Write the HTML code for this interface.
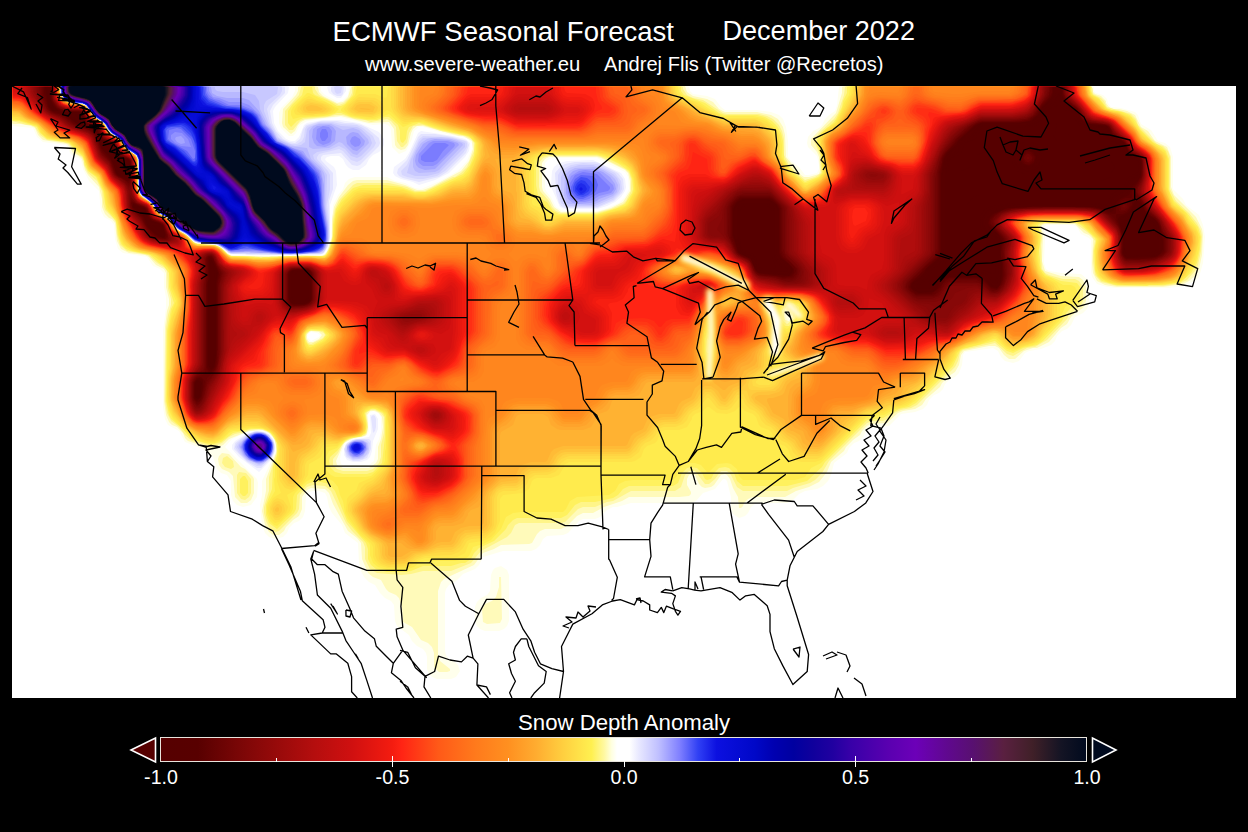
<!DOCTYPE html>
<html><head><meta charset="utf-8">
<style>
html,body{margin:0;padding:0;background:#000;width:1248px;height:832px;overflow:hidden;}
body{position:relative;font-family:"Liberation Sans",sans-serif;color:#fff;}
.t{position:absolute;white-space:nowrap;line-height:1;}
#map{position:absolute;left:12px;top:86px;width:1224px;height:612px;background:#fff;overflow:hidden;}
#map svg{position:absolute;left:0;top:0;}
#cb{position:absolute;left:161px;top:738px;width:926px;height:24px;background:linear-gradient(to right,#560000 0.00%,#580000 4.00%,#780606 8.20%,#960a0a 12.35%,#b40e0e 16.50%,#d01010 20.65%,#f41c10 25.00%,#ff2414 26.00%,#ff5a18 30.00%,#ff7a1c 34.00%,#ff9020 37.50%,#ffac30 40.50%,#ffd040 43.50%,#fff050 46.50%,#fff8a0 47.85%,#ffffe0 48.65%,#ffffff 49.25%,#ffffff 50.60%,#e8e8ff 51.60%,#c0c0ff 53.70%,#8080ff 56.00%,#3040f4 58.00%,#0c10e0 60.00%,#0008c8 64.10%,#0000b0 66.20%,#0000a0 68.30%,#10009c 70.40%,#2000a0 72.50%,#3800a8 74.50%,#5a00b0 78.60%,#6c00b8 81.50%,#600890 84.80%,#581070 87.70%,#5a2040 91.00%,#402028 94.10%,#141424 97.20%,#000a1e 100.00%);}
#cbo{position:absolute;left:160px;top:737px;width:925px;height:23px;border:1.5px solid #e8e4dc;}
.tk{position:absolute;width:1px;background:#fff;}
.lb{position:absolute;white-space:nowrap;line-height:1;font-size:19.6px;}
</style></head><body>
<div class="t" id="t1" style="left:332.6px;top:18px;font-size:27.55px;">ECMWF Seasonal Forecast</div>
<div class="t" id="t2" style="left:722.5px;top:18px;font-size:27.05px;">December 2022</div>
<div class="t" id="t3" style="left:365px;top:54px;font-size:20.3px;">www.severe-weather.eu</div>
<div class="t" id="t4" style="left:604px;top:54px;font-size:20.1px;">Andrej Flis (Twitter @Recretos)</div>
<div id="map"><svg width="1224" height="612" viewBox="0 0 1224 612" style="position:absolute;left:0;top:0;filter:blur(0.7px)"><g fill-rule="evenodd"><path fill="#ffffec" d="M-2 1l3 -3l46 0l1 9l6 8l19 4l6 8l6 6l4 2l6 8l6 6l4 2l12 14l7 4l2 4l0 30l3 6l8 6l12 14l8 4l8 10l10 6l9 8l15 1l8 2l12 9l60 1l2 -1l30 0l3 -2l3 -6l2 -8l2 -34l5 -10l5 -6l2 -6l4 -4l6 -2l32 0l8 4l10 2l10 5l6 1l19 -8l18 -10l9 -10l5 -12l0 -6l-5 -5l-20 -4l-24 -7l-4 0l-5 4l-2 8l-6 12l-7 3l-7 -7l-1 -16l-1 -4l-2 -2l-3 -1l-12 1l-34 -8l-32 4l-7 4l-4 8l-3 3l-4 0l-8 -8l-2 -5l0 -10l2 -5l11 -11l3 -6l0 -4l4 -2l18 0l4 2l0 4l4 4l14 7l4 -2l5 -5l1 -8l2 -2l36 0l2 -1l286 0l10 1l4 2l1 4l3 3l14 2l8 3l6 8l4 3l32 0l14 2l8 3l4 4l3 8l2 14l0 16l3 4l8 6l6 8l4 0l8 -2l2 -4l0 -4l-2 -9l-9 -9l-1 -4l1 -6l5 -6l6 -3l3 -3l3 -6l4 -4l6 -4l2 -6l2 -18l4 -2l10 -1l236 0l5 3l0 4l2 2l7 2l4 4l1 4l3 4l10 1l14 4l3 3l3 9l10 6l7 11l7 2l5 4l3 10l0 32l10 10l3 6l13 10l4 10l2 12l-2 26l-4 14l-4 4l-12 5l-14 2l-54 0l-8 -1l-10 -3l-5 -7l-1 -6l0 -31l-2 -2l-8 -4l-4 -7l-4 -2l-26 0l-3 2l1 10l-1 26l2 6l3 2l12 2l20 1l6 5l2 4l0 20l-2 6l-4 4l-8 4l-4 8l-4 4l-5 2l-5 5l-2 5l-4 4l-10 4l-12 2l-4 2l-6 8l-6 2l-8 -2l-4 -4l-3 -6l-5 -3l-28 4l-2 3l-1 10l-3 8l-4 4l-5 2l-5 5l-2 5l-4 4l-5 2l-5 5l-2 5l-4 4l-8 3l-14 2l-12 12l-20 2l-3 3l-3 6l-4 4l-5 2l-5 5l-2 5l-13 10l-3 12l-3 6l-5 5l-6 3l-12 2l-6 3l-7 7l-5 2l-28 0l-4 1l-4 3l-3 6l-3 3l-6 2l-6 -4l-2 -5l0 -12l-4 -16l-2 -2l-2 0l-8 10l-12 4l-7 8l-5 2l-60 0l-14 4l-4 0l-6 3l-7 7l-5 2l-12 0l-4 2l-11 12l-5 2l-16 1l-4 3l-3 6l-4 4l-5 2l-28 0l-20 6l-4 8l-4 4l-12 5l-8 8l-6 3l-3 4l-1 4l0 58l1 4l3 4l6 3l3 3l2 6l-4 6l-5 2l-14 0l-5 -2l-3 -3l-2 -5l0 -12l-1 -4l-3 -4l-6 -3l-5 -5l-3 -6l-12 -9l-2 -5l-1 -16l-3 -4l-6 -3l-5 -5l-5 -8l-6 -3l-5 -5l-3 -6l-2 -8l-1 -20l-13 -10l-3 -8l-10 -12l-3 -6l-2 -10l-2 -4l-6 -2l-6 0l-4 1l-3 3l-1 16l-2 6l-4 4l-5 2l-5 5l-2 5l-4 4l-8 2l-6 -2l-4 -4l-3 -8l-2 -20l2 -10l0 -14l14 -30l-1 -10l-4 -6l-4 -3l-6 -2l-6 0l-8 2l-15 7l-7 8l32 32l1 4l-1 14l-6 8l-8 2l-6 -2l-4 -4l-2 -6l0 -14l-4 -6l-6 -2l-4 -4l-4 -12l-10 -8l-18 -7l-6 -11l-11 -6l-3 -6l-2 -12l0 -76l3 -24l0 -10l-2 -10l0 -14l-4 -4l-7 -3l-6 -9l-24 -4l-5 -4l-3 -10l-1 -14l-3 -4l-7 -4l-3 -6l-2 -20l-10 -10l-6 -12l-2 -9l-2 -2l-6 -2l-3 -3l-1 -4l-3 -4l-23 -3l-6 -5l-4 -9l-20 -2l-1 -1l-2 -8zM295 251l4 4l8 -4l1 -2l-3 -2l-6 -1l-2 1zM366 327l-5 -2l-4 2l-1 2l1 16l-2 4l-4 2l-14 3l-4 3l-4 10l-1 6l1 5l2 1l26 0l5 -4l2 -16l3 -6l2 -8l0 -14zM533 77l0 24l1 4l5 6l5 10l7 4l34 0l8 -2l14 -6l6 -6l4 -8l-1 -12l-3 -5l-28 -14l-42 0l-6 1zM777 223l-1 2l1 5l1 -3zM489 480l6 4l2 5l0 46l-2 5l-3 3l-5 2l-14 0l-5 -2l-3 -3l-2 -5l0 -14l2 -5l4 -4l6 -3l3 -4l1 -16l2 -5l2 -2z"/><path fill="#fffaba" d="M-2 1l3 -3l44 0l3 3l0 6l3 6l8 4l6 0l8 2l6 8l6 6l4 2l6 8l6 6l4 2l12 14l7 4l2 4l0 30l1 4l6 6l4 2l12 14l8 4l10 12l6 3l10 9l20 2l8 4l6 6l4 1l36 1l2 -1l28 0l2 -1l20 1l3 -1l3 -3l5 -15l0 -18l2 -12l5 -10l9 -12l5 -4l4 -1l30 0l18 5l12 5l6 0l8 -3l30 -16l8 -10l4 -12l-1 -8l-9 -5l-4 0l-36 -10l-6 0l-4 3l-2 4l-3 12l-3 4l-4 1l-4 -2l-2 -3l-1 -16l-5 -7l-20 1l-28 -7l-36 4l-4 2l-3 3l-3 6l-4 3l-8 -7l-1 -4l1 -14l13 -14l2 -4l0 -4l7 -2l6 0l7 2l1 5l4 4l14 7l6 -1l5 -5l3 -10l4 -2l48 0l2 -1l262 0l18 2l2 6l6 4l14 3l6 3l6 7l6 3l32 0l14 3l7 4l5 8l2 8l1 22l15 18l3 2l5 0l10 -3l1 -3l-1 -14l-2 -5l-6 -7l0 -6l25 -26l6 -20l0 -6l7 -2l10 0l2 -1l224 0l6 2l2 3l0 3l2 2l6 2l5 5l0 2l3 4l4 2l6 0l8 2l8 4l6 12l7 4l7 10l12 6l4 10l0 30l3 8l22 22l6 12l1 6l-1 20l-3 14l-3 6l-7 6l-6 3l-20 3l-46 0l-12 -2l-8 -4l-4 -8l-1 -10l1 -24l-4 -4l-5 -2l-9 -9l-30 0l-3 1l-1 2l2 8l-1 26l3 10l16 5l18 1l4 3l3 7l0 14l-3 7l-8 5l-4 4l-4 7l-6 4l-12 14l-12 6l-4 0l-9 3l-9 8l-6 0l-5 -4l-5 -7l-4 -2l-6 0l-25 5l-3 4l-2 10l-4 7l-6 4l-7 7l-2 4l-14 12l-4 6l-7 4l-12 2l-5 2l-11 10l-16 1l-4 2l-5 5l-2 4l-7 5l-7 7l-2 4l-13 11l-4 10l-8 10l-10 5l-13 4l-11 6l-32 0l-5 2l-4 4l-1 3l-2 2l-2 0l-1 -11l-5 -9l-3 -9l-3 -4l-2 -1l-4 1l-7 10l-3 2l-6 1l-3 -1l-3 -3l-4 -9l-4 -1l-2 1l-2 4l0 6l4 7l0 2l-2 2l-10 1l-50 0l-7 4l-18 6l-11 6l-10 0l-6 3l-10 10l-6 3l-16 0l-5 2l-3 3l-5 9l-3 1l-28 1l-7 4l-11 4l-9 12l-30 14l-3 3l-3 9l0 64l2 6l10 8l0 2l-3 1l-8 0l-5 -5l0 -14l-2 -6l-4 -4l-7 -3l-9 -13l-9 -5l-1 -15l-3 -9l-3 -3l-7 -3l-3 -3l-5 -9l-8 -3l-5 -4l-6 -14l-1 -16l-4 -5l-9 -7l-15 -27l-4 -11l-4 -4l-14 -1l-4 2l-5 7l0 12l-3 7l-6 4l-7 7l-2 4l-5 4l-6 0l-4 -3l-4 -7l-3 -14l4 -20l0 -12l10 -26l0 -10l-3 -6l-4 -4l-6 -3l-14 1l-20 8l-6 6l-8 4l-4 0l-23 -8l-3 -3l-2 -5l-6 -6l-5 -2l-3 -3l-3 -7l-2 -14l1 -74l2 -16l2 -6l0 -6l-3 -12l0 -14l-2 -4l-8 -4l-7 -8l-4 -2l-16 -2l-8 -4l-4 -8l-2 -18l-3 -4l-3 -1l-4 -4l-3 -7l0 -8l-3 -12l-11 -12l-3 -5l-3 -11l-3 -3l-6 -3l-3 -6l-3 -3l-24 -4l-5 -5l-3 -7l-4 -2l-10 -2l-8 0l-1 -1l-2 -12zM295 253l2 3l4 0l6 -3l3 -4l-3 -3l-8 -1l-4 3zM367 327l-4 -2l-5 0l-3 4l1 8l-1 11l-2 2l-12 2l-9 5l-8 18l1 4l6 3l26 0l7 -5l2 -4l0 -12l3 -8l2 -12l-1 -10zM530 77l0 24l1 4l7 8l4 8l7 5l36 0l14 -4l12 -6l7 -11l0 -10l-2 -8l-3 -3l-24 -12l-4 -1l-48 0l-4 2zM779 219l-4 0l-2 4l-1 8l1 3l4 1l4 -4l1 -8zM210 367l7 1l12 13l4 2l8 8l1 2l0 14l-3 7l-4 3l-6 0l-6 -6l-2 -21l-4 -4l-7 -3l-3 -4l-1 -6l1 -3zM489 491l1 42l-2 4l-13 1l-4 -2l-1 -13l3 -5l7 -3l4 -4l3 -10l0 -10z"/><path fill="#fff589" d="M-2 1l3 -3l44 0l3 3l0 6l3 6l4 3l18 3l4 4l4 7l8 5l4 4l4 7l8 5l4 4l4 7l12 9l1 4l0 28l1 4l3 4l7 4l9 12l9 5l12 13l10 6l4 5l4 2l18 1l6 3l6 6l4 2l46 1l2 -1l44 0l2 -1l4 -6l3 -10l1 -20l2 -10l4 -9l14 -15l4 -2l32 0l18 4l8 4l10 0l28 -14l2 0l6 -4l6 -6l7 -16l0 -8l-3 -4l-6 -3l-24 -5l-18 -6l-10 1l-4 7l-2 10l-4 4l-2 0l-4 -6l-1 -14l-5 -6l-4 -2l-16 3l-6 -2l-10 -1l-12 -4l-8 0l-8 2l-22 2l-5 2l-7 9l-4 0l-4 -5l0 -14l14 -16l2 -8l2 -1l10 0l2 1l0 2l4 6l20 10l5 -2l6 -6l2 -4l0 -6l3 -1l32 0l2 -1l28 0l2 -1l240 0l2 1l20 1l2 1l0 2l4 6l6 3l10 2l20 13l4 1l32 0l8 2l6 3l6 6l3 6l2 8l0 16l5 10l6 7l10 8l10 -3l6 -4l-1 -18l-6 -14l5 -8l15 -14l4 -6l6 -18l1 -8l2 -1l20 -1l2 -1l214 0l6 1l3 2l1 7l8 4l3 3l3 6l24 7l5 5l2 6l19 19l6 2l5 5l2 6l0 32l6 12l13 12l8 10l4 8l1 6l-1 14l-3 14l-3 6l-8 9l-8 4l-16 2l-46 0l-16 -4l-6 -7l-2 -14l0 -10l2 -10l-4 -6l-16 -12l-30 0l-5 2l2 12l-1 8l1 24l3 4l4 2l14 4l12 0l4 2l4 6l0 14l-2 4l-12 10l-2 4l-20 21l-12 7l-8 1l-14 8l-6 -2l-12 -11l-32 7l-3 3l-2 8l-3 6l-38 38l-6 3l-10 2l-7 3l-5 5l-6 3l-10 0l-6 2l-38 38l-7 12l-7 7l-5 3l-17 5l-6 3l-44 0l-6 -4l-6 -12l-4 -4l-6 0l-6 8l-6 5l-4 0l-10 -13l-6 0l-4 4l-4 12l-6 4l-44 0l-18 10l-6 1l-12 5l-12 0l-5 2l-13 13l-4 1l-42 0l-4 2l-4 8l-4 4l-26 14l-10 12l-20 8l-28 0l-12 3l-10 1l-24 -2l-7 -4l-5 -10l0 -12l-2 -5l-11 -11l-6 -8l-15 -32l-6 -5l-12 -1l-6 2l-7 8l-1 14l-2 4l-18 18l-4 1l-6 -5l-3 -6l-2 -8l0 -6l5 -16l0 -14l8 -26l-2 -12l-5 -6l-3 -2l-8 -2l-10 1l-4 2l-10 2l-6 3l-7 6l-7 3l-6 0l-17 -5l-7 -6l-6 -8l-8 -6l-4 -8l-2 -12l1 -72l2 -14l3 -10l0 -6l-3 -10l-1 -18l-2 -3l-8 -5l-9 -8l-21 -4l-7 -6l-3 -10l-1 -12l-2 -4l-9 -9l-2 -7l-1 -12l-5 -10l-9 -8l-4 -8l0 -4l-2 -4l-5 -3l-8 -10l-6 -2l-16 -2l-7 -5l-5 -8l-4 -2l-4 0l-15 -4l-2 -16zM294 253l2 4l3 1l12 -6l2 -3l-1 -2l-5 -2l-10 0l-3 4zM369 327l-6 -3l-4 0l-4 2l-1 3l2 12l-1 5l-2 3l-4 2l-4 0l-10 3l-5 5l-4 8l-5 6l0 6l4 4l6 2l24 0l6 -2l6 -6l2 -6l0 -12l3 -12l0 -16zM527 77l0 24l1 4l9 10l3 6l4 4l5 2l36 0l14 -4l12 -5l3 -3l5 -10l0 -12l-2 -6l-4 -4l-24 -12l-4 -1l-48 0l-6 2zM781 218l-8 1l-3 6l-1 6l2 4l4 3l8 -6l2 -5l0 -4l-2 -4zM211 372l4 -2l6 5l1 6l-3 2l-6 -2l-3 -4zM227 386l7 1l5 6l0 14l-2 4l-4 3l-4 -1l-4 -6l0 -18z"/><path fill="#fff15e" d="M-2 1l3 -3l44 0l2 1l1 10l5 6l20 4l4 4l3 6l3 3l6 3l4 4l3 6l3 3l6 3l4 4l3 6l13 10l1 4l0 30l2 4l3 3l6 3l4 4l3 6l3 3l8 4l9 11l9 5l8 8l4 2l18 1l6 3l6 6l4 2l28 1l2 1l2 -1l60 -1l3 -1l4 -8l3 -10l0 -12l3 -16l6 -10l11 -11l10 -3l22 0l16 2l14 5l10 0l38 -18l7 -9l4 -10l1 -12l-4 -5l-4 -2l-26 -6l-22 -7l-10 4l-2 4l-1 8l-3 4l-2 -1l-1 -3l0 -8l-2 -6l-9 -8l-4 0l-8 3l-10 0l-16 -3l-10 -4l-4 0l-8 3l-26 2l-6 3l-6 6l-3 -4l0 -12l4 -6l10 -10l2 -8l8 0l1 6l2 2l14 6l8 5l4 0l4 -2l8 -9l1 -8l3 -1l88 -1l2 -1l186 0l2 1l38 0l8 2l0 4l3 4l21 8l14 10l6 2l32 0l8 2l7 4l5 5l4 7l2 8l1 18l6 10l15 13l13 -5l4 -4l-1 -18l-4 -10l0 -6l4 -6l12 -10l3 -4l6 -12l1 -6l4 -8l0 -6l8 -2l54 0l2 -1l10 0l2 1l156 -1l8 1l4 2l0 4l2 4l6 3l8 10l4 2l12 2l7 3l5 5l5 9l13 13l9 5l4 4l3 8l0 30l1 4l4 8l13 12l11 14l3 10l-1 12l-3 14l-6 10l-10 9l-16 3l-16 0l-2 1l-32 -1l-13 -4l-5 -5l-2 -5l-1 -20l2 -10l-1 -3l-14 -13l-4 -2l-36 0l-3 2l3 12l-2 14l2 18l5 6l15 6l16 2l3 4l0 14l-1 2l-8 5l-5 5l-4 8l-19 20l-6 4l-14 3l-10 5l-6 -2l-12 -10l-32 8l-3 2l-7 15l-37 37l-7 4l-10 2l-16 9l-16 2l-42 42l-3 5l-15 14l-20 5l-44 0l-6 -5l-3 -8l-5 -5l-4 -1l-6 1l-5 5l-3 6l-4 1l-2 -1l-3 -6l-5 -5l-6 -1l-4 1l-5 5l-4 10l-5 3l-44 0l-6 3l-5 6l-5 3l-18 4l-14 0l-6 3l-8 10l-6 3l-44 0l-4 2l-5 5l-2 4l-12 12l-15 7l-5 5l-3 6l-6 4l-4 0l-10 3l-28 0l-12 5l-6 1l-18 0l-11 -3l-5 -4l-3 -6l0 -10l-2 -6l-19 -22l-12 -30l-6 -7l-8 -2l-8 0l-6 2l-10 11l-1 14l-2 4l-17 16l-8 -6l-3 -8l0 -10l6 -16l1 -22l4 -12l0 -12l-6 -10l-8 -4l-12 0l-18 4l-12 9l-10 3l-20 -6l-8 -10l-12 -10l-2 -4l-3 -14l1 -70l4 -22l3 -6l-5 -16l0 -14l-6 -8l-4 -2l-9 -8l-19 -4l-5 -2l-5 -5l-3 -9l-2 -14l-10 -12l-3 -18l-7 -14l-8 -6l-3 -6l-2 -8l-14 -14l-22 -4l-7 -6l-3 -6l-18 -6l-6 0l-2 -6zM293 251l2 6l2 2l4 0l10 -6l3 -4l-3 -4l-12 -1l-5 3zM371 327l-8 -4l-4 0l-6 4l2 12l-1 8l-7 4l-8 1l-6 3l-8 10l-7 6l-1 4l1 6l5 5l8 2l24 0l6 -2l9 -9l3 -26l0 -20zM525 75l-1 4l0 20l2 10l5 5l4 2l6 9l6 3l38 0l20 -6l8 -4l7 -11l1 -4l-1 -10l-3 -8l-10 -7l-12 -6l-10 -3l-50 0l-6 2zM695 252l-1 13l1 2l2 0l1 -8l-1 -5zM781 217l-6 0l-4 2l-2 4l-2 10l6 7l4 0l10 -11l0 -8zM231 390l2 0l3 5l0 12l-3 3l-2 0l-3 -3l0 -14z"/><path fill="#ffeb4d" d="M-2 1l3 -3l42 0l4 2l1 9l5 6l6 2l10 1l6 3l5 8l3 3l6 3l4 4l3 6l3 3l6 3l4 4l3 6l13 10l1 4l0 30l2 4l3 3l6 3l10 13l8 4l10 12l9 5l8 8l7 2l16 1l4 2l8 8l24 1l2 1l18 0l16 -2l26 0l2 1l8 -1l3 -3l4 -10l4 -30l5 -10l12 -12l6 -3l36 0l8 1l12 4l14 -1l34 -16l5 -5l6 -12l2 -8l0 -8l-7 -7l-28 -7l-22 -7l-6 1l-10 4l-14 -13l-14 5l-8 0l-16 -3l-10 -5l0 -2l14 -14l2 -8l30 0l12 -2l60 0l2 -1l142 0l2 1l64 0l9 2l1 5l4 4l8 4l8 2l12 8l12 6l30 0l10 2l4 2l8 7l5 8l2 10l0 12l7 13l15 13l3 0l13 -6l3 -4l-1 -16l-4 -16l4 -8l5 -5l8 -5l6 -11l3 -9l5 -8l1 -8l9 -2l170 0l2 -1l46 0l10 1l3 2l0 4l2 4l7 4l8 10l14 3l10 5l8 12l14 14l12 8l3 8l0 30l6 14l12 10l3 6l7 8l4 10l-1 12l-3 12l-3 6l-7 10l-5 4l-6 2l-18 2l-38 0l-12 -3l-8 -5l-3 -6l-1 -8l0 -14l2 -10l-14 -14l-8 -3l-32 0l-4 1l-3 2l0 2l4 10l-2 20l1 8l3 8l3 3l6 2l12 7l8 0l4 2l2 4l-1 10l-11 6l-6 14l-20 21l-6 3l-10 2l-10 4l-6 -2l-11 -10l-3 0l-12 5l-20 5l-4 4l-1 4l-5 8l-36 36l-8 5l-12 3l-11 6l-13 1l-6 3l-44 44l-10 5l-6 9l-10 3l-52 0l-4 -4l-2 -7l-6 -5l-4 -1l-10 1l-8 8l-2 0l-6 -7l-6 -2l-6 0l-6 2l-4 4l-2 7l-4 4l-40 0l-8 1l-6 3l-4 7l-6 4l-32 2l-7 4l-4 8l-3 3l-42 0l-8 1l-7 4l-5 12l-10 11l-8 4l-10 3l-4 9l-4 3l-10 2l-30 0l-6 2l-5 4l-9 3l-18 0l-9 -3l-5 -4l-3 -8l0 -10l-1 -2l-9 -8l-12 -16l-3 -6l-2 -12l-3 -6l-2 -8l-5 -6l-4 -2l-18 0l-4 2l-12 12l-2 4l0 12l-2 4l-14 13l-3 -1l-4 -4l-3 -8l0 -6l1 -4l7 -12l-1 -12l1 -2l0 -12l3 -12l0 -8l-3 -8l-6 -6l-8 -3l-10 0l-12 3l-6 0l-4 2l-6 6l-8 4l-8 0l-8 -2l-8 -4l-18 -18l-4 -8l-2 -8l1 -72l4 -20l4 -10l-5 -12l-2 -19l-2 -3l-12 -10l-6 -3l-16 -3l-10 -6l-3 -6l-4 -20l-7 -8l-3 -6l-2 -14l-7 -14l-8 -6l-6 -15l-13 -13l-5 -2l-6 0l-12 -3l-6 -5l-4 -7l-18 -6l-6 0l-2 -7zM293 255l4 6l2 0l12 -6l5 -6l-5 -5l-12 -1l-4 2l-2 3zM370 325l-9 -3l-6 2l-3 3l2 10l-1 10l-4 3l-12 2l-4 2l-8 8l-8 3l-3 6l-1 8l2 6l4 4l4 2l30 0l6 -1l12 -11l2 -4l0 -10l1 -2l0 -34zM522 75l0 32l3 8l8 4l4 6l4 3l4 1l40 0l28 -9l3 -3l5 -10l1 -4l-1 -10l-3 -8l-5 -5l-20 -10l-8 -2l-50 0l-10 4zM695 246l-2 7l0 14l2 4l2 0l2 -4l-1 -16zM787 218l-12 -2l-7 5l-4 12l7 8l4 2l14 -12l1 -6zM279 29l0 -4l2 -4l14 -14l2 0l30 16l-4 4l-12 3l-22 1l-8 2z"/><path fill="#ffe349" d="M-2 1l3 -3l42 0l4 2l1 9l5 6l4 2l12 1l6 3l5 8l3 3l6 3l4 4l3 6l13 10l3 6l3 3l8 5l3 8l0 28l2 4l3 3l6 3l10 13l8 4l10 12l10 6l8 8l18 1l6 2l8 8l4 2l16 0l2 1l28 0l16 -2l30 1l4 -2l2 -3l4 -11l2 -20l2 -8l8 -12l10 -9l6 -2l42 0l12 4l10 0l10 -3l16 -9l8 -2l6 -3l4 -5l8 -19l0 -10l-5 -6l-7 -3l-18 -4l-24 -8l-12 0l-4 2l-4 0l-12 -12l-4 -2l-6 5l-8 3l-18 -2l-6 -2l-4 -3l-1 -2l3 -4l12 -11l16 0l10 4l2 -1l1 -10l15 -2l154 -1l2 1l108 0l9 2l1 6l5 4l15 6l13 8l13 6l4 1l30 0l10 4l9 9l3 6l2 20l8 15l10 7l6 6l2 0l11 -6l6 -6l-1 -14l-3 -12l0 -8l5 -8l12 -9l12 -25l2 -2l1 -8l9 -2l172 0l2 -1l50 1l4 2l2 8l8 5l7 9l5 2l8 1l10 5l14 18l22 18l2 4l0 30l3 10l4 8l9 6l6 10l7 8l2 4l1 8l-4 18l-5 10l-8 10l-7 3l-12 2l-38 1l-16 -3l-6 -3l-4 -4l-3 -10l0 -16l2 -10l-15 -15l-6 -2l-36 0l-4 1l-3 2l5 12l-2 12l0 10l2 10l6 8l11 6l4 6l0 22l-1 6l-4 6l-18 19l-22 7l-4 0l-6 -3l-6 -7l-4 -2l-12 5l-16 4l-7 3l-4 4l-4 8l-5 6l-36 35l-6 3l-12 3l-10 5l-15 2l-13 11l-34 34l-6 2l-14 0l-8 -3l-2 -2l-3 -8l-3 -3l-8 -3l-2 -2l-3 -8l-3 -3l-8 -3l-2 -2l-3 -8l-3 -3l-8 -3l-4 -4l-2 0l-4 4l-8 3l-10 -1l-8 -6l-2 0l-4 4l-8 3l-3 3l0 2l-5 8l-8 3l-14 0l-3 1l-2 2l-3 8l-2 2l-8 3l-3 3l-3 8l-6 4l-4 1l-62 0l-5 3l0 2l-5 8l-8 3l-14 0l-3 1l-2 2l-3 8l-6 4l-20 2l-3 4l0 22l-5 12l-4 4l-8 4l-14 2l-4 10l-8 4l-10 1l-22 0l-6 2l-10 7l-4 1l-18 0l-8 -3l-4 -4l-2 -4l0 -10l-2 -4l-11 -10l-10 -14l-4 -8l1 -12l2 -3l7 -5l3 -8l14 -6l12 -12l2 -4l1 -36l-2 -12l-9 -5l-8 0l-4 2l-2 5l3 10l0 4l-3 5l-4 2l-8 1l-8 4l-6 5l-11 1l-2 2l-3 8l-12 7l-1 11l-5 8l-6 6l-10 6l4 12l-1 4l-9 10l-6 2l-4 -4l-3 -8l1 -6l4 -7l8 -5l-4 -12l0 -16l2 -10l0 -8l-5 -12l-3 -3l-8 -4l-12 -1l-20 3l-10 9l-6 3l-8 0l-14 -5l-20 -20l-3 -6l-3 -16l1 -24l1 -2l0 -38l2 -12l6 -14l0 -6l-5 -12l-1 -16l-8 -9l-12 -8l-16 -3l-8 -4l-4 -4l-2 -4l-3 -16l-3 -7l-7 -9l-3 -14l-7 -16l-10 -8l-5 -14l-12 -12l-4 -2l-18 -3l-4 -2l-3 -3l-3 -6l-3 -2l-23 -7l-2 -7zM292 249l1 8l2 4l2 1l5 -1l11 -6l4 -4l0 -4l-6 -4l-14 0l-3 2zM519 77l1 40l1 2l10 4l6 8l8 -1l38 0l26 -7l7 -4l7 -14l-1 -12l-4 -10l-3 -3l-12 -7l-10 -4l-8 -2l-48 0l-14 4zM695 243l-3 10l0 14l2 6l3 1l3 -7l0 -8l-3 -16zM787 217l-14 -1l-4 2l-7 13l1 4l12 11l16 -15l0 -10zM763 276l-2 2l0 7l6 -4l0 -2zM282 25l3 -6l6 -6l6 -3l8 4l8 2l6 3l4 4l-2 3l-4 2l-16 2l-16 -1l-2 -1z"/><path fill="#ffdb45" d="M-1 1l2 -2l10 -1l30 0l6 2l1 9l5 6l4 2l12 1l6 3l5 8l11 8l5 8l11 8l8 11l8 5l2 4l0 24l1 8l2 4l11 8l8 11l8 4l10 12l10 6l6 7l4 2l16 0l5 2l9 8l4 2l36 2l2 -1l34 -1l2 -1l20 1l4 -4l5 -14l2 -18l3 -9l3 -5l15 -14l14 -2l28 0l16 4l10 0l8 -2l22 -11l6 -1l8 -6l5 -10l4 -12l0 -10l-5 -6l-6 -3l-24 -6l-20 -7l-18 1l-4 -2l-7 -7l-3 -6l0 -20l4 -1l12 0l2 -1l256 0l10 2l0 4l2 4l4 3l6 2l30 16l8 3l30 0l13 6l5 5l5 9l1 16l8 15l4 5l4 2l10 10l16 -9l4 -5l-4 -26l0 -8l2 -4l6 -6l8 -5l16 -31l0 -6l10 -2l172 0l2 -1l48 1l4 2l0 4l2 5l6 4l8 9l4 2l8 1l12 6l12 16l7 7l16 12l2 4l0 30l4 12l3 6l12 10l4 8l7 8l2 6l0 6l-3 12l-10 20l-6 5l-6 2l-18 2l-34 0l-10 -2l-8 -4l-3 -3l-3 -8l-1 -10l3 -18l-13 -14l-11 -4l-32 0l-8 2l-3 2l4 6l2 6l0 6l-2 6l0 10l2 10l5 8l10 6l4 6l0 26l-3 6l-8 8l-5 8l-8 6l-20 5l-6 -2l-10 -10l-4 0l-16 7l-10 2l-11 6l-6 10l-41 40l-8 4l-10 2l-8 4l-10 1l-10 4l-40 40l-6 3l-12 0l-8 -3l-4 -4l-2 -5l-4 -4l-5 -2l-5 -5l-2 -5l-4 -4l-5 -2l-5 -5l-2 -5l-4 -4l-5 -2l-5 -5l-2 -5l-4 -1l-8 10l-4 2l-6 0l-4 -2l-8 -10l-2 0l-9 11l-5 2l-4 4l-2 5l-4 4l-8 3l-12 0l-4 2l-4 7l-5 5l-5 2l-4 4l-2 5l-8 6l-4 1l-60 0l-6 4l-2 5l-4 4l-8 3l-12 0l-6 4l-2 5l-4 4l-8 3l-12 0l-4 2l-2 4l0 26l-2 6l-10 9l-14 1l-4 2l-4 7l-4 4l-8 3l-26 1l-8 3l-10 7l-18 1l-8 -3l-4 -4l-2 -5l0 -10l-1 -2l-14 -12l-12 -20l0 -6l2 -4l9 -8l2 -5l4 -4l8 -4l11 -11l4 -6l1 -36l-2 -14l-2 -2l-10 -4l-6 0l-4 2l-3 4l3 12l0 6l-5 4l-13 3l-10 6l-12 0l-2 1l-4 7l-5 5l-7 4l-2 4l0 10l-3 6l-7 7l-4 2l-6 -2l-5 -7l-1 -4l1 -30l-5 -12l-4 -4l-12 -5l-12 0l-18 3l-10 10l-6 2l-6 0l-6 -2l-12 -7l-16 -17l-4 -10l-1 -6l0 -20l2 -12l0 -38l3 -12l5 -12l0 -6l-5 -12l0 -14l-2 -4l-14 -13l-4 -2l-16 -3l-10 -5l-3 -3l-3 -6l-3 -16l-10 -18l-2 -10l-7 -16l-10 -8l-3 -6l-2 -8l-13 -13l-20 -4l-4 -2l-10 -11l-10 -3l-10 -5l-4 0l-2 -8zM293 260l2 3l4 1l14 -8l6 -7l-6 -6l-4 -1l-13 1l-4 4zM517 75l0 42l2 4l7 4l9 10l14 -4l34 0l26 -7l6 -3l4 -4l5 -12l-2 -16l-3 -6l-10 -8l-12 -6l-14 -3l-46 0l-10 2l-7 3zM695 240l-3 7l-1 22l2 6l2 3l2 0l4 -9l0 -10l-4 -19zM761 264l-2 1l-2 4l0 12l-2 5l-11 9l0 2l3 2l10 0l4 -2l4 -7l11 -9l0 -2l-3 -3l-3 -1zM787 216l-6 -1l-10 1l-6 5l-4 8l0 6l12 13l4 -1l14 -14l2 -4l-1 -8zM285 25l1 -4l9 -8l4 0l17 6l4 4l-1 2l-6 3l-10 0l-2 1l-8 0l-4 -1zM335 23l2 -4l10 -8l16 1l4 2l4 4l1 5l-3 4l-10 4l-16 -2l-6 -3zM265 412l6 2l5 7l-2 6l-7 7l-4 0l-5 -7l0 -6l3 -6z"/><path fill="#ffd442" d="M-1 1l2 -2l14 0l2 -1l24 0l4 1l2 2l0 6l4 7l6 3l12 1l6 3l4 7l5 5l7 4l4 7l5 5l7 4l4 7l5 5l7 4l2 4l0 28l3 8l4 4l7 4l4 7l5 5l8 4l10 12l7 4l8 8l4 2l18 1l6 3l8 8l22 1l2 1l20 0l12 -2l32 0l6 1l4 -2l7 -15l2 -16l2 -8l3 -6l12 -13l5 -3l7 -2l40 0l10 3l10 0l8 -2l20 -10l10 -2l6 -5l10 -22l0 -12l-6 -7l-6 -3l-18 -4l-26 -9l-18 0l-4 -2l-7 -9l0 -22l19 -2l250 0l8 1l2 1l1 6l3 4l14 7l2 0l28 15l4 1l30 0l6 2l15 15l2 6l0 12l10 18l7 5l8 9l4 1l14 -9l4 -5l-1 -17l-3 -14l3 -8l5 -5l6 -3l4 -5l15 -27l1 -8l2 -1l8 -1l174 0l2 -1l42 1l5 2l2 8l15 14l4 2l10 2l10 6l12 16l6 6l14 10l4 6l0 28l1 6l6 14l12 10l4 8l8 10l1 10l-3 12l-9 18l-6 6l-18 4l-14 0l-2 1l-28 -1l-12 -5l-6 -7l-2 -10l0 -10l3 -12l-11 -13l-12 -5l-36 0l-6 1l-4 3l5 8l1 4l0 6l-2 6l0 10l3 12l2 4l14 12l0 30l-3 5l-7 7l-3 6l-8 7l-16 4l-6 0l-3 -1l-10 -10l-3 -1l-18 8l-12 3l-6 3l-6 5l-5 8l-39 38l-10 5l-10 2l-6 3l-16 3l-4 2l-42 41l-2 1l-16 0l-4 -2l-8 -11l-8 -5l-8 -11l-8 -5l-8 -11l-11 -8l-5 -9l-6 1l-5 8l-5 4l-8 -1l-5 -7l-5 -5l-2 0l-10 12l-8 5l-8 11l-4 2l-12 0l-8 3l-5 8l-11 8l-5 8l-7 5l-60 0l-8 3l-8 11l-4 2l-16 1l-4 2l-5 8l-7 5l-12 0l-6 2l-3 3l-2 6l0 26l-2 4l-5 5l-4 2l-10 0l-8 3l-5 8l-7 5l-12 0l-18 3l-8 3l-8 6l-18 1l-6 -2l-4 -4l-1 -10l-2 -6l-7 -5l-9 -9l-10 -18l1 -7l10 -10l6 -8l6 -3l13 -14l3 -6l1 -32l-2 -18l-3 -3l-10 -4l-6 0l-6 3l-2 6l4 12l-1 4l-5 4l-10 2l-12 6l-12 -2l-4 2l-5 8l-11 8l-3 8l0 10l-3 5l-6 5l-6 -1l-5 -7l0 -30l-1 -4l-4 -8l-8 -8l-12 -5l-10 0l-12 2l-8 3l-6 7l-8 4l-6 0l-6 -2l-12 -7l-10 -10l-6 -8l-4 -12l0 -26l2 -12l0 -34l8 -24l0 -6l-5 -14l0 -12l-2 -4l-11 -11l-5 -3l-22 -6l-4 -2l-6 -6l-3 -6l-4 -18l-8 -14l-2 -10l-4 -7l-3 -9l-11 -9l-6 -15l-10 -10l-6 -3l-14 -2l-6 -3l-10 -11l-8 -2l-9 -5l-7 -1l-2 -9zM291 249l0 6l4 10l4 0l12 -6l8 -7l1 -3l-5 -6l-8 -2l-10 1l-4 3zM514 77l0 38l3 8l8 5l6 7l4 2l4 0l4 -3l6 -2l34 0l14 -5l16 -3l6 -5l6 -12l0 -8l-2 -10l-4 -8l-6 -5l-16 -8l-16 -3l-42 0l-16 3l-4 2l-4 4zM697 236l-2 1l-2 4l-3 16l0 12l5 12l2 0l2 -3l3 -9l0 -8l-3 -14l0 -6zM791 217l-6 -2l-12 0l-8 4l-6 12l1 4l12 16l5 -1l3 -5l13 -12l1 -8zM764 261l-3 -1l-6 5l-1 16l-5 7l-8 5l-1 2l1 5l8 2l10 -1l4 -2l5 -8l11 -9l-1 -5l-10 -8zM288 23l2 -4l5 -4l16 3l7 5l-3 3l-12 2l-12 -1zM337 23l8 -9l16 0l4 2l4 5l-1 4l-7 4l-16 -1l-6 -2zM267 415l5 4l1 6l-4 5l-4 2l-3 -1l-3 -8l2 -5l2 -2z"/><path fill="#ffcc3e" d="M-1 1l2 -2l20 0l2 -1l18 0l4 1l2 2l0 6l4 7l6 3l10 1l6 2l6 8l5 5l4 2l5 5l2 4l5 5l4 2l12 14l7 4l2 4l0 28l2 7l5 5l4 2l12 14l9 5l6 9l10 6l8 8l4 2l18 1l6 3l8 8l34 3l24 -3l38 1l6 -7l4 -12l2 -16l3 -8l15 -16l8 -4l6 -1l36 0l10 3l10 0l14 -4l12 -7l14 -3l3 -2l11 -22l2 -12l-2 -6l-7 -6l-7 -3l-10 -2l-34 -11l-8 0l-10 -2l-6 -6l-1 -4l0 -20l19 -1l2 -1l244 0l11 2l1 7l4 4l24 12l2 2l20 9l34 1l6 3l10 10l3 6l1 14l6 9l4 9l8 6l8 9l4 1l14 -9l5 -7l-4 -32l3 -6l14 -11l16 -29l1 -8l11 -2l176 0l2 -1l38 1l5 2l1 8l16 15l12 3l8 4l10 10l8 12l12 8l8 8l2 6l0 28l6 16l12 10l4 8l5 6l4 8l0 6l-4 14l-5 11l-8 10l-8 3l-14 2l-36 0l-6 -1l-7 -3l-7 -6l-3 -10l0 -12l3 -12l-12 -14l-10 -4l-42 0l-4 1l-3 3l0 2l6 10l0 6l-3 12l5 18l5 7l7 5l2 4l0 26l-1 4l-8 9l-5 9l-6 4l-15 4l-6 0l-4 -2l-7 -8l-5 -2l-11 4l-7 4l-16 5l-5 3l-6 6l-2 4l-43 41l-28 9l-8 1l-7 3l-11 9l-30 31l-4 1l-12 0l-4 -2l-5 -5l-2 -4l-7 -5l-7 -7l-2 -4l-7 -5l-7 -7l-2 -4l-12 -10l-3 -10l-4 -1l-6 2l-5 7l-7 6l-4 -1l-10 -12l-6 0l-5 7l-7 7l-4 2l-10 12l-4 2l-12 0l-6 2l-5 7l-7 7l-4 2l-10 12l-4 2l-60 0l-4 1l-5 4l-2 4l-5 5l-4 2l-16 1l-5 4l-2 4l-5 5l-4 2l-12 0l-6 3l-5 8l0 28l-3 5l-4 3l-18 2l-5 4l-2 4l-5 5l-4 2l-14 0l-8 3l-12 2l-12 8l-12 1l-6 -1l-6 -5l-2 -14l-16 -13l-11 -18l0 -6l2 -4l7 -6l6 -8l8 -5l5 -5l9 -13l1 -3l0 -46l-3 -7l-8 -4l-6 -1l-9 2l-3 3l-1 3l4 12l0 4l-2 4l-15 4l-8 4l-8 0l-6 -2l-4 1l-5 7l-14 12l-2 6l-1 14l-6 5l-4 0l-5 -7l0 -28l-9 -16l-8 -6l-10 -5l-12 0l-8 3l-4 0l-6 3l-8 8l-6 3l-12 -2l-8 -4l-8 -6l-12 -16l-4 -16l0 -12l2 -12l0 -36l3 -14l6 -16l0 -6l-5 -16l0 -10l-2 -4l-12 -12l-8 -4l-18 -4l-10 -8l-4 -8l-2 -12l-9 -18l-2 -10l-4 -6l-5 -12l-10 -8l-5 -14l-11 -11l-18 -4l-7 -3l-9 -10l-22 -10l-4 0l-2 -10zM321 247l-6 -5l-4 -1l-12 0l-6 3l-2 3l1 16l5 4l6 -2l14 -9l4 -5zM512 75l0 42l1 4l4 5l8 5l4 5l6 3l16 -6l32 0l14 -5l16 -3l6 -4l7 -14l1 -4l-4 -16l-3 -6l-5 -5l-8 -5l-10 -4l-8 -2l-58 0l-13 4zM695 234l-4 11l-2 22l4 15l2 2l2 0l4 -7l2 -14l-3 -14l-1 -12l-2 -3zM792 217l-5 -2l-12 -1l-9 3l-4 4l-3 6l-1 6l3 7l6 8l2 7l4 0l4 -2l6 -10l11 -10l1 -6zM767 257l-6 0l-7 6l-2 4l0 12l-2 4l-12 10l-2 6l1 4l2 1l18 0l4 -1l5 -4l2 -4l7 -7l7 -5l0 -4l-3 -4l-8 -6l-3 -6zM339 23l4 -5l4 -2l12 0l7 5l-1 4l-2 2l-4 1l-14 -1zM291 21l2 -2l6 -2l10 2l6 4l-4 3l-14 1l-4 -1l-2 -2zM265 418l2 0l3 3l0 4l-3 4l-4 0l-2 -4l0 -3z"/><path fill="#ffc33a" d="M-1 1l2 -2l26 0l2 -1l16 1l2 2l0 6l2 5l3 3l9 3l6 0l6 2l4 4l4 7l7 4l5 5l4 7l7 4l5 5l4 7l7 4l5 6l0 30l4 8l7 4l5 5l4 7l10 6l8 10l10 6l8 9l6 2l16 0l16 12l40 2l20 -3l20 0l2 1l12 0l4 -3l6 -14l2 -14l4 -11l14 -15l10 -5l6 -1l32 0l14 3l6 0l14 -3l16 -8l12 -2l5 -4l11 -24l1 -12l-2 -4l-5 -5l-8 -4l-16 -4l-26 -9l-20 -3l-4 -3l-3 -6l0 -20l5 -1l32 0l2 -1l206 0l2 1l22 0l4 1l0 6l5 6l33 17l18 7l28 0l8 4l10 11l2 5l0 10l2 5l6 7l4 9l7 5l9 10l4 1l16 -11l4 -6l-4 -24l0 -8l3 -6l4 -4l7 -4l4 -5l14 -24l2 -5l0 -6l4 -1l38 0l2 -1l30 0l2 1l78 0l2 -1l34 0l2 -1l32 1l6 2l0 4l3 6l13 12l6 3l10 2l5 3l12 12l6 10l11 7l9 9l2 6l0 28l8 18l11 9l4 8l6 8l2 5l0 6l-4 14l-8 16l-4 4l-6 3l-12 2l-38 1l-12 -3l-9 -7l-2 -4l-2 -16l4 -14l-7 -7l-3 -5l-5 -4l-12 -3l-32 0l-14 3l-1 2l7 12l0 6l-3 10l5 20l4 6l9 10l0 26l-12 20l-8 6l-13 3l-6 0l-13 -11l-7 0l-8 3l-8 5l-8 2l-12 6l-5 4l-3 5l-28 27l-8 5l-8 9l-4 2l-12 2l-12 5l-8 1l-6 3l-14 10l-8 11l-16 16l-6 3l-14 -1l-4 -4l-4 -7l-8 -5l-4 -4l-4 -7l-8 -5l-4 -4l-4 -7l-8 -5l-4 -6l2 -3l4 -2l18 -1l4 -3l4 -7l4 -4l8 -5l2 -5l-2 -4l-10 -10l-2 -4l2 -4l6 -6l4 -8l11 -10l2 -4l-1 -10l-2 -4l-4 -2l-6 -1l-14 1l-7 4l-4 8l-1 6l2 6l6 10l-2 4l-11 10l-2 4l-1 14l-4 4l-7 4l-3 4l-1 4l-5 5l-7 3l-7 10l-2 1l-4 -1l-7 -10l-3 -2l-6 0l-4 3l-4 7l-4 4l-8 5l-4 7l-4 4l-16 1l-7 3l-5 8l-4 4l-7 4l-9 12l-4 1l-60 0l-4 1l-4 3l-4 7l-4 4l-20 2l-4 3l-4 7l-4 4l-14 1l-6 3l-4 4l-3 6l0 26l-3 6l-3 2l-19 2l-4 3l-4 7l-4 4l-16 1l-10 4l-12 2l-10 7l-14 1l-7 -3l-2 -4l0 -10l-1 -2l-12 -8l-6 -6l-10 -18l2 -6l16 -16l9 -6l10 -16l1 -4l0 -44l-4 -10l-10 -4l-14 1l-4 5l1 6l3 6l0 8l-6 4l-12 2l-6 3l-6 0l-8 -3l-4 0l-3 2l-5 8l-4 4l-7 4l-3 4l-1 16l-2 4l-5 3l-2 -1l-3 -6l0 -26l-1 -3l-9 -13l-16 -12l-15 -1l-15 5l-11 10l-6 3l-4 0l-10 -3l-13 -8l-12 -16l-4 -12l0 -20l2 -10l0 -34l3 -14l6 -18l-5 -22l0 -10l-15 -15l-10 -4l-12 -2l-8 -4l-5 -5l-4 -8l-4 -16l-7 -14l-3 -12l-2 -2l-6 -14l-9 -6l-2 -3l-6 -15l-8 -8l-6 -3l-18 -4l-14 -13l-10 -3l-8 -6l-6 -1l-2 -8zM318 243l-7 -3l-10 0l-6 2l-5 7l0 10l2 6l2 2l5 1l10 -5l12 -10l2 -4zM510 75l0 44l1 4l3 4l19 13l6 0l12 -6l32 0l10 -4l20 -4l8 -6l7 -15l-4 -18l-4 -8l-7 -6l-12 -6l-14 -3l-54 0l-14 3l-7 4zM697 232l-2 1l-3 6l-4 22l0 6l3 14l4 7l2 0l2 -2l5 -19l0 -4l-3 -10l-1 -16zM697 183l12 3l5 -1l-7 -3zM342 23l3 -4l4 -1l8 0l6 3l-2 5l-14 0zM294 21l5 -2l6 1l6 3l-4 2l-11 0l-2 -2zM263 423l2 -2l2 1l0 3l-2 1l-2 -1z"/><path fill="#ffbb36" d="M-1 1l2 -2l44 0l2 2l1 10l5 5l20 4l8 11l8 5l8 11l8 5l8 11l7 4l5 6l0 30l1 4l3 4l8 5l8 11l10 6l10 12l10 6l6 7l4 2l20 1l11 10l3 1l20 1l2 1l22 0l20 -3l14 0l14 2l4 -2l4 -4l5 -14l3 -16l3 -6l11 -12l8 -6l12 -3l30 0l14 3l6 0l17 -4l11 -6l14 -2l6 -5l12 -27l0 -10l-2 -4l-6 -6l-8 -4l-20 -5l-26 -9l-6 0l-10 -3l-3 -3l-2 -6l0 -18l7 -1l34 0l2 -1l194 0l2 1l28 0l3 1l0 6l3 5l31 17l21 9l28 0l6 2l13 13l2 6l1 12l7 8l5 10l6 4l12 12l4 -1l10 -7l8 -8l1 -4l-3 -12l-1 -20l7 -8l6 -3l3 -3l17 -28l1 -10l3 -1l44 0l2 -1l18 0l2 1l90 0l2 -1l36 0l2 -1l4 1l20 0l6 2l1 8l14 14l3 2l12 3l6 3l14 14l3 6l5 5l6 3l10 10l2 4l0 30l8 18l12 10l10 17l1 9l-7 22l-4 7l-4 4l-8 4l-14 2l-38 0l-12 -5l-6 -8l-2 -10l0 -8l4 -12l-8 -8l-4 -6l-3 -2l-11 -3l-38 0l-10 2l-2 3l7 12l0 6l-3 10l3 14l6 12l7 8l1 4l0 22l-1 4l-12 20l-8 4l-14 2l-5 -2l-8 -8l-7 -1l-10 3l-10 6l-8 2l-10 5l-34 33l-12 7l-8 10l-4 2l-10 1l-8 4l-12 3l-22 12l-3 3l-7 12l-10 10l-6 4l-14 0l-2 -1l-5 -9l-3 -3l-8 -4l-5 -9l-3 -3l-8 -4l-5 -9l-11 -8l0 -2l4 -2l10 0l10 -3l3 -3l4 -8l9 -5l4 -5l0 -5l-13 -15l0 -2l5 -7l5 -11l11 -10l2 -4l-2 -12l-2 -3l-6 -2l-10 -1l-10 2l-4 2l-5 6l-2 8l1 6l5 12l-1 3l-11 11l-3 8l-1 10l-9 5l-3 3l-3 7l-3 3l-7 3l-8 11l-2 0l-5 -8l-7 -5l-6 0l-4 2l-3 3l-4 8l-9 5l-3 3l-5 9l-2 1l-12 0l-10 3l-3 3l-4 8l-9 5l-3 3l-4 8l-3 2l-60 0l-6 1l-7 5l-5 9l-20 2l-7 5l-5 9l-16 2l-12 11l-2 8l0 24l-4 4l-18 1l-7 5l-4 8l-3 2l-10 0l-16 6l-12 2l-8 6l-14 1l-3 -1l-3 -4l0 -8l-2 -4l-6 -5l-8 -4l-5 -5l-9 -18l0 -2l4 -6l10 -10l10 -5l3 -3l9 -18l1 -4l0 -40l-1 -8l-2 -5l-8 -5l-16 -1l-4 2l-3 5l0 4l5 10l0 4l-3 4l-5 2l-12 2l-4 2l-4 0l-10 -4l-8 1l-3 3l-4 8l-9 5l-3 3l-3 8l0 12l-2 3l-2 0l-2 -3l0 -24l-2 -6l-14 -16l-14 -11l-14 0l-6 3l-8 2l-6 4l-8 8l-4 2l-4 0l-10 -3l-12 -7l-12 -16l-4 -10l0 -24l2 -10l0 -34l8 -26l0 -10l-3 -8l-1 -18l-12 -13l-10 -5l-14 -3l-7 -3l-7 -6l-4 -6l-3 -14l-8 -18l-3 -11l-5 -7l-4 -10l-10 -8l-6 -16l-9 -9l-4 -2l-16 -3l-6 -3l-10 -10l-14 -6l-6 -5l-6 -1l-2 -9zM290 263l2 4l3 2l4 0l5 -2l10 -6l7 -6l3 -4l-1 -5l-12 -7l-16 2l-5 6l-1 6zM508 73l-1 4l1 46l5 7l20 11l6 0l14 -6l30 0l16 -6l14 -2l8 -5l8 -17l0 -4l-2 -4l-2 -10l-4 -8l-6 -6l-14 -7l-14 -3l-54 0l-14 3l-7 3zM693 183l4 2l12 2l7 0l1 -2l-8 -4l-14 0zM697 230l-2 1l-3 6l-5 26l4 24l4 4l4 -1l2 -3l4 -20l-4 -18l-1 -16zM720 215l-3 -2l-4 0l-2 2l0 2l4 1zM347 23l2 -1l10 1l-2 1z"/><path fill="#ffb232" d="M-1 1l2 -2l44 0l2 2l0 8l6 7l20 4l3 3l3 6l4 4l6 3l3 3l3 6l4 4l6 3l10 13l6 3l4 5l0 30l2 6l4 4l6 3l10 13l8 4l10 12l10 6l6 7l4 2l16 0l8 4l6 7l6 2l14 0l10 2l10 0l18 -3l30 0l2 1l10 -1l3 -3l3 -6l4 -12l1 -8l4 -10l17 -17l6 -3l10 -2l26 0l18 3l10 -1l12 -3l12 -6l12 -1l6 -4l14 -30l-1 -10l-3 -6l-12 -8l-16 -4l-26 -9l-16 -3l-4 -2l-4 -4l0 -22l6 -1l36 0l2 -1l186 0l2 1l30 0l4 1l0 6l6 8l28 15l22 9l30 1l4 2l11 11l3 8l0 8l7 8l5 10l18 18l4 0l12 -7l9 -9l-4 -34l2 -4l5 -5l6 -3l4 -4l4 -8l8 -10l5 -10l1 -10l4 -1l46 0l2 -1l10 0l2 1l156 -1l7 2l0 4l3 6l14 13l16 5l14 12l8 12l14 10l5 6l2 4l0 28l1 4l8 16l11 10l4 8l6 8l1 10l-6 20l-4 8l-7 6l-9 3l-16 2l-28 0l-11 -3l-8 -6l-4 -10l0 -12l4 -12l-15 -16l-10 -3l-42 0l-10 3l0 4l6 8l0 8l-3 10l4 16l5 10l5 6l2 6l-1 26l-10 18l-8 5l-14 2l-4 -2l-7 -7l-5 -2l-4 0l-10 3l-12 7l-15 6l-5 3l-10 11l-12 9l-12 12l-13 5l-3 7l-3 3l-11 2l-12 6l-12 3l-12 7l-10 3l-5 13l-15 15l-4 1l-8 0l-6 -4l-3 -8l-7 -4l-2 0l-4 -4l-3 -8l-11 -6l-6 -12l0 -2l2 -1l4 0l9 -3l2 -2l3 -8l4 -4l8 -3l2 -3l1 -8l-3 -5l-9 -9l-1 -6l2 -2l5 -12l13 -13l1 -7l-2 -8l-4 -4l-9 -2l-10 0l-10 3l-4 3l-3 6l0 10l4 10l-1 7l-12 12l-2 5l0 6l-2 4l-11 6l-5 11l-10 4l-4 4l-2 0l-11 -9l3 -6l0 -8l2 -8l0 -12l-3 -10l-1 -18l-4 -4l-3 2l-3 6l-4 22l0 14l2 8l0 8l3 6l-9 7l-4 9l-9 4l-3 3l-4 9l-2 1l-14 0l-9 3l-3 3l-4 9l-9 4l-3 3l-4 9l-2 1l-62 0l-9 3l-3 3l-4 9l-2 1l-14 0l-9 3l-3 3l-4 9l-14 2l-13 12l-3 6l-1 26l-3 3l-12 0l-8 2l-6 4l-4 9l-2 1l-8 0l-4 1l-10 6l-8 2l-8 0l-10 6l-10 0l-3 -2l0 -8l-2 -4l-5 -4l-10 -5l-7 -7l-7 -16l1 -4l13 -13l13 -5l3 -12l4 -8l2 -8l0 -34l-1 -10l-3 -8l-8 -5l-18 -1l-6 4l-1 4l6 14l0 4l-3 4l-20 5l-6 -1l-10 -5l-8 1l-3 2l-3 8l-4 4l-12 5l-5 -9l-11 -12l-14 -13l-6 -3l-10 0l-14 6l-7 4l-9 9l-4 2l-8 -1l-16 -7l-7 -7l-9 -16l-2 -8l0 -16l3 -16l0 -32l8 -30l-4 -20l0 -12l-1 -2l-12 -12l-8 -4l-18 -4l-7 -4l-6 -6l-3 -6l-4 -16l-5 -10l-3 -12l-12 -22l-6 -4l-4 -5l-6 -15l-6 -6l-8 -4l-8 -1l-9 -3l-5 -3l-10 -10l-12 -5l-6 -5l-6 -1l-2 -8zM325 247l-4 -4l-8 -4l-14 0l-4 2l-6 8l0 14l2 4l4 3l6 0l14 -8l9 -9zM505 73l-1 4l0 28l1 2l0 14l2 8l2 3l8 2l14 8l6 1l18 -7l28 0l16 -6l18 -3l6 -6l7 -14l0 -6l-2 -4l-2 -10l-5 -10l-8 -7l-14 -6l-14 -2l-50 0l-20 4l-6 3zM662 185l5 1l3 -3l-7 -1zM690 183l3 2l16 3l10 0l2 -1l-1 -2l-13 -5l-12 0zM709 217l1 2l3 1l8 -3l2 -2l0 -2l-10 -1z"/><path fill="#ffaa2f" d="M-1 1l2 -2l42 0l4 4l1 8l5 5l20 4l3 3l3 6l4 4l6 3l3 3l3 6l4 4l6 3l10 13l6 3l3 3l1 4l0 28l2 6l4 4l6 3l10 13l8 4l10 12l6 3l8 9l6 3l16 0l8 4l6 7l4 2l40 2l16 -3l26 0l10 2l6 -3l2 -3l6 -15l2 -10l5 -10l14 -14l11 -6l60 1l10 -2l14 -6l12 -1l4 -2l4 -4l3 -10l5 -10l4 -5l5 -3l-6 -16l-10 -8l-41 -14l-20 -5l-6 -3l-2 -4l0 -20l6 -1l38 0l2 -1l176 0l2 1l34 0l4 1l1 8l5 6l16 8l10 7l8 2l16 8l26 1l10 3l9 9l3 6l1 10l10 12l4 8l16 16l5 1l12 -7l8 -8l2 -4l0 -4l-3 -10l-1 -18l6 -8l11 -8l4 -8l7 -8l7 -14l1 -8l4 -1l214 -1l7 2l1 8l14 14l20 8l14 13l5 9l3 3l9 5l6 6l3 6l0 26l2 7l7 15l14 14l8 14l1 6l-5 18l-6 12l-5 5l-4 2l-14 3l-34 1l-14 -4l-8 -8l-3 -17l5 -12l-2 -4l-6 -5l-7 -9l-15 -4l-32 0l-10 1l-7 3l1 5l4 5l2 6l-3 10l0 10l3 10l11 20l-1 26l-9 20l-9 5l-12 1l-4 -2l-6 -6l-8 -3l-14 4l-4 3l-26 12l-14 14l-8 5l-11 11l-3 2l-14 3l-3 7l-3 3l-10 3l-14 8l-12 3l-6 4l-14 2l-3 3l-1 10l-3 6l-9 9l-4 2l-9 -1l-4 -4l-3 -8l-8 -3l-5 -5l-2 -8l0 -18l2 -8l5 -5l8 -3l1 -2l1 -10l-3 -6l-10 -10l-1 -4l6 -15l12 -13l2 -4l-2 -10l-2 -4l-4 -3l-6 -1l-14 0l-11 4l-4 4l-1 4l0 10l4 12l-2 6l-13 12l-3 9l-4 4l-8 3l-3 8l-5 5l-8 2l-4 -1l-4 -6l1 -26l-4 -14l-1 -18l-2 -3l-2 0l-4 3l-2 4l-5 24l1 30l-4 6l-2 1l-44 0l-3 1l-7 12l-8 3l-14 0l-3 1l-2 2l-3 8l-2 2l-8 3l-3 3l0 2l-5 8l-8 3l-22 0l-4 -1l-6 -4l-3 -8l-5 -3l-22 0l-3 1l-2 2l-3 8l-12 7l-1 3l0 40l-2 4l-12 12l-7 16l-8 3l-3 3l0 2l-5 8l-10 3l-12 0l-2 1l-3 4l0 8l-5 6l-8 4l-12 0l-4 -1l-6 -5l-12 0l-18 -10l-6 -7l-6 -15l1 -4l9 -9l6 -3l10 -1l3 -5l0 -10l4 -10l2 -10l0 -28l-2 -18l-6 -8l-13 -3l-16 0l-2 3l0 8l6 10l1 4l-1 4l-6 3l-10 1l-6 2l-18 -8l-10 1l-2 1l-3 8l-5 5l-8 1l-4 -3l-27 -27l-5 -2l-10 0l-20 10l-10 10l-4 2l-12 -2l-9 -4l-7 -5l-6 -9l-7 -16l0 -20l3 -16l0 -32l7 -24l0 -10l-3 -12l0 -14l-1 -2l-15 -14l-27 -8l-9 -8l-4 -8l-3 -12l-6 -14l-2 -10l-7 -10l-4 -10l-11 -10l-4 -12l-3 -5l-10 -8l-18 -4l-4 -2l-12 -11l-12 -5l-9 -7l-5 0l-2 -10zM325 245l-12 -7l-10 0l-8 2l-4 4l-3 9l0 12l5 6l4 1l10 -3l10 -7l7 -7l3 -6zM406 359l1 3l4 -1l0 -2l-2 -1zM483 73l5 12l0 14l1 3l2 2l8 3l2 3l2 7l1 16l3 3l14 2l4 3l8 3l6 0l14 -6l28 0l14 -6l22 -4l6 -5l9 -18l-2 -8l-3 -6l-2 -10l-4 -6l-10 -8l-12 -4l-16 -2l-46 0l-20 3l-6 2l-10 6zM660 183l0 2l3 2l4 0l5 -2l0 -2l-3 -2l-6 0zM688 183l5 3l10 1l12 3l8 0l1 -1l0 -2l-2 -2l-11 -5l-16 -1zM708 217l1 3l4 1l12 -5l2 -3l-2 -3l-8 0l-6 2z"/><path fill="#ffa32b" d="M-1 1l2 -2l42 0l3 2l1 8l4 6l6 3l12 1l5 2l5 8l4 4l6 3l3 3l3 6l4 4l6 3l10 13l6 3l3 3l1 4l0 30l2 4l4 4l6 3l10 13l8 4l10 12l7 4l9 10l2 1l20 1l16 12l18 1l10 2l16 -1l14 -3l22 0l14 2l6 -5l3 -6l5 -18l4 -8l12 -13l10 -8l6 -2l58 1l14 -3l6 -3l8 -2l10 0l5 -4l4 -8l2 -8l3 -6l4 -4l4 0l6 5l2 7l0 12l4 6l5 2l4 4l3 8l0 12l2 4l4 2l10 0l12 5l10 1l14 -5l26 0l16 -7l20 -3l6 -3l4 -5l9 -17l0 -2l-6 -12l-2 -10l-3 -6l-9 -8l-15 -5l-24 -2l-2 1l-46 0l-14 3l-12 5l-14 0l-5 -2l-4 -4l-3 -6l-6 -6l-14 -8l-16 -4l-41 -14l-2 -2l-1 -4l0 -18l8 -1l40 0l2 -1l150 0l2 1l52 0l5 1l0 4l3 8l5 4l11 5l9 7l15 5l14 7l12 2l16 0l9 4l9 10l2 12l9 10l5 10l16 16l4 2l8 -3l15 -13l2 -6l-3 -10l-2 -18l2 -5l6 -6l8 -5l6 -10l7 -8l7 -14l1 -8l5 -1l160 0l2 -1l48 0l8 2l3 10l12 12l5 3l12 3l6 4l12 12l6 10l6 3l10 9l4 8l0 28l7 16l14 14l10 18l0 4l-7 24l-8 10l-6 3l-16 3l-34 0l-12 -5l-6 -7l-2 -10l0 -8l4 -8l0 -4l-14 -16l-4 -2l-10 -2l-38 0l-11 2l-3 2l0 2l7 12l0 4l-3 10l0 6l3 12l10 18l-1 28l-7 18l-4 4l-5 2l-12 1l-11 -9l-9 -1l-8 2l-24 11l-14 8l-12 12l-7 4l-9 9l-8 4l-12 2l-8 10l-10 5l-6 5l-26 9l-10 0l-4 2l-2 4l0 10l-2 4l-6 7l-6 4l-6 -2l-4 -4l-2 -5l-13 -10l-3 -8l1 -18l2 -4l4 -4l5 -2l4 -6l0 -12l-14 -16l3 -12l4 -8l12 -12l0 -4l-4 -12l-7 -4l-10 -1l-10 1l-11 4l-2 2l-2 6l0 10l3 10l0 5l-17 17l-1 3l-5 5l-5 2l-4 4l-2 5l-8 6l-4 0l-5 -7l1 -22l-4 -12l-1 -20l-3 -4l-2 0l-6 6l-6 28l1 24l-3 6l-4 2l-44 0l-6 4l-2 5l-5 5l-7 2l-12 0l-4 2l-4 7l-5 5l-5 2l-4 4l-2 5l-5 5l-7 2l-14 0l-7 -2l-5 -5l-2 -5l-6 -4l-26 0l-4 2l-4 7l-5 5l-5 2l-4 6l0 42l-3 6l-12 12l-4 8l-13 10l-2 5l-4 4l-8 3l-12 0l-4 2l-2 4l0 10l-1 2l-8 6l-9 1l-6 -3l-6 -5l-12 1l-18 -8l-5 -4l-4 -8l-3 -12l3 -4l7 -6l4 -2l10 0l4 -2l1 -2l0 -16l4 -12l0 -42l-2 -12l-4 -6l-9 -3l-14 -1l-10 -3l-2 3l0 12l5 6l3 6l0 4l-2 3l-4 2l-18 1l-4 -1l-10 -7l-12 0l-4 2l-4 7l-8 6l-2 0l-6 -4l-28 -27l-12 0l-5 2l-5 4l-10 5l-10 10l-4 2l-6 0l-12 -4l-10 -7l-12 -22l-1 -16l3 -16l0 -32l6 -22l2 -12l-3 -16l0 -16l-16 -16l-11 -4l-14 -3l-4 -2l-7 -7l-3 -5l-9 -25l-4 -16l-7 -9l-4 -10l-10 -8l-8 -19l-4 -4l-8 -4l-14 -3l-8 -4l-8 -8l-16 -8l-5 -5l-7 -1l-2 -9zM327 246l-6 -5l-8 -4l-14 1l-6 3l-5 8l-1 16l2 4l6 4l4 0l12 -5l8 -6l9 -11zM404 359l0 2l3 2l3 0l3 -2l0 -2l-2 -2l-5 0zM659 185l4 3l4 0l7 -3l1 -2l-4 -2l-8 -1l-4 3zM685 183l2 2l32 6l4 2l2 0l1 -2l0 -4l-3 -3l-14 -5l-14 -1l-6 2zM729 211l-2 -4l-2 -1l-6 3l-6 1l-4 3l-2 6l4 3l6 -1l12 -6z"/><path fill="#ff9d27" d="M-1 1l2 -2l42 0l3 2l1 8l4 6l6 3l12 1l5 2l5 8l4 4l6 3l3 3l3 6l4 4l6 3l10 13l8 5l2 5l0 30l2 4l4 4l6 3l10 13l8 4l7 10l11 7l8 9l6 2l4 -1l12 1l4 2l10 10l6 1l12 0l10 2l12 0l22 -4l18 0l16 2l4 -2l4 -6l9 -25l23 -23l6 -3l58 1l8 -1l16 -5l14 -1l6 -4l4 -8l1 -6l5 -10l4 -2l5 4l2 4l0 12l3 8l8 5l5 7l1 16l6 6l14 1l12 4l10 0l12 -4l26 0l4 -1l12 -7l24 -4l4 -3l3 -4l3 -8l7 -10l-1 -4l-6 -10l-4 -15l-8 -9l-8 -4l-16 -3l-66 0l-8 1l-16 5l-16 0l-4 -2l-10 -11l-8 -6l-8 -4l-6 -1l-50 -17l-3 -4l0 -20l7 -1l42 0l2 -1l142 0l2 1l56 0l4 1l0 6l4 8l4 3l6 2l12 9l8 4l12 3l14 7l32 4l10 10l2 4l2 10l8 8l7 12l7 5l10 11l4 0l10 -5l13 -13l1 -2l-4 -14l-1 -18l4 -6l12 -8l6 -10l6 -6l8 -16l1 -8l4 -1l162 0l2 -1l46 0l8 2l1 8l13 14l22 9l12 11l6 10l4 4l10 6l5 6l2 6l0 28l9 18l10 9l7 11l5 10l0 6l-5 18l-4 8l-6 6l-7 3l-10 2l-36 1l-10 -3l-8 -7l-3 -10l0 -10l3 -6l1 -6l-15 -16l-12 -4l-42 0l-8 1l-4 2l-1 3l7 12l0 4l-3 10l0 6l4 14l9 16l-3 18l0 12l-5 16l-5 4l-13 2l-4 -1l-7 -7l-5 -2l-10 1l-6 2l-36 18l-10 10l-10 6l-10 9l-6 3l-12 2l-10 10l-6 3l-8 7l-6 3l-10 2l-4 2l-14 1l-8 3l-3 8l0 10l-7 8l-4 2l-4 -1l-8 -11l-8 -5l-5 -7l0 -18l5 -7l8 -5l3 -8l0 -6l-3 -8l-10 -10l-2 -4l5 -16l13 -14l0 -4l-4 -12l-6 -4l-18 -1l-6 1l-12 5l-2 5l0 12l3 10l0 4l-2 4l-15 12l-6 7l-8 5l-5 8l-5 4l-6 -2l-2 -6l1 -16l-5 -16l0 -20l-2 -3l-4 0l-4 3l-3 6l-6 26l1 20l-1 4l-3 4l-2 1l-42 0l-8 3l-8 11l-4 2l-12 0l-8 3l-5 8l-11 8l-5 8l-7 5l-18 0l-7 -5l-5 -8l-8 -3l-22 0l-8 3l-5 8l-11 8l-3 8l0 42l-1 2l-10 10l-7 10l-8 6l-11 13l-4 2l-10 0l-8 2l-4 5l-2 15l-2 2l-8 3l-6 -2l-8 -7l-16 1l-14 -6l-7 -6l-5 -16l2 -4l6 -6l16 -2l5 -4l-1 -18l4 -12l0 -38l-3 -18l-5 -6l-24 -4l-8 -5l-4 3l-1 12l1 4l6 6l4 8l-2 4l-8 3l-14 0l-14 -9l-10 -1l-6 2l-7 9l-5 4l-6 -2l-26 -26l-8 -3l-10 1l-6 5l-8 4l-14 13l-4 2l-6 0l-10 -3l-8 -4l-5 -5l-7 -13l-4 -11l0 -16l3 -14l0 -32l7 -28l0 -10l-2 -8l0 -16l-3 -6l-13 -12l-27 -8l-11 -10l-10 -26l-4 -17l-7 -9l-4 -10l-11 -10l-9 -20l-13 -7l-16 -4l-14 -12l-10 -4l-8 -7l-4 -2l-4 0l-2 -10zM329 247l-8 -7l-6 -3l-6 -1l-12 2l-8 8l-3 15l1 7l2 3l6 3l10 -1l6 -3l13 -11l5 -8zM403 359l0 2l4 3l5 -1l2 -2l0 -2l-3 -3l-4 0zM657 185l2 2l6 2l8 -2l6 -4l-14 -4l-4 1l-4 3zM681 183l6 3l16 2l17 5l5 5l2 -3l0 -8l-5 -4l-7 -3l-18 -3l-8 2zM327 296l-1 1l3 3l1 -3zM727 200l-4 5l-10 4l-5 4l-2 4l1 5l4 1l16 -5l4 -3z"/><path fill="#ff9623" d="M-1 1l2 -2l42 0l3 2l0 6l5 8l6 3l12 1l4 2l4 4l4 7l10 6l6 10l10 6l6 10l9 5l3 6l0 30l3 6l10 6l6 10l13 8l4 7l3 3l9 5l7 9l5 2l12 -1l8 2l10 10l6 2l10 0l10 2l20 0l12 -3l10 0l2 -1l18 1l8 2l4 -1l5 -5l9 -23l4 -6l21 -21l7 -3l58 1l22 -5l16 -1l6 -5l3 -7l2 -10l5 -7l2 0l5 7l0 12l2 6l7 5l5 5l2 4l0 12l3 6l8 5l12 0l14 4l6 0l14 -4l28 0l14 -9l6 -2l16 -1l6 -3l10 -17l5 -5l0 -4l-8 -12l-2 -12l-4 -8l-6 -6l-15 -5l-10 -1l-66 0l-14 2l-10 3l-14 0l-6 -3l-4 -5l-20 -13l-54 -17l-4 -3l-1 -2l0 -20l9 -1l42 0l2 -1l134 0l2 1l56 0l7 1l0 8l3 6l17 10l6 6l7 3l13 3l11 6l12 2l8 3l12 0l6 3l6 6l3 6l2 8l10 10l4 8l17 17l4 2l12 -5l14 -14l0 -6l-2 -4l-3 -20l1 -4l4 -6l8 -5l6 -6l4 -7l6 -6l9 -18l0 -6l7 -1l158 0l2 -1l44 0l9 2l3 10l8 9l7 5l17 6l16 15l6 10l9 5l6 6l3 6l0 28l1 4l2 2l7 15l13 13l7 13l1 9l-2 10l-5 13l-8 9l-4 2l-14 3l-30 1l-10 -2l-6 -3l-5 -5l-3 -8l-1 -10l5 -14l-2 -3l-7 -5l-7 -9l-10 -3l-48 0l-7 2l-2 2l0 4l6 10l0 6l-2 6l0 10l4 14l7 12l0 10l-3 8l0 14l-5 16l-6 4l-12 0l-6 -5l-6 -3l-10 0l-10 3l-24 12l-2 2l-6 2l-6 4l-9 9l-9 5l-11 9l-5 2l-8 1l-6 3l-21 18l-7 3l-16 4l-12 0l-6 2l-4 5l-2 17l-6 6l-4 0l-5 -5l-2 -4l-12 -10l-2 -4l0 -14l2 -4l12 -10l2 -6l-1 -14l-12 -12l-2 -4l4 -16l13 -14l0 -4l-5 -12l-2 -2l-8 -3l-16 0l-6 1l-10 4l-3 4l0 12l3 12l-1 6l-8 8l-7 4l-6 6l-8 5l-10 12l-2 0l-4 -3l0 -18l-5 -14l0 -26l-5 -1l-7 5l-3 6l-6 28l1 16l-1 4l-3 4l-3 1l-42 0l-4 1l-5 4l-2 4l-5 5l-4 2l-12 0l-6 2l-5 7l-7 7l-4 2l-10 12l-4 2l-14 0l-4 -2l-10 -12l-6 -2l-26 0l-6 2l-5 7l-7 7l-4 2l-4 5l-1 4l0 42l-3 6l-10 10l-6 8l-10 8l-6 8l-6 3l-12 0l-6 3l-5 8l0 10l-1 2l-6 4l-4 0l-12 -10l-16 3l-12 -5l-6 -4l-3 -4l-3 -12l2 -6l5 -4l13 -1l6 -3l3 -4l-2 -16l4 -16l0 -34l-2 -16l-2 -6l-5 -5l-20 -3l-12 -8l-6 0l-1 2l0 18l2 4l7 6l3 6l-1 4l-4 2l-17 0l-4 -2l-9 -8l-14 -1l-6 3l-10 11l-4 0l-28 -28l-6 -2l-10 0l-4 2l-5 5l-9 5l-12 12l-4 2l-6 0l-12 -3l-9 -6l-3 -4l-9 -20l0 -22l3 -10l0 -34l7 -30l-3 -16l0 -16l-2 -4l-13 -12l-7 -3l-18 -4l-10 -7l-7 -12l-7 -20l-3 -14l-9 -13l-4 -9l-8 -6l-3 -4l-6 -16l-5 -5l-6 -3l-14 -3l-8 -4l-10 -9l-14 -7l-6 -6l-8 -2l-2 -11zM327 243l-12 -7l-10 0l-11 3l-4 4l-3 8l-2 10l0 6l4 6l8 3l10 -2l6 -3l14 -14l3 -6l0 -4zM402 359l1 4l4 2l2 0l6 -4l0 -3l-6 -3l-6 2zM656 183l0 2l5 4l8 0l12 -4l6 2l18 2l16 6l2 4l-2 6l-9 4l-5 4l-3 6l1 5l6 0l16 -5l6 -4l-4 -12l-2 -17l-6 -4l-10 -4l-18 -1l-10 4l-20 -2zM323 295l-1 2l3 5l6 2l4 -1l0 -4l-3 -4l-5 -2z"/><path fill="#ff8f1f" d="M-1 1l2 -2l42 0l3 2l1 9l4 5l6 3l12 1l4 2l4 4l3 6l7 4l6 6l3 6l7 4l6 6l3 6l7 4l4 4l2 6l0 28l3 6l7 4l6 6l4 7l8 4l5 5l2 4l5 5l6 3l10 11l20 1l5 2l9 9l4 2l10 0l18 3l16 -1l12 -3l26 0l12 2l4 -2l4 -5l9 -21l6 -6l2 -4l7 -7l4 -2l8 -9l6 -2l58 1l20 -4l18 -1l6 -6l2 -4l2 -12l4 -6l4 3l1 3l1 16l3 4l7 4l4 4l2 17l6 7l6 3l12 0l12 3l10 0l12 -3l28 0l6 -3l7 -6l7 -3l10 0l12 -3l4 -4l4 -10l8 -7l2 -5l-8 -11l-3 -7l-2 -12l-6 -10l-11 -5l-16 -2l-68 0l-18 2l-6 2l-16 -1l-8 -7l-19 -11l-47 -15l-10 -6l-1 -3l0 -18l23 0l2 -1l124 -1l2 1l98 1l0 8l2 6l4 4l10 4l10 10l8 3l10 1l16 8l8 1l10 4l12 0l6 3l6 6l4 12l9 8l7 12l18 17l6 0l8 -4l13 -13l2 -6l-4 -12l-1 -16l2 -5l4 -4l6 -3l6 -6l14 -18l5 -10l1 -10l36 0l2 -1l110 1l20 -2l42 0l9 2l1 8l14 15l6 3l6 1l10 5l14 14l3 6l5 5l6 3l6 6l4 10l0 18l-1 2l1 6l9 18l12 12l6 10l4 10l-5 22l-3 6l-7 7l-6 3l-18 3l-30 0l-10 -5l-4 -4l-3 -6l-1 -14l4 -8l0 -4l-10 -10l-4 -6l-6 -3l-12 -2l-34 0l-10 1l-6 2l-2 2l0 2l5 8l2 6l-3 12l0 6l5 18l6 10l0 8l-4 10l0 14l-4 16l-7 3l-10 0l-8 -7l-4 -1l-8 0l-14 4l-36 19l-8 8l-14 8l-7 6l-21 7l-5 5l-10 6l-7 8l-20 5l-18 1l-6 6l-1 16l-2 4l-5 3l-4 -3l-5 -8l-7 -4l-4 -4l-1 -4l1 -14l12 -9l3 -7l-1 -18l-14 -14l2 -12l3 -6l11 -12l0 -4l-5 -12l-5 -4l-14 -2l-16 2l-10 4l-2 2l0 12l3 14l-1 6l-6 6l-25 16l-7 10l-4 -1l-1 -3l0 -14l-3 -6l-3 -12l1 -18l4 -4l6 -1l18 -7l1 -4l-4 -10l-2 -16l-3 -4l-16 -6l-6 -1l-10 0l-10 4l-20 -2l-8 5l0 3l4 3l8 1l12 -4l18 2l18 5l6 4l0 6l-10 6l-6 6l-2 5l-8 5l-5 6l-8 32l0 18l-1 2l-4 3l-44 0l-4 1l-4 3l-4 7l-4 4l-16 1l-7 3l-5 8l-4 4l-7 4l-9 12l-4 1l-14 -1l-9 -12l-7 -3l-30 0l-4 1l-4 3l-4 7l-4 4l-7 4l-3 4l-1 4l0 44l-3 6l-34 34l-14 1l-6 3l-6 7l-2 14l-3 3l-5 0l-10 -10l-4 0l-8 3l-11 -1l-11 -6l-2 -2l-3 -8l-1 -8l4 -5l4 -2l13 -1l7 -6l2 -4l-3 -8l0 -10l3 -14l0 -30l-3 -20l-5 -9l-4 -2l-14 -1l-5 -2l-19 -16l-6 -3l-7 1l-3 4l3 6l7 3l4 4l1 3l0 14l1 2l8 5l4 5l-1 6l-7 2l-12 -1l-12 -11l-16 -1l-6 3l-10 10l-4 1l-18 -17l-7 -10l-7 -3l-12 0l-4 2l-6 6l-8 5l-12 12l-4 2l-16 -2l-8 -4l-4 -4l-11 -24l0 -14l4 -18l0 -32l6 -26l0 -10l-2 -8l0 -18l-2 -4l-13 -12l-10 -4l-17 -4l-10 -8l-5 -8l-2 -8l-3 -6l-4 -12l-2 -12l-7 -8l-6 -12l-9 -8l-9 -20l-5 -4l-7 -3l-16 -4l-16 -13l-9 -4l-11 -9l-6 0l-2 -11zM330 245l-7 -6l-10 -4l-12 1l-8 3l-4 5l-2 5l-3 14l1 8l4 4l6 2l12 -1l6 -3l16 -17l3 -7zM402 357l-1 4l4 4l6 0l6 -6l-6 -4l-6 0z"/><path fill="#ff8b1f" d="M-1 1l2 -2l42 0l3 2l1 10l6 6l8 2l8 0l4 2l5 6l1 3l10 7l5 6l1 3l10 7l9 12l5 2l5 6l0 26l3 11l10 7l9 12l7 3l12 14l6 3l4 4l4 6l4 2l18 0l6 3l9 9l9 2l10 0l8 2l14 0l20 -4l22 0l8 2l6 0l8 -6l8 -18l9 -8l3 -6l4 -4l6 -3l8 -10l2 -1l54 1l22 -3l22 -1l7 -5l3 -6l2 -12l2 -4l2 4l0 10l3 8l3 3l9 5l3 18l12 11l18 1l10 2l24 -3l2 1l24 -1l16 -12l16 -1l10 -3l3 -3l4 -10l10 -8l1 -6l-11 -16l-2 -14l-4 -10l-3 -3l-8 -3l-16 -2l-72 0l-24 3l-14 -1l-23 -14l-9 -4l-36 -11l-15 -7l-1 -2l0 -20l22 0l2 -1l116 -1l2 1l102 1l0 8l3 8l3 3l10 4l8 10l8 3l16 2l8 5l12 3l12 5l10 0l8 3l6 7l3 9l11 10l7 12l12 12l7 4l10 -3l16 -15l2 -6l-4 -10l-1 -20l5 -6l8 -5l5 -5l2 -4l11 -12l7 -14l1 -8l36 0l2 -1l110 1l20 -2l38 0l8 1l2 1l3 10l11 12l10 5l6 1l6 3l14 13l6 10l12 8l5 6l2 4l0 30l5 8l3 8l16 18l7 14l0 6l-4 16l-4 8l-4 5l-5 3l-15 4l-34 1l-10 -4l-6 -6l-4 -15l5 -16l-17 -18l-12 -3l-42 0l-8 1l-5 2l-2 2l0 2l7 12l-3 16l1 8l5 16l4 6l1 8l-5 12l-1 18l-2 10l-4 3l-10 1l-10 -7l-10 -1l-19 6l-33 17l-7 7l-11 6l-14 10l-19 6l-8 6l-7 3l-5 7l-5 4l-12 2l-16 0l-10 3l-5 7l-1 16l-2 3l-4 -1l-3 -6l-3 -3l-8 -4l-2 -3l0 -14l2 -3l8 -4l3 -3l3 -10l-1 -16l-2 -4l-3 -3l-6 -3l-4 -6l1 -10l3 -6l11 -12l0 -4l-5 -12l-8 -5l-18 -1l-12 2l-10 4l-2 2l4 28l-3 6l-21 14l-8 3l-5 7l-3 2l-1 -2l0 -10l-7 -16l0 -18l1 -4l3 -3l18 -5l9 -4l-5 -14l-3 -18l-17 -8l-10 -2l-6 0l-12 4l-8 0l-8 -2l-6 1l-4 2l-4 5l5 4l11 1l10 -3l14 1l22 6l5 5l-1 4l-8 5l-7 7l-2 4l-10 8l-4 8l-3 16l-4 12l0 16l-1 2l-3 2l-8 1l-40 0l-7 5l-5 9l-2 1l-12 0l-10 3l-3 3l-4 8l-9 5l-3 3l-4 8l-3 2l-14 0l-2 -1l-5 -9l-7 -5l-6 -1l-26 0l-10 3l-3 3l-4 8l-9 5l-4 5l-1 4l0 44l-2 6l-31 32l-8 3l-10 0l-2 1l-10 10l-2 6l0 8l-2 2l-2 0l-10 -10l-6 0l-10 4l-6 0l-12 -6l-4 -4l-2 -12l4 -6l16 -2l8 -8l2 -4l-4 -10l0 -8l2 -8l0 -14l1 -2l-1 -26l-3 -16l-5 -8l-4 -2l-14 -1l-8 -5l-12 -11l-9 -5l-5 -1l-7 3l-2 4l1 4l4 5l9 5l2 18l3 3l8 3l4 6l-2 4l-2 1l-14 -1l-5 -4l-5 -7l-10 -3l-12 1l-15 13l-3 0l-6 -4l-8 -8l-7 -12l-3 -3l-10 -3l-10 1l-4 2l-26 24l-6 3l-16 -3l-4 -2l-7 -7l-9 -20l0 -20l3 -10l0 -30l6 -30l-2 -40l-14 -14l-7 -3l-18 -4l-6 -3l-6 -6l-7 -12l-7 -20l-2 -12l-3 -6l-6 -6l-4 -10l-10 -8l-8 -20l-3 -3l-6 -3l-16 -4l-8 -4l-10 -9l-12 -6l-8 -7l-4 -2l-4 0zM331 245l-8 -7l-10 -4l-17 3l-7 6l-2 4l-3 14l-2 4l2 8l3 3l6 2l14 0l6 -3l11 -10l6 -8l3 -8zM400 359l1 4l4 3l7 -1l6 -4l0 -2l-7 -5l-6 0z"/><path fill="#ff861e" d="M-1 1l2 -2l42 0l3 2l1 10l4 5l4 2l12 1l6 2l5 8l5 5l6 3l5 8l5 5l6 3l5 8l5 5l8 5l1 2l0 28l3 9l4 4l6 3l5 8l5 5l7 3l11 13l6 3l8 10l4 2l18 0l6 3l10 10l16 1l18 3l28 -5l18 0l14 3l4 -1l5 -4l5 -12l6 -8l8 -3l6 -11l9 -4l3 -3l3 -7l5 -2l32 -1l10 2l12 0l26 -3l12 0l8 -2l6 -6l2 0l4 5l6 2l4 3l2 4l0 8l3 6l13 12l4 1l16 0l2 1l12 0l8 -2l30 0l6 -1l5 -3l11 -10l20 -1l8 -2l3 -3l3 -9l3 -3l7 -3l3 -9l-1 -4l-12 -14l-1 -16l-2 -8l-3 -5l-4 -2l-16 -2l-82 0l-20 2l-16 -1l-30 -16l-46 -15l-6 -5l1 -20l89 -1l2 -1l148 2l0 8l4 12l12 5l6 10l6 2l20 2l12 6l12 3l10 5l12 0l6 3l4 4l6 12l9 8l6 10l17 17l8 1l10 -5l14 -15l0 -6l-4 -10l-1 -16l2 -4l5 -5l6 -3l6 -6l2 -4l11 -12l9 -18l0 -4l38 0l2 -1l14 0l2 1l94 0l16 -2l38 0l8 1l2 1l0 4l2 5l9 11l7 5l14 4l5 3l15 15l4 7l9 6l6 6l3 6l0 28l1 4l11 19l11 11l8 16l0 8l-4 16l-9 12l-6 3l-14 3l-28 1l-11 -3l-8 -6l-4 -12l0 -6l4 -10l0 -4l-10 -10l-5 -7l-4 -2l-10 -2l-44 0l-8 1l-6 4l0 2l7 12l0 6l-2 6l0 10l3 12l6 13l1 5l-6 14l-3 26l-2 3l-10 0l-8 -5l-6 -1l-20 4l-20 11l-18 8l-10 9l-12 6l-8 6l-6 3l-12 3l-12 7l-10 3l-5 9l-3 2l-30 1l-9 3l-3 3l-2 5l-2 10l-14 -6l-1 -2l0 -10l1 -2l9 -4l3 -3l3 -9l0 -18l-1 -4l-4 -7l-6 -2l-4 -3l-2 -6l2 -10l12 -14l0 -4l-6 -12l-4 -4l-8 -2l-18 0l-14 3l-7 3l-1 2l2 6l3 20l-2 6l-5 5l-16 9l-10 3l-4 0l-4 -5l-5 -10l-1 -12l2 -11l3 -3l26 -8l3 -2l-6 -10l-3 -12l0 -6l-2 -4l-3 -3l-12 -5l-14 -3l-4 0l-16 5l-8 -2l-12 1l-7 5l1 4l8 4l6 0l10 -3l20 1l14 4l4 2l3 4l-1 4l-6 4l-8 8l-2 4l-10 8l-3 6l-6 26l-2 4l-1 14l-2 3l-2 1l-42 0l-10 2l-4 3l-4 9l-2 1l-14 0l-9 3l-3 3l-4 9l-9 4l-3 3l-4 9l-2 1l-10 0l-2 -1l-4 -9l-3 -3l-9 -3l-34 0l-9 3l-3 3l-4 9l-10 5l-2 5l-2 18l0 36l-1 2l-31 31l-8 2l-8 0l-5 3l-8 8l-5 9l-6 -3l-8 -1l-10 5l-8 1l-10 -5l-5 -6l0 -10l1 -2l4 -2l8 0l6 -3l7 -7l3 -6l-5 -12l0 -6l2 -8l0 -40l-3 -18l-4 -8l-6 -4l-12 0l-5 -2l-9 -9l-16 -10l-12 -1l-5 4l0 10l4 6l9 4l2 18l6 4l4 0l6 4l1 4l-3 2l-10 0l-6 -4l-2 -7l-3 -3l-9 -3l-16 1l-14 13l-4 1l-15 -14l-2 -8l-4 -6l-11 -3l-10 1l-5 2l-7 8l-6 4l-17 16l-5 1l-12 -2l-8 -4l-6 -8l-6 -13l-2 -8l1 -18l3 -10l0 -32l6 -30l-2 -16l0 -18l-2 -4l-12 -12l-6 -3l-18 -4l-7 -3l-5 -4l-6 -9l-7 -17l-6 -24l-6 -6l-6 -12l-11 -11l-7 -17l-3 -3l-8 -4l-18 -5l-12 -10l-16 -9l-6 -6l-8 -2zM334 247l-8 -8l-13 -6l-8 1l-12 4l-6 8l-3 13l-3 6l1 10l3 3l8 2l16 0l4 -2l13 -13l8 -14zM399 359l1 4l3 3l6 1l10 -6l0 -2l-6 -5l-4 -1l-6 1z"/><path fill="#ff821d" d="M-1 1l2 -2l42 0l3 2l0 8l5 7l8 3l8 0l6 2l5 8l5 5l6 3l5 8l5 5l6 3l5 8l5 5l8 5l1 2l0 30l2 6l5 5l6 3l5 8l5 5l7 3l4 4l3 6l12 8l8 10l4 1l4 -1l14 1l5 3l7 8l4 2l10 0l16 3l10 0l18 -4l22 -1l18 3l4 -2l5 -5l6 -14l5 -3l16 0l6 3l5 8l3 2l12 0l22 3l10 5l10 -6l26 -1l18 2l9 5l1 2l2 0l6 -6l0 -2l-4 -4l-3 -8l-5 -3l-16 0l-6 -3l-4 -6l-1 -10l3 -8l10 -4l20 -1l8 2l4 4l3 11l15 16l0 6l-4 7l-2 1l0 2l6 6l2 0l4 -4l8 -3l6 0l10 4l2 -2l1 -7l3 -6l6 -3l10 -1l12 4l8 -4l8 -1l4 -2l10 -10l4 -2l26 -1l4 -2l4 -9l4 -4l7 -3l2 -10l-1 -6l-12 -14l-1 -6l5 -12l-5 -6l-3 -14l-10 4l-18 0l-2 -1l-80 1l-2 1l-30 -1l-6 -4l-11 -4l-11 -6l-38 -12l-12 -6l-1 -6l3 -6l8 -3l3 -7l9 0l2 -1l100 -1l2 1l84 0l2 1l9 0l2 6l9 4l4 8l1 8l-4 12l49 2l10 5l12 3l12 7l18 1l5 4l6 12l11 10l6 10l14 14l6 3l6 -1l6 -3l17 -17l0 -4l-4 -10l-1 -6l0 -14l3 -4l7 -4l7 -6l4 -6l10 -10l6 -12l7 -6l8 -1l16 1l2 -2l1 -4l9 0l2 -1l21 1l1 4l2 1l16 2l10 0l22 -3l27 0l1 -4l24 -1l2 -1l36 0l9 2l3 10l12 13l22 9l15 14l4 8l3 3l8 4l4 4l4 9l0 28l10 19l11 11l9 16l1 6l-3 16l-5 10l-5 5l-8 4l-8 2l-36 1l-10 -4l-4 -4l-4 -10l0 -10l4 -12l-17 -18l-11 -3l-50 0l-9 3l-1 4l4 6l3 8l-3 14l1 8l3 12l6 14l-7 16l0 4l-3 8l-2 2l-8 3l-6 5l-14 1l-16 4l-23 13l-14 6l-11 9l-28 15l-12 3l-4 3l-6 2l-8 -2l-2 -2l-3 -8l-3 -2l-18 -1l-6 -3l-7 -10l-13 -1l-8 -2l-6 -3l-2 -6l0 -6l12 -14l1 -6l-3 -4l-3 -8l-3 -3l-8 -3l-10 0l-2 -1l-10 1l-18 4l-4 2l3 8l3 20l-2 6l-6 5l-16 8l-12 1l-6 -7l-3 -7l0 -14l3 -8l14 -6l12 -2l7 -4l-9 -12l-4 -20l-8 -5l-18 -6l-10 0l-12 4l-16 -2l-9 3l-5 4l0 3l2 2l10 4l18 -4l14 1l12 3l9 5l1 2l-1 4l-5 3l-22 23l-6 24l-5 12l-1 8l-3 4l-7 2l-56 1l-9 -5l-1 -2l-2 0l-1 2l-9 5l-42 0l-8 -5l-4 -9l-6 -2l-14 0l-8 -5l-3 -6l0 -34l-1 -5l-2 -2l-10 4l-2 3l-1 4l0 30l-5 8l-9 4l-2 6l0 14l-3 6l-8 5l-4 0l-4 2l0 3l4 8l12 5l4 7l0 16l-2 18l0 34l-3 6l-29 28l-16 2l-14 13l-4 2l-10 -1l-18 8l-10 -4l-4 -4l-1 -6l4 -6l11 -3l12 -12l1 -7l-5 -10l2 -16l0 -36l-3 -14l0 -6l-3 -8l-6 -9l-6 3l-10 0l-18 -15l-12 -6l-10 -1l-5 -2l-1 -2l3 -6l13 -14l6 -12l-1 -6l-11 -9l-8 -3l-8 0l-12 3l-7 7l-2 4l-2 10l-5 8l0 10l2 4l4 2l18 1l6 3l2 4l0 12l-1 4l-3 4l-6 3l-7 1l-2 2l3 6l0 6l-12 13l-2 1l-4 -1l-9 -9l-2 -4l0 -8l5 -6l0 -2l-4 -4l-3 -8l-3 -2l-6 0l-6 2l-4 8l-12 5l-29 29l-5 2l-12 -1l-8 -3l-6 -6l-9 -22l0 -16l4 -16l0 -32l5 -24l0 -14l-2 -10l1 -14l-2 -4l-11 -11l-5 -3l-23 -6l-6 -3l-5 -5l-7 -12l-6 -16l-4 -19l-8 -9l-6 -12l-8 -6l-4 -8l-3 -10l-3 -4l-4 -3l-18 -5l-8 -4l-8 -7l-16 -9l-8 -8l-8 -1zM391 291l-3 2l0 2l3 0l1 -2zM398 359l1 4l5 4l7 0l9 -6l-1 -4l-8 -4l-7 0zM379 125l8 -3l10 0l8 3l3 8l0 6l-3 8l-2 2l-8 3l-6 0l-8 -3l-2 -2l-3 -8l0 -6zM331 339l4 -2l6 0l3 2l1 4l-4 2l-9 -2z"/><path fill="#ff7d1c" d="M0 1l9 -2l32 0l5 2l0 8l5 7l8 3l8 0l6 2l5 8l5 5l6 3l5 8l5 5l6 3l5 8l5 5l8 5l1 2l0 30l2 6l5 5l6 3l5 8l5 5l8 4l6 9l8 5l7 7l3 5l6 2l8 -1l10 1l10 10l6 3l16 1l8 2l16 0l16 -4l26 0l6 2l8 0l6 -5l6 -13l4 -4l10 0l9 3l3 2l4 6l4 2l20 1l10 2l10 5l4 6l2 1l6 -9l8 -4l24 0l12 2l8 4l6 9l2 0l3 -3l3 -6l3 -2l9 -1l6 3l4 8l0 18l-4 8l-8 4l-4 6l0 28l-2 7l-2 3l-10 6l-2 4l0 12l-4 10l-8 4l-12 2l-3 2l1 2l6 4l5 8l13 6l4 8l0 20l-2 12l0 32l-3 6l-23 23l-8 4l-6 0l-9 3l-9 9l-6 3l-12 0l-14 8l-6 0l-8 -6l1 -6l3 -3l10 -5l12 -13l1 -3l-1 -5l-5 -11l2 -14l0 -34l-3 -14l0 -6l-5 -16l3 -6l3 -2l14 -4l2 -2l-7 -6l-2 -5l-3 -1l-5 6l-8 4l-10 13l-8 1l-12 -11l-18 -9l-10 -3l-2 -5l11 -12l8 -16l0 -4l-7 -8l-6 -4l-8 -3l-6 0l-16 5l-6 7l-3 11l-7 12l0 12l4 4l18 1l7 5l2 4l0 6l-3 6l-8 4l-18 0l-8 -4l-6 -10l-10 -1l-9 3l-5 8l-6 3l-32 33l-2 1l-10 0l-6 -1l-8 -4l-4 -5l-8 -19l0 -20l4 -18l0 -30l2 -6l3 -22l-2 -14l0 -20l-1 -2l-14 -13l-4 -2l-24 -6l-10 -9l-11 -24l-4 -20l-10 -12l-3 -8l-11 -10l-7 -18l-4 -4l-6 -3l-20 -6l-11 -9l-14 -8l-7 -7l-6 -3l-4 0zM397 361l2 4l3 2l7 1l10 -5l3 -4l-3 -3l-8 -4l-6 0l-6 3zM413 19l5 -6l7 -4l2 -4l0 -4l10 -1l180 0l2 1l10 0l0 4l2 4l7 4l4 4l2 4l0 6l-3 6l-8 4l-4 4l-4 8l-10 4l-28 -1l-12 2l-62 0l-10 1l-14 -2l-28 -13l-38 -12l-8 -4zM1175 151l0 8l-4 16l-10 12l-18 5l-30 1l-11 -4l-5 -5l-4 -13l0 -4l4 -10l0 -4l-2 -4l-6 -4l-8 -10l-4 -2l-12 -2l-36 0l-16 2l-4 2l-1 4l7 12l0 6l-2 6l0 10l4 16l3 6l1 10l-10 22l-10 5l-5 5l-5 2l-12 1l-15 5l-17 10l-20 9l-8 7l-22 12l-26 9l-8 -3l-4 -8l-6 -4l-16 -1l-6 -3l-6 -8l-18 -2l-10 -4l-3 -8l1 -4l10 -10l2 -6l-5 -12l-7 -7l-12 -2l-10 0l-30 5l-7 -6l-2 -4l-4 -18l-2 -4l-15 -7l-12 -3l-8 0l-12 4l-20 -1l-8 4l-4 5l2 3l10 4l8 0l10 -3l18 1l8 2l8 4l3 3l0 2l-26 26l-3 6l-5 20l-8 18l-7 5l-4 1l-46 0l-7 -2l-3 -2l-6 -8l-2 0l-6 8l-10 4l-30 0l-10 -4l-4 -8l-6 -4l-12 0l-7 -2l-5 -5l-2 -7l0 -64l4 -8l6 -3l9 1l3 2l3 6l3 3l2 0l2 -5l0 -12l2 -5l4 -4l4 -2l6 0l6 3l4 6l2 1l6 -9l15 -6l11 -10l12 -2l18 0l4 -2l4 -7l10 -8l2 -5l0 -12l-2 -5l-10 -11l1 -8l10 -8l0 -2l-3 -3l-6 -3l-3 -6l1 -9l5 -5l5 -2l18 0l14 -2l10 1l30 10l8 6l4 1l2 -1l10 0l7 5l5 10l10 8l6 10l18 18l8 1l8 -3l16 -16l2 -4l-5 -14l-1 -16l2 -4l16 -12l4 -6l10 -10l8 -13l10 -3l20 1l2 -1l2 -4l0 -4l10 0l2 -1l14 1l0 4l6 4l12 2l16 0l12 -3l34 0l5 -3l1 -4l20 -1l2 -1l34 0l11 2l1 7l12 15l24 10l16 16l3 6l3 3l6 3l6 6l3 6l0 30l10 18l13 14zM874 55l0 2l3 2l20 0l4 -2l0 -3l-4 -1l-20 0zM385 126l4 -2l6 0l8 6l1 9l-3 6l-6 3l-6 0l-6 -3l-3 -6l0 -6l1 -3zM445 130l4 -4l8 -3l14 0l7 2l4 4l5 10l12 12l1 4l-3 6l-6 3l-6 0l-6 -3l-5 -10l-5 -2l-12 0l-7 -2l-3 -2l-3 -6zM745 222l3 7l2 16l-1 4l-6 6l-14 7l-4 1l-10 0l-2 -1l-5 -7l-2 -8l1 -12l3 -6l15 -6l12 -2zM281 315l8 4l3 8l-7 9l-6 2l-7 -5l-3 -4l-1 -4l3 -6zM335 341l2 -2l4 0l3 2l-3 3l-2 0z"/><path fill="#ff791b" d="M0 1l1 -1l10 0l2 -1l28 0l4 2l1 8l5 7l8 3l6 0l8 2l6 10l10 6l6 10l10 6l6 10l12 8l1 2l0 30l3 8l10 6l6 10l12 7l6 9l6 5l3 1l9 11l4 2l14 -1l7 2l13 12l16 1l14 3l14 -1l16 -4l22 0l14 3l7 -4l3 -4l4 -10l2 -2l6 -2l8 2l6 3l6 6l4 2l18 1l15 4l5 3l7 9l3 1l2 -1l6 -11l6 -3l6 -1l20 1l8 2l6 3l7 9l3 2l3 0l9 -11l2 -1l8 1l5 7l1 8l-1 10l-2 4l-11 8l-2 4l-1 6l0 26l-2 4l-12 10l-2 8l0 10l-2 4l-3 3l-6 3l-14 3l-3 3l0 2l7 5l6 7l14 7l4 7l0 26l-3 14l0 26l-6 8l-19 18l-6 3l-12 2l-16 12l-16 1l-12 9l-4 0l-6 -3l-1 -6l3 -3l8 -4l10 -11l5 -8l-7 -16l2 -16l0 -30l-4 -20l-2 -18l4 -5l6 -3l14 -3l1 -3l-9 -5l-6 -9l-5 0l-7 7l-8 5l-8 11l-4 1l-4 -2l-9 -8l-25 -11l-3 -3l0 -2l11 -15l6 -13l0 -4l-6 -8l-6 -4l-10 -4l-4 0l-18 5l-5 5l-3 6l-1 6l-3 6l-6 6l-1 4l1 12l2 3l8 2l12 0l7 5l1 8l-4 5l-4 2l-18 0l-7 -5l-4 -8l-3 -2l-18 3l-14 13l-7 10l-23 23l-6 2l-10 -1l-8 -3l-5 -5l-9 -22l0 -16l4 -14l0 -32l5 -28l0 -10l-2 -12l1 -14l-3 -6l-8 -8l-6 -4l-23 -6l-10 -6l-6 -8l-8 -18l-6 -25l-7 -7l-7 -13l-7 -5l-9 -21l-3 -3l-9 -4l-12 -3l-8 -4l-14 -11l-10 -5l-8 -8l-8 -1zM396 361l4 6l7 2l12 -5l4 -5l-8 -6l-10 -2l-7 4zM416 19l12 -10l2 -8l9 0l2 -1l172 0l2 1l11 0l3 10l11 8l1 8l-4 5l-8 5l-8 11l-4 2l-30 0l-14 3l-74 0l-10 -2l-8 -4l-6 -1l-12 -6l-38 -12l-6 -3l-2 -2zM1175 153l-3 18l-4 8l-7 7l-6 3l-14 3l-26 1l-6 -1l-6 -3l-6 -6l-3 -10l0 -8l3 -8l0 -6l-16 -16l-4 -2l-10 -2l-42 0l-12 2l-6 4l0 2l6 8l2 6l-3 16l5 22l3 8l0 4l-10 22l-9 5l-6 6l-4 2l-10 1l-12 3l-27 15l-15 6l-10 8l-28 14l-10 2l-4 2l-8 -1l-6 -8l-6 -5l-16 -1l-4 -2l-7 -7l-11 -3l-8 0l-10 -4l-3 -5l0 -4l2 -4l8 -8l2 -6l-8 -16l-3 -2l-10 -3l-18 0l-26 4l-6 -5l-5 -12l-2 -12l-3 -3l-18 -8l-14 -2l-12 4l-20 -1l-10 4l-5 4l0 2l3 4l10 4l6 0l10 -3l18 0l11 3l7 4l1 2l-1 4l-24 24l-4 10l-3 14l-10 18l-7 5l-50 0l-4 -2l-8 -9l-6 1l-8 8l-4 2l-34 0l-4 -2l-10 -12l-8 -2l-10 0l-4 -2l-5 -7l-1 -58l1 -8l5 -7l8 -1l5 4l6 8l3 0l4 -4l1 -16l5 -7l8 -1l8 8l4 2l3 -2l5 -9l14 -6l12 -10l26 0l6 -2l6 -8l10 -10l2 -9l-1 -10l-11 -16l1 -4l9 -7l2 -3l0 -3l-8 -6l-4 -5l0 -6l4 -5l4 -2l12 0l14 -3l12 0l10 2l8 4l10 2l16 10l14 -2l7 6l3 6l13 12l5 9l16 16l8 3l12 -5l17 -19l-5 -12l-1 -6l0 -12l2 -4l16 -12l13 -14l8 -13l8 -3l24 1l4 -5l1 -6l20 0l1 4l3 4l5 2l18 3l10 -1l16 -4l32 0l6 -4l0 -4l20 -1l2 -1l32 0l11 2l0 6l2 4l13 14l20 7l16 15l6 10l10 6l4 4l3 6l0 30l8 16l17 20zM871 55l1 4l3 2l26 0l3 -4l0 -2l-3 -4l-26 0zM389 127l6 0l6 6l0 6l-6 6l-6 0l-6 -6l0 -6zM448 131l7 -5l18 0l4 2l3 3l4 8l11 10l2 4l-1 4l-5 4l-6 0l-5 -4l-5 -9l-8 -2l-12 0l-4 -2l-4 -5zM743 223l4 6l2 16l-1 4l-7 6l-10 5l-4 1l-12 0l-5 -4l-3 -8l0 -10l2 -7l4 -4l12 -4l16 -2zM277 319l6 0l6 6l-2 6l-6 5l-4 -1l-6 -8l1 -4z"/><path fill="#ff731b" d="M0 1l1 -1l12 0l2 -1l26 0l4 2l2 11l5 5l5 2l14 1l4 3l4 8l10 6l6 10l10 6l6 10l10 6l3 6l0 28l3 8l10 6l8 12l11 6l3 6l6 6l6 3l3 3l3 6l6 3l18 0l3 1l13 12l14 1l14 3l12 0l20 -5l22 0l10 3l8 -1l5 -5l7 -13l8 -1l8 3l10 8l10 2l12 0l11 3l7 4l12 12l3 -2l5 -10l8 -5l20 0l12 3l6 4l6 8l4 3l4 0l10 -12l2 -1l4 1l5 7l0 14l-2 4l-5 5l-4 2l-4 5l-1 4l0 28l-3 6l-10 8l-3 6l0 12l-3 6l-6 4l-14 3l-4 2l-2 3l2 5l8 5l6 6l12 6l5 8l0 20l-4 14l0 28l-7 11l-19 17l-16 4l-7 4l-7 6l-3 1l-18 0l-2 1l-2 6l-6 4l-4 -1l-3 -3l0 -2l3 -3l10 -3l2 -7l8 -9l2 -4l0 -4l-7 -16l2 -16l0 -28l-4 -18l-1 -18l2 -4l4 -3l8 -3l8 -1l5 -3l-3 -4l-8 -4l-6 -8l-4 -2l-6 2l-12 9l-10 12l-4 0l-8 -7l-26 -12l-3 -4l9 -12l8 -18l-1 -4l-7 -7l-6 -4l-10 -4l-8 1l-16 6l-4 5l-6 15l-7 6l-2 4l0 18l1 2l2 1l20 0l4 2l4 5l-1 4l-3 3l-4 2l-14 0l-7 -5l-2 -4l0 -4l-3 -3l-20 4l-9 5l-9 10l-8 12l-20 20l-4 2l-8 0l-6 -1l-6 -3l-6 -6l-7 -18l0 -20l4 -14l0 -32l4 -22l0 -18l-1 -2l0 -16l1 -2l-2 -6l-13 -13l-4 -2l-24 -6l-4 -2l-8 -9l-11 -24l-4 -20l-8 -8l-6 -12l-9 -8l-7 -18l-7 -6l-24 -8l-14 -11l-8 -4l-13 -11l-7 -1l-1 -3zM395 357l1 8l7 4l6 0l15 -8l-1 -4l-12 -6l-8 0l-5 2zM419 20l10 -9l3 -6l0 -4l9 0l2 -1l154 0l2 1l25 0l2 10l12 10l1 4l-6 7l-7 5l-2 4l-5 5l-4 2l-30 0l-14 4l-70 0l-6 -1l-12 -5l-10 -2l-8 -4l-40 -13l-6 -4zM1174 151l0 8l-2 10l-3 8l-6 7l-10 5l-8 2l-34 1l-6 -2l-4 -3l-5 -8l-2 -8l0 -4l4 -12l-2 -6l-17 -16l-10 -2l-48 0l-10 2l-5 4l8 14l0 6l-2 6l0 10l4 18l3 8l0 4l-10 20l-18 14l-8 1l-18 5l-18 11l-21 9l-9 7l-14 6l-12 7l-16 4l-4 0l-4 -2l-8 -10l-6 -3l-12 0l-16 -10l-14 -1l-10 -4l-2 -2l-2 -6l2 -4l8 -8l2 -6l-7 -14l-4 -4l-9 -3l-24 0l-8 2l-14 1l-5 -4l-5 -10l-1 -8l-3 -8l-18 -9l-14 -3l-18 5l-14 -2l-9 3l-9 6l0 3l4 4l8 3l10 0l10 -3l12 0l14 3l7 4l1 2l-1 4l-23 23l-4 9l-2 10l-4 10l-7 10l-5 5l-4 2l-46 0l-6 -3l-6 -7l-4 -1l-6 2l-6 6l-6 3l-30 0l-6 -3l-8 -10l-6 -3l-12 0l-4 -2l-5 -7l0 -62l5 -7l2 -1l4 1l10 12l4 0l5 -5l2 -4l0 -12l5 -7l4 -1l10 9l6 0l8 -11l13 -6l10 -8l3 -1l26 0l6 -3l8 -10l4 -3l5 -11l0 -12l-3 -7l-6 -7l-1 -6l1 -2l8 -6l3 -4l0 -4l-7 -5l-6 -7l1 -4l3 -3l4 -2l14 0l8 -3l12 -1l31 9l4 2l9 8l8 -2l10 0l4 4l3 6l13 12l8 12l12 12l6 4l6 0l10 -4l17 -18l0 -4l-5 -14l-1 -8l1 -8l16 -12l15 -16l7 -11l6 -3l6 -1l20 2l4 -3l3 -6l0 -4l16 0l0 4l3 4l6 3l8 1l8 3l12 0l18 -6l32 0l7 -3l2 -6l19 -2l30 0l12 2l0 4l3 6l11 13l8 4l11 3l5 3l15 15l3 6l4 4l6 3l6 6l2 5l0 30l12 21l12 13zM869 55l1 4l4 4l3 1l22 0l4 -2l2 -3l-1 -8l-5 -3l-24 0l-4 3zM449 135l4 -5l4 -2l14 0l7 5l3 10l4 1l8 5l1 6l-3 3l-4 1l-5 -4l-3 -10l-2 -1l-20 0l-7 -5zM391 129l4 1l4 5l-1 4l-5 4l-4 -1l-4 -5l1 -4zM745 227l2 8l0 12l-2 4l-6 4l-12 5l-12 0l-4 -3l-4 -10l1 -10l3 -6l4 -3l14 -4l12 0zM279 321l4 1l3 3l-1 6l-4 3l-4 -1l-3 -4l0 -4z"/><path fill="#ff6d1a" d="M0 1l1 -1l14 0l2 -1l24 0l4 2l0 6l4 8l8 4l15 2l4 4l3 6l8 5l5 5l3 6l8 5l5 5l3 6l12 9l1 3l0 30l3 6l8 5l5 5l5 8l8 4l12 14l6 3l8 11l2 1l20 0l6 3l6 8l6 3l16 1l12 3l18 -2l4 -2l10 -2l18 0l12 3l6 0l6 -4l8 -14l6 -1l20 11l12 2l10 0l8 2l8 5l12 13l4 0l3 -4l3 -8l4 -4l6 -2l22 1l12 6l10 11l4 2l6 -3l6 -9l2 -1l4 1l3 6l-1 14l-4 4l-7 4l-3 4l-2 36l-14 15l-2 17l-7 6l-7 3l-6 1l-6 3l-3 3l2 6l9 5l9 7l9 4l4 4l2 6l0 16l-1 6l-4 10l0 28l-6 10l-18 16l-7 3l-8 1l-18 11l-12 0l-5 -3l0 -4l8 -10l0 -6l-6 -12l-1 -6l1 -2l1 -20l2 -4l6 6l10 1l14 -7l2 -2l0 -3l-2 -2l-14 -6l-10 1l-6 6l-2 -4l0 -6l-3 -10l-2 -22l1 -4l7 -6l7 -3l8 -1l6 -4l-2 -3l-10 -5l-10 -11l-7 1l-16 10l-5 8l-4 3l-3 -1l-7 -6l-23 -10l-3 -4l14 -26l1 -6l-7 -9l-10 -6l-10 -3l-20 6l-6 6l-6 15l-10 7l-1 2l0 14l-3 6l-6 3l-10 2l-10 4l-9 9l-7 12l-12 12l-6 8l-8 5l-14 0l-6 -3l-4 -4l-5 -10l-4 -12l0 -14l4 -16l0 -30l5 -30l0 -10l-2 -10l1 -6l-1 -14l-4 -5l-11 -9l-23 -6l-11 -6l-7 -10l-10 -24l-2 -15l-10 -11l-3 -8l-12 -12l-3 -10l-4 -8l-10 -6l-12 -3l-10 -5l-10 -8l-12 -7l-8 -8l-10 -3zM421 21l12 -13l1 -7l11 0l2 -1l146 0l2 1l27 0l1 10l3 4l9 6l1 4l-3 4l-8 5l-4 7l-4 4l-4 1l-28 0l-10 4l-6 1l-66 0l-6 -1l-12 -5l-12 -2l-8 -4l-30 -9l-10 -4zM1174 153l-3 18l-4 8l-6 6l-6 3l-12 3l-30 1l-10 -4l-5 -5l-3 -10l0 -8l3 -8l-1 -7l-16 -16l-10 -3l-52 0l-6 1l-6 3l-1 4l6 8l2 6l-3 16l7 30l0 4l-9 18l-17 14l-28 8l-20 12l-11 4l-46 24l-12 2l-6 -2l-13 -12l-17 -2l-14 -8l-12 -1l-10 -3l-4 -4l-1 -4l2 -4l8 -8l2 -6l-6 -12l-5 -6l-8 -3l-10 -1l-38 3l-6 -6l-4 -9l-2 -11l-4 -5l-18 -8l-8 -2l-8 0l-12 4l-18 -1l-14 6l-4 5l4 5l10 4l8 0l10 -3l20 0l12 5l3 3l-1 4l-22 22l-4 8l-1 6l-5 13l-6 6l-4 7l-4 4l-4 1l-42 0l-4 -1l-8 -8l-8 -1l-8 4l-4 4l-6 2l-26 0l-4 -1l-15 -14l-17 -2l-4 -4l-1 -4l0 -58l3 -6l2 -1l4 1l6 9l6 3l4 -2l6 -7l1 -13l3 -6l4 -1l8 7l6 1l4 -2l4 -7l4 -4l12 -5l6 -5l6 -3l26 0l3 -1l18 -18l3 -8l0 -14l-4 -10l-4 -4l-1 -4l11 -12l2 -4l-3 -6l-7 -4l-3 -4l1 -4l3 -2l15 -1l10 -4l8 -1l6 1l14 6l12 2l12 11l4 0l8 -3l6 0l4 2l4 7l12 10l8 12l16 16l8 3l12 -4l16 -17l2 -4l-6 -18l0 -12l6 -7l6 -3l19 -18l7 -11l8 -4l6 -1l8 1l8 3l8 -6l3 -6l0 -4l12 0l0 4l2 4l3 2l22 7l12 0l10 -5l8 -2l32 0l8 -3l2 -2l1 -5l7 -1l40 -1l12 2l1 8l14 16l21 8l16 15l4 7l4 4l7 4l4 4l3 6l0 32l8 14l18 22zM868 53l0 4l3 6l4 3l24 0l3 -1l4 -6l0 -8l-5 -5l-26 0l-4 2zM452 135l1 -2l6 -3l10 0l6 3l2 4l-3 4l-3 1l-12 0l-6 -3zM391 132l2 0l3 3l0 2l-3 3l-2 0l-3 -3l0 -2zM484 149l1 -1l5 1l2 4l-3 3l-2 0l-3 -3zM743 227l3 8l0 12l-3 4l-16 8l-12 0l-4 -3l-3 -7l0 -8l3 -9l2 -2l14 -5l12 0zM275 295l3 -4l3 -1l12 0l6 3l1 4l-1 2l-6 3l-10 0l-6 -3zM279 324l2 0l3 3l-3 4l-2 0l-3 -4zM374 437l3 -1l2 1l0 2l-4 1z"/><path fill="#ff6819" d="M0 1l1 -1l16 0l2 -1l22 0l4 2l1 10l5 6l6 2l15 2l4 4l3 6l8 5l5 5l3 6l8 5l5 5l3 6l12 9l1 3l0 30l3 6l8 5l5 5l5 8l8 4l4 4l3 6l12 8l3 6l8 6l18 -1l4 2l11 11l9 2l14 1l6 2l10 0l28 -6l18 1l12 3l4 -1l5 -4l7 -12l6 -1l6 2l6 5l6 3l24 2l9 3l21 19l4 -3l6 -12l8 -5l14 0l12 3l6 4l15 14l7 -1l3 -3l3 -6l2 -2l2 1l2 3l0 12l-2 3l-8 4l-4 5l-2 36l-2 4l-12 12l-1 2l0 10l-2 6l-7 6l-14 4l-6 4l-2 4l1 4l3 3l8 3l10 7l10 5l5 8l-1 20l-5 12l0 28l-4 8l-11 11l-10 7l-12 3l-7 3l-9 6l-14 0l-2 -2l0 -2l4 -4l3 -8l-1 -6l-6 -12l0 -16l2 -8l2 -1l4 2l8 1l12 -5l5 -3l3 -4l-4 -4l-8 -4l-8 -2l-4 0l-8 3l-2 -1l-6 -24l1 -14l7 -7l8 -3l12 -2l3 -4l-4 -4l-11 -6l-10 -10l-8 1l-6 4l-10 4l-8 11l-2 0l-8 -6l-6 -1l-16 -8l-2 -3l14 -28l0 -4l-2 -4l-10 -9l-12 -5l-6 0l-8 2l-12 5l-6 8l-3 9l-3 4l-6 2l-4 3l-1 13l-3 8l-6 4l-12 3l-10 5l-5 6l-9 15l-11 11l-7 9l-4 3l-4 1l-8 0l-8 -2l-7 -7l-7 -18l0 -20l4 -14l0 -32l4 -22l0 -18l-1 -2l1 -20l-3 -6l-13 -12l-8 -3l-18 -4l-6 -3l-4 -4l-13 -24l-3 -10l0 -6l-2 -8l-8 -8l-6 -12l-10 -9l-8 -19l-5 -4l-25 -9l-10 -8l-16 -10l-8 -8l-8 -1zM424 21l11 -12l1 -8l11 0l2 -1l142 0l2 1l26 0l1 10l2 4l3 3l6 3l2 2l0 2l-8 5l-3 3l-4 8l-3 2l-30 1l-6 3l-12 3l-62 0l-12 -3l-8 -4l-14 -2l-16 -6l-12 -3l-17 -7l-2 -2zM1173 151l0 8l-3 14l-3 5l-6 6l-8 4l-8 2l-30 2l-8 -2l-7 -5l-3 -6l-2 -8l0 -4l3 -8l0 -8l-15 -16l-6 -3l-14 -2l-34 0l-2 1l-10 0l-11 4l-1 4l5 6l3 6l0 6l-2 6l0 10l6 24l0 6l-10 18l-17 14l-23 6l-14 7l-8 6l-8 4l-8 2l-15 9l-29 13l-12 1l-4 -2l-14 -13l-12 0l-18 -8l-12 -1l-7 -2l-5 -4l-1 -6l9 -10l2 -6l-10 -17l-8 -4l-8 -1l-42 2l-4 -3l-4 -7l-3 -10l0 -4l-3 -5l-10 -4l-8 -5l-12 -3l-6 0l-12 4l-18 -1l-6 2l-12 7l-1 3l2 4l7 4l12 2l16 -4l12 0l12 3l6 5l-1 4l-21 21l-4 7l-1 6l-7 15l-7 5l-4 8l-3 2l-8 1l-38 -1l-8 -7l-8 -2l-6 2l-10 7l-4 1l-24 0l-8 -3l-12 -12l-16 -2l-4 -4l-1 -38l1 -2l0 -20l2 -3l2 -1l8 11l7 1l11 -10l2 -8l0 -6l2 -4l2 0l8 6l4 1l4 -1l10 -12l13 -6l9 -6l4 -1l26 0l2 -1l16 -16l5 -10l0 -18l-7 -13l0 -4l10 -11l2 -4l-1 -6l-11 -8l2 -3l14 -2l12 -5l10 0l14 6l14 3l5 7l5 4l6 0l10 -4l4 0l5 4l2 4l6 6l8 6l7 11l15 15l5 3l6 0l12 -5l6 -8l9 -8l2 -4l-6 -16l-1 -10l3 -8l10 -6l30 -30l5 -2l10 0l10 4l4 -2l8 -8l2 -4l0 -4l6 0l1 6l3 3l8 4l6 1l12 5l12 0l9 -5l9 -3l32 0l4 -1l8 -5l1 -5l17 -2l26 0l13 2l0 4l3 6l12 14l6 3l12 3l6 4l14 14l4 7l10 7l6 6l2 6l-1 28l10 18l14 16zM867 53l0 4l2 5l6 6l26 0l3 -3l3 -6l0 -8l-2 -4l-4 -3l-6 -1l-22 1l-3 3zM456 135l3 -2l10 0l4 4l-4 2l-10 0l-3 -2zM743 229l2 6l0 12l-4 4l-7 4l-9 3l-8 0l-3 -1l-5 -6l0 -12l2 -5l4 -4l12 -4l10 0zM279 295l4 -2l10 0l3 2l0 2l-3 2l-10 0z"/><path fill="#ff6219" d="M0 1l1 -1l18 0l2 -1l20 0l4 2l1 10l5 6l6 2l12 1l4 2l3 3l3 6l8 5l5 5l3 6l8 5l5 5l3 6l11 8l2 4l0 30l3 6l8 5l5 5l5 8l8 4l4 4l3 6l13 10l3 6l3 3l4 1l8 -1l12 1l14 13l14 1l20 4l26 -6l22 0l10 3l6 0l4 -2l5 -5l5 -9l6 -1l14 9l32 4l6 3l16 17l4 2l2 0l3 -3l5 -12l4 -4l6 -2l10 0l10 2l6 3l16 16l6 3l4 0l6 -4l2 0l-1 4l-7 3l-4 5l-2 10l0 30l-14 16l-3 18l-9 6l-8 2l-6 3l-9 7l5 8l16 6l14 8l5 6l1 4l-1 16l-6 14l0 28l-7 12l-14 11l-6 3l-12 3l-10 6l-6 1l-6 -2l2 -6l0 -8l-7 -16l1 -19l2 -3l8 1l6 -1l18 -9l1 -3l-4 -4l-13 -6l-6 -1l-10 1l-2 -2l-5 -16l1 -16l6 -7l6 -3l18 -3l3 -3l-3 -4l-14 -8l-12 -11l-8 1l-8 4l-10 2l-3 2l-4 6l-17 -3l-10 -5l-2 -2l-1 -4l12 -26l0 -4l-3 -6l-8 -7l-14 -6l-6 0l-20 7l-4 4l-6 14l-2 2l-10 3l-2 2l-2 7l0 12l-1 2l-9 6l-6 1l-12 5l-8 10l-5 10l-9 9l-10 13l-6 4l-14 0l-6 -3l-6 -8l-6 -17l0 -14l5 -20l0 -32l4 -28l-2 -16l1 -18l-2 -4l-10 -10l-8 -4l-22 -5l-4 -2l-7 -7l-4 -6l-9 -20l-2 -8l0 -6l-3 -8l-8 -8l-5 -10l-9 -8l-8 -20l-7 -5l-21 -7l-27 -18l-8 -8l-6 -3l-4 0zM426 21l11 -12l2 -8l10 0l2 -1l138 0l2 1l25 0l0 6l2 8l2 4l5 4l0 2l-5 4l-3 8l-6 4l-24 0l-12 6l-10 2l-58 0l-10 -2l-10 -5l-16 -2l-34 -11l-8 -4zM1173 153l-2 16l-5 10l-7 6l-16 5l-32 1l-8 -4l-4 -5l-2 -5l-1 -12l3 -10l-2 -6l-16 -16l-14 -3l-42 0l-14 2l-6 3l-1 2l7 10l2 6l-3 16l6 28l0 6l-9 16l-18 16l-26 7l-21 13l-15 5l-6 4l-34 16l-8 1l-8 -1l-10 -10l-6 -4l-12 0l-12 -5l-18 -3l-8 -3l-4 -4l0 -4l9 -10l2 -4l-1 -4l-7 -12l-5 -5l-10 -3l-24 0l-16 2l-6 -1l-5 -5l-4 -8l-2 -10l-4 -6l-21 -10l-10 -2l-10 2l-4 2l-22 0l-13 6l-5 4l0 4l4 4l12 4l8 0l10 -3l20 0l10 4l3 3l-1 4l-22 23l-8 21l-2 2l-8 3l-4 9l-6 4l-40 -1l-10 -7l-8 0l-20 9l-22 0l-8 -2l-14 -13l-4 -2l-8 0l-4 -2l-2 -4l0 -40l2 -8l8 3l6 0l6 -4l7 -7l3 -6l2 -8l6 2l8 0l6 -4l8 -10l8 -3l12 -7l30 -1l6 -4l14 -15l4 -10l0 -18l-6 -16l13 -16l-1 -8l-3 -4l0 -2l15 -8l10 -1l16 7l11 2l3 3l3 7l3 2l8 1l10 -5l4 -1l4 1l6 8l14 12l8 12l14 13l8 3l12 -4l19 -20l0 -6l-6 -14l0 -12l3 -4l10 -6l14 -12l14 -16l8 -3l6 0l14 5l14 -13l2 0l10 6l12 3l8 4l12 1l20 -9l32 0l11 -4l2 -2l2 -6l5 -1l36 -1l13 2l1 8l14 16l8 4l6 1l7 3l17 16l3 6l5 5l6 3l4 4l3 6l0 32l11 18l15 18zM871 43l-5 8l0 8l3 6l4 4l4 1l24 0l4 -4l3 -7l0 -8l-2 -6l-3 -3l-16 -2l-2 1l-10 0zM739 228l3 3l2 6l0 8l-2 4l-17 8l-8 0l-6 -4l-2 -4l0 -6l2 -7l4 -5l10 -4z"/><path fill="#ff5c18" d="M0 1l1 -1l40 -1l4 2l0 8l6 8l4 2l14 1l4 2l4 7l6 6l5 2l3 3l2 5l6 6l5 2l3 3l2 5l6 6l7 4l2 6l0 28l1 4l6 6l5 2l3 3l2 5l6 6l6 2l4 4l3 6l3 3l6 3l4 4l3 6l5 4l18 -1l7 3l6 8l5 3l18 2l10 3l16 -1l16 -5l22 0l10 3l6 0l8 -5l6 -10l4 -1l16 9l30 3l8 4l7 9l9 9l4 2l4 -1l6 -14l8 -6l6 -1l12 1l10 5l17 17l2 4l-1 6l0 36l-3 6l-10 10l-2 6l0 6l-3 8l-2 2l-26 12l-7 -2l-13 -7l-6 -7l-4 -3l-4 -1l-6 1l-10 4l-14 1l-8 6l-10 0l-8 -4l-3 -4l4 -14l7 -14l0 -6l-10 -11l-10 -5l-10 -2l-19 6l-5 3l-5 7l0 2l-5 9l-2 1l-10 -1l-2 2l-2 7l0 14l-2 4l-10 6l-12 3l-4 3l-5 6l-7 14l-20 23l-10 3l-6 0l-6 -2l-6 -6l-7 -18l0 -20l4 -12l0 -32l4 -26l0 -14l-1 -2l1 -22l-4 -8l-11 -10l-8 -3l-18 -4l-8 -4l-3 -3l-7 -11l-9 -21l-2 -16l-9 -9l-7 -13l-9 -8l-7 -18l-3 -3l-6 -3l-14 -4l-8 -4l-10 -8l-12 -7l-10 -10l-4 -2l-6 0zM429 21l9 -10l3 -6l0 -4l12 0l2 -1l130 0l2 1l13 0l3 7l2 0l8 5l3 12l-2 8l-4 4l-7 2l-16 0l-16 8l-10 1l-50 0l-10 -1l-14 -7l-16 -1l-20 -6l-20 -8l-2 -2zM1172 151l0 10l-2 10l-9 12l-14 6l-16 2l-18 0l-8 -3l-5 -5l-4 -12l0 -4l3 -10l0 -6l-16 -17l-4 -2l-10 -2l-48 0l-13 3l-5 4l9 14l-2 20l5 24l0 8l-9 16l-13 12l-6 4l-20 5l-11 5l-11 8l-8 4l-12 3l-22 12l-20 7l-8 0l-6 -3l-12 -11l-16 -1l-10 -4l-24 -5l-5 -6l1 -3l8 -9l1 -8l-11 -16l-10 -4l-10 0l-2 -1l-34 2l-5 -3l-6 -12l-2 -10l-5 -5l-4 -1l-14 -8l-8 -2l-10 0l-12 4l-4 -1l-16 1l-14 7l-4 5l4 6l6 3l8 2l12 -1l10 -3l14 0l9 3l5 4l-2 6l-19 18l-5 10l-3 10l-5 4l-10 2l-4 10l-3 2l-7 2l-6 0l-7 -2l-3 -2l-4 -9l-8 -2l-5 1l-5 5l-14 2l-16 8l-30 -1l-14 -13l-8 -4l-5 -1l-3 -3l-2 -7l0 -22l2 -7l2 -3l8 -2l6 -3l12 -12l4 -7l16 -5l9 -11l5 -3l8 -2l8 -5l32 -2l17 -16l3 -4l3 -8l0 -22l-5 -14l11 -12l3 -6l-1 -10l5 -6l6 -3l6 -1l4 1l12 7l6 1l7 5l2 8l3 3l14 -3l10 -5l4 0l10 10l10 7l6 10l16 16l6 4l6 0l10 -3l18 -19l2 -4l-6 -16l0 -14l4 -5l8 -4l12 -10l16 -17l6 -3l6 -1l4 1l10 6l2 0l14 -13l20 6l10 5l16 1l8 -5l10 -4l30 0l6 -1l9 -4l2 -2l1 -6l18 -2l22 0l12 2l0 4l3 6l12 14l23 9l17 17l3 6l8 5l7 7l2 6l-1 28l10 18l15 18zM866 47l-2 8l1 4l6 10l4 2l24 1l3 -1l3 -3l4 -11l0 -8l-1 -4l-3 -4l-6 -3l-6 -1l-4 -4l-2 0l-4 4l-10 2zM741 232l1 13l-2 4l-11 6l-14 0l-4 -3l-1 -9l4 -10l11 -5l10 0zM417 305l4 1l6 4l12 2l21 11l3 6l1 6l-1 12l-7 14l0 30l-5 8l-12 10l-12 6l-6 1l-11 5l-5 1l-2 -1l-2 -4l-1 -10l-7 -14l0 -12l2 -7l16 -3l16 -8l2 -2l0 -3l-16 -9l-18 -3l-4 -7l-2 -8l0 -10l3 -8l3 -3l10 -5z"/><path fill="#ff5417" d="M0 1l1 -1l22 0l2 -1l18 1l2 1l0 8l6 8l8 3l10 0l4 2l6 10l9 5l3 3l4 8l9 5l3 3l4 8l11 7l2 8l-1 20l1 8l3 5l9 5l3 3l4 8l12 7l4 7l5 5l9 6l2 6l6 4l18 -1l8 4l7 9l5 2l14 1l16 4l14 -2l10 -4l6 -1l18 0l14 4l4 0l6 -3l7 -11l3 -2l4 1l12 8l20 1l12 2l6 3l8 10l12 11l5 0l3 -2l7 -16l5 -3l16 0l6 2l6 4l13 13l3 6l0 42l-3 6l-9 9l-3 9l0 6l-3 6l-4 3l-22 10l-2 0l-16 -8l-8 -8l-8 -4l-14 4l-16 0l-6 5l-6 3l-8 -1l-6 -4l-1 -6l11 -28l-3 -6l-7 -7l-12 -6l-10 -2l-22 8l-5 5l-5 11l-3 3l-5 0l-8 -3l-2 3l-2 8l-1 18l-8 6l-11 3l-6 3l-4 4l-8 16l-20 24l-6 3l-15 -1l-8 -8l-6 -18l0 -16l5 -16l0 -34l3 -18l0 -22l-1 -2l1 -20l-3 -6l-10 -9l-6 -3l-22 -5l-6 -3l-6 -6l-11 -20l-3 -8l-2 -16l-2 -4l-7 -6l-6 -12l-9 -8l-5 -10l-2 -8l-3 -4l-4 -3l-22 -7l-28 -19l-9 -9l-5 -2l-4 0zM431 21l11 -12l1 -8l40 0l2 -1l112 1l0 4l2 4l10 6l2 3l1 9l-3 6l-6 3l-18 1l-10 7l-6 2l-66 0l-16 -7l-16 -1l-24 -7l-14 -6l-2 -2zM1172 153l-2 16l-4 8l-7 7l-14 5l-28 2l-9 -2l-6 -4l-5 -12l2 -22l-16 -17l-6 -3l-6 -1l-52 0l-10 2l-6 4l0 3l8 10l1 4l-3 16l5 24l0 10l-8 14l-17 16l-4 2l-20 5l-12 6l-13 9l-17 5l-18 10l-22 7l-10 -1l-4 -2l-8 -8l-6 -3l-12 0l-16 -5l-14 -2l-7 -3l-2 -2l0 -4l8 -10l1 -6l-2 -5l-9 -13l-5 -3l-12 -2l-40 1l-4 -2l-6 -10l-2 -10l-4 -6l-19 -10l-11 -3l-6 0l-12 4l-16 -1l-10 3l-14 8l-1 3l1 4l10 6l12 2l16 -4l18 0l8 3l3 3l-1 5l-21 21l-7 17l-4 3l-8 0l-4 2l-6 10l-6 3l-6 0l-6 -3l-4 -8l-6 -4l-10 0l-8 6l-6 3l-6 1l-14 7l-4 1l-24 -1l-8 -4l-11 -11l-11 -6l-4 -10l0 -14l4 -10l10 -5l20 -21l14 -6l11 -12l23 -9l26 -1l5 -2l13 -12l7 -12l2 -10l0 -10l-5 -20l14 -16l0 -12l5 -6l9 -3l6 2l6 5l12 6l4 8l0 10l2 3l9 -9l5 -1l14 -7l4 0l10 10l7 4l4 4l6 10l14 14l9 5l8 -1l6 -2l6 -6l2 -4l11 -10l2 -4l-6 -14l-1 -6l0 -8l2 -4l24 -17l14 -15l10 -5l9 3l3 3l1 3l-3 6l-10 5l-4 4l-3 7l-1 8l5 10l4 4l11 2l18 0l2 -1l6 -11l1 -12l-3 -9l-12 -7l-3 -6l0 -2l4 -6l7 -6l22 6l10 5l14 0l16 -9l40 -2l5 -2l5 -4l1 -6l5 -1l32 -1l14 2l1 8l11 14l8 5l16 5l17 16l7 10l12 9l3 9l-1 28l11 18l15 18zM739 232l1 13l-5 6l-8 3l-12 0l-2 -1l-3 -6l1 -6l5 -8l13 -5zM413 306l6 2l2 2l18 3l18 9l5 7l0 16l-2 6l-6 8l1 30l-1 4l-11 12l-14 8l-23 6l-4 -6l-1 -6l-6 -12l-1 -4l1 -12l2 -4l10 -2l16 -8l2 0l6 -6l-2 -3l-12 -6l-20 -5l-5 -6l-3 -14l2 -7l3 -5l9 -6z"/><path fill="#ff4b16" d="M0 1l1 -1l24 0l2 -1l16 1l2 1l0 8l4 7l6 3l12 1l6 2l5 9l3 3l8 4l5 9l3 3l8 4l5 9l3 3l9 5l1 2l0 28l3 10l3 3l8 4l5 9l3 3l10 5l6 10l10 6l5 10l3 2l4 1l18 -1l4 2l12 12l14 1l16 4l12 -1l22 -6l14 0l10 2l4 2l6 0l4 -1l11 -13l3 0l12 8l26 1l8 2l8 5l5 8l10 10l5 2l4 -1l4 -3l5 -14l5 -4l16 0l8 4l17 18l0 46l-10 12l-6 20l-3 3l-20 10l-6 0l-12 -6l-10 -9l-6 -3l-8 0l-8 3l-18 -1l-10 8l-9 -1l-3 -2l-1 -6l2 -8l8 -18l-4 -10l-5 -5l-14 -7l-12 -1l-22 9l-4 4l-6 12l-2 1l-10 -4l-4 1l-4 12l-2 19l-8 5l-10 2l-4 2l-4 4l-10 19l-8 9l-5 8l-7 7l-8 2l-6 0l-6 -2l-5 -5l-4 -8l-3 -10l0 -20l4 -12l0 -32l4 -28l0 -10l-1 -2l1 -24l-2 -6l-12 -12l-4 -2l-26 -6l-8 -6l-8 -13l-7 -15l-2 -8l0 -6l-3 -8l-8 -8l-5 -10l-10 -10l-7 -18l-8 -6l-14 -4l-10 -5l-22 -15l-10 -10l-4 -2l-6 0zM433 21l11 -12l2 -8l43 0l2 -1l103 1l3 10l11 8l1 8l-4 5l-4 2l-16 1l-8 6l-8 4l-66 0l-14 -7l-18 -1l-30 -9l-6 -3l-2 -2zM1171 151l0 10l-2 10l-4 7l-4 4l-8 4l-10 3l-32 1l-6 -3l-6 -8l-2 -8l3 -16l-1 -5l-18 -18l-18 -3l-32 0l-2 1l-12 0l-11 3l-4 4l9 14l-2 20l3 12l2 16l-1 4l-8 14l-16 15l-6 3l-22 6l-24 15l-14 3l-16 9l-20 6l-14 0l-16 -12l-18 -1l-12 -4l-14 -2l-6 -3l-2 -5l7 -8l2 -4l0 -4l-8 -14l-5 -5l-6 -3l-6 -1l-42 1l-7 -4l-6 -12l-1 -6l-4 -6l-22 -12l-10 -2l-8 1l-8 3l-12 0l-2 -1l-6 1l-18 8l-4 4l0 5l2 3l4 3l6 2l16 1l16 -4l14 0l8 4l3 4l-20 20l-4 6l-5 13l-2 2l-12 1l-4 2l-5 8l-5 4l-8 -1l-8 -11l-4 -2l-8 -1l-6 1l-4 2l-6 6l-20 9l-4 1l-22 0l-10 -4l-14 -13l-5 -3l-6 -8l0 -18l2 -4l13 -10l20 -20l6 -2l6 -4l10 -11l26 -9l20 0l4 -1l10 -7l10 -10l4 -8l2 -10l0 -16l-4 -14l2 -4l10 -10l3 -8l1 -11l6 -4l6 0l4 2l17 13l2 4l1 14l2 2l4 0l6 -9l24 -10l8 8l8 5l6 6l3 6l19 19l4 2l8 0l9 -3l7 -9l13 -13l0 -6l-6 -12l0 -14l4 -4l3 -1l20 -14l16 -16l4 -2l6 0l6 5l-1 4l-3 3l-10 6l-4 9l-1 10l6 12l7 4l24 2l6 -3l6 -15l0 -10l-2 -8l-4 -4l-6 -3l-4 -5l2 -6l4 -4l6 -2l4 2l10 2l14 6l14 0l5 -2l5 -4l10 -4l32 0l14 -6l2 -8l4 -1l32 -1l13 2l0 4l3 6l12 14l24 10l6 7l7 5l5 8l6 6l9 6l3 6l-1 30l10 18l15 18zM735 231l3 4l0 10l-1 2l-5 4l-5 2l-12 0l-4 -6l3 -10l3 -3l8 -4l4 -1zM409 307l14 5l18 3l14 7l6 7l0 16l-4 8l-5 6l1 32l-3 6l-9 8l-11 6l-19 6l-6 -2l-9 -20l-1 -4l1 -10l3 -5l10 -3l21 -10l2 -2l0 -2l-3 -4l-18 -8l-11 -2l-7 -7l-3 -9l0 -4l3 -8l6 -6z"/><path fill="#ff4116" d="M0 1l1 -1l26 0l2 -1l14 1l4 14l3 3l9 3l8 0l6 2l5 9l3 3l8 4l5 9l3 3l8 4l5 9l3 3l9 5l1 2l0 30l3 8l3 3l8 4l5 9l3 3l7 3l9 12l11 8l3 7l6 4l20 -1l4 2l8 10l4 2l18 2l14 4l36 -8l14 1l14 4l8 -3l6 -8l4 -3l14 9l20 -1l12 2l6 3l6 6l3 6l5 6l4 3l8 2l8 -5l3 -12l4 -4l15 -1l6 2l16 15l3 6l0 42l-11 17l-2 11l-3 6l-3 3l-20 9l-6 -1l-8 -4l-12 -10l-6 -3l-8 0l-10 3l-16 -3l-10 9l-6 1l-5 -4l0 -6l2 -8l7 -14l-2 -10l-10 -10l-12 -5l-10 -1l-24 9l-3 3l-5 10l-4 3l-10 -4l-5 1l-6 18l0 12l-1 2l-5 4l-13 3l-5 3l-4 6l-6 14l-15 20l-6 6l-6 2l-10 0l-5 -2l-7 -10l-4 -14l0 -16l5 -16l0 -34l3 -20l0 -18l-1 -2l1 -22l-2 -5l-10 -10l-8 -4l-20 -4l-8 -4l-5 -5l-13 -24l-5 -24l-7 -6l-8 -14l-9 -8l-8 -20l-9 -5l-14 -4l-6 -3l-26 -18l-10 -10l-8 -1zM436 21l9 -10l3 -6l0 -4l45 0l2 -1l97 1l2 10l12 10l1 4l-4 5l-4 2l-12 0l-6 3l-8 7l-6 2l-62 0l-20 -8l-12 0l-18 -4l-16 -6l-3 -3zM1171 151l-1 14l-3 9l-10 10l-18 5l-26 1l-6 -2l-5 -5l-4 -10l0 -10l2 -6l-1 -8l-16 -16l-4 -2l-12 -2l-42 0l-18 3l-4 2l-2 3l9 12l1 4l-2 10l0 10l3 14l1 14l-6 12l-21 20l-19 5l-7 3l-22 14l-11 2l-21 10l-19 5l-15 -1l-9 -7l-6 -3l-18 -1l-4 -2l-14 -2l-12 -4l-3 -3l0 -2l7 -8l2 -4l0 -4l-8 -14l-6 -6l-10 -3l-14 0l-2 -1l-2 1l-26 0l-4 -1l-5 -6l-3 -6l-2 -10l-4 -5l-10 -4l-10 -7l-8 -2l-10 0l-10 3l-18 0l-14 5l-10 6l-2 4l2 6l8 5l8 2l10 0l14 -4l14 -1l10 3l4 5l-20 20l-10 18l-10 1l-6 2l-5 7l-7 6l-4 -1l-10 -12l-6 -2l-10 0l-6 2l-8 8l-22 10l-24 -1l-5 -2l-23 -20l-3 -6l0 -14l3 -6l8 -6l24 -23l8 -4l12 -13l12 -3l12 -5l24 -1l10 -5l13 -12l4 -8l2 -8l0 -22l-3 -12l2 -4l11 -10l2 -6l0 -10l3 -4l4 -2l7 2l7 7l8 5l3 6l0 10l3 5l4 1l4 -2l4 -6l5 -4l15 -7l7 1l3 4l12 8l8 12l16 16l10 4l10 -2l4 -2l10 -13l10 -9l-1 -8l-5 -10l0 -14l4 -4l22 -13l6 -6l8 -3l1 -4l3 -4l6 -2l4 2l1 4l-7 5l-6 1l-1 2l0 4l-3 10l0 8l4 9l4 5l6 3l6 0l8 2l12 0l6 -6l5 -15l0 -14l-2 -4l-12 -10l0 -4l3 -4l6 -2l16 4l10 5l14 0l9 -3l3 -3l10 -4l30 0l8 -2l9 -5l1 -8l6 -1l28 -1l15 2l1 8l16 18l14 4l6 3l18 17l3 6l3 3l6 3l6 6l2 6l-1 30l11 18l15 18zM735 233l1 2l0 10l-3 4l-6 3l-10 0l-4 -2l-1 -3l1 -5l8 -9l4 -2l6 0zM405 309l6 0l16 5l6 0l8 2l16 9l2 2l1 4l-1 16l-9 12l0 6l2 8l0 18l-2 4l-11 10l-12 6l-16 4l-5 -2l-8 -16l-2 -8l1 -6l3 -6l32 -14l2 -4l-5 -5l-16 -7l-10 -2l-8 -6l-4 -8l1 -10l7 -8z"/><path fill="#ff3715" d="M0 1l1 -1l28 0l2 -1l12 1l3 13l5 5l6 2l14 1l4 4l3 6l3 3l6 3l4 4l3 6l3 3l8 4l5 9l13 10l0 30l3 8l3 3l8 4l5 9l3 3l8 4l3 3l3 6l13 10l3 8l4 3l22 -1l4 2l8 10l6 3l14 1l12 4l14 -1l18 -6l22 0l8 3l8 1l6 -2l8 -10l4 0l10 8l24 -1l10 2l6 3l3 3l7 12l4 4l10 4l7 -2l5 -4l2 -10l4 -5l12 -1l10 4l12 12l3 6l0 42l-11 18l-1 8l-4 8l-21 11l-5 -1l-8 -4l-13 -10l-6 -3l-6 0l-8 2l-10 0l-10 -3l-6 3l-6 7l-4 0l-3 -2l0 -8l2 -8l6 -10l0 -8l-3 -6l-4 -5l-12 -7l-6 -2l-10 -1l-26 11l-7 12l-3 2l-8 -4l-4 -1l-6 5l-1 6l-4 10l-1 14l-4 3l-12 2l-7 5l-12 24l-7 8l-3 6l-7 7l-10 3l-6 0l-4 -2l-6 -7l-6 -19l1 -16l5 -18l0 -34l3 -24l-1 -4l1 -30l-3 -6l-5 -6l-9 -6l-26 -6l-6 -3l-3 -3l-13 -22l-3 -8l-2 -16l-2 -4l-9 -9l-4 -9l-9 -8l-3 -5l-5 -15l-7 -6l-14 -4l-9 -4l-25 -17l-10 -10l-10 -3zM438 21l11 -13l1 -7l45 0l2 -1l93 1l1 10l3 4l9 6l1 4l-1 2l-6 3l-13 1l-9 8l-10 4l-60 0l-18 -8l-14 0l-22 -5l-10 -4l-3 -3zM1170 151l-1 18l-6 10l-4 3l-8 4l-8 2l-26 2l-6 -1l-6 -3l-4 -5l-3 -10l2 -20l-17 -18l-4 -2l-10 -2l-48 0l-8 1l-9 3l-3 2l0 4l6 6l3 6l-2 20l4 20l0 10l-7 13l-16 16l-5 3l-21 6l-10 5l-10 8l-6 3l-16 3l-18 9l-10 1l-6 2l-12 0l-20 -11l-14 0l-30 -7l-3 -3l0 -2l6 -8l2 -8l-7 -12l-6 -7l-6 -3l-14 -2l-22 0l-2 1l-14 -1l-5 -4l-5 -10l-1 -6l-5 -7l-22 -12l-8 -2l-8 0l-10 3l-18 0l-22 9l-5 5l1 8l4 4l8 3l16 1l18 -5l14 0l9 5l-2 6l-18 16l-9 16l-16 2l-4 3l-4 7l-4 3l-4 -1l-6 -9l-4 -3l-18 -1l-7 3l-5 7l-22 11l-22 -1l-7 -3l-9 -7l-13 -13l-2 -6l1 -14l18 -18l9 -6l5 -7l10 -6l10 -11l4 -2l8 -1l14 -6l26 -2l20 -14l3 -5l3 -12l0 -26l-2 -10l14 -14l1 -14l1 -3l3 -3l5 0l7 8l7 4l4 4l1 14l5 5l6 0l10 -11l16 -8l4 0l17 12l10 14l13 13l8 5l8 0l10 -3l4 -4l4 -7l11 -10l2 -4l-1 -6l-5 -8l-1 -6l1 -10l3 -3l22 -12l4 -4l6 -2l2 3l-2 16l2 6l6 10l10 4l12 2l12 0l6 -5l6 -17l0 -12l1 -2l-3 -7l-10 -7l-1 -2l3 -5l2 -1l8 1l20 7l12 0l6 -1l16 -9l30 0l12 -3l6 -3l3 -6l0 -4l5 -1l28 -1l14 2l0 4l3 6l13 15l22 8l16 15l4 7l5 5l9 6l3 6l0 26l-1 2l1 4l9 16l15 18zM869 27l0 -2l2 -2l4 2l-2 3zM732 233l2 4l0 6l-1 3l-3 3l-7 2l-9 -2l-1 -4l8 -10l6 -3zM407 310l30 6l18 9l4 6l-1 14l-3 6l-6 6l-2 4l4 14l0 14l-2 6l-6 6l-16 9l-16 3l-4 -2l-8 -15l-1 -11l5 -8l20 -10l7 -2l5 -4l0 -2l-4 -5l-6 -3l-23 -8l-8 -8l-2 -4l0 -6l3 -6l6 -6z"/><path fill="#ff2e14" d="M0 1l1 -1l32 0l2 -1l8 1l1 1l1 10l6 7l6 2l8 0l8 3l5 8l3 3l6 3l4 4l3 6l13 10l3 6l3 3l8 5l2 4l0 28l3 8l3 3l6 3l10 13l8 4l3 3l3 6l13 10l3 9l4 2l12 0l2 -1l10 1l4 3l2 4l6 6l22 3l10 4l10 -1l22 -7l18 0l12 4l8 0l6 -3l8 -8l12 9l4 0l10 -3l18 2l6 3l5 5l9 14l4 3l8 2l8 -2l6 -5l1 -8l3 -5l2 -1l14 0l14 12l3 4l2 6l0 38l-1 4l-6 9l-3 7l-3 12l-4 5l-18 9l-11 -4l-7 -4l-8 -7l-6 -3l-22 2l-10 -4l-6 0l-10 10l-3 -2l1 -12l4 -6l3 -8l0 -4l-3 -7l-4 -6l-7 -5l-9 -4l-14 -2l-12 6l-12 4l-3 2l-6 10l-3 2l-10 -4l-6 2l-4 6l-2 8l-3 6l0 6l-2 8l-3 2l-12 2l-6 5l-12 25l-7 8l-6 10l-9 5l-12 0l-6 -5l-7 -18l0 -18l5 -16l0 -32l3 -24l-1 -28l2 -10l-2 -6l-6 -8l-4 -3l-8 -4l-26 -6l-8 -7l-15 -28l-1 -12l-2 -7l-9 -9l-5 -10l-10 -10l-8 -20l-8 -5l-12 -3l-10 -5l-22 -15l-12 -12l-4 -2l-6 0zM440 21l11 -12l2 -8l86 -1l2 1l46 0l1 10l2 4l11 8l-4 4l-8 0l-6 2l-14 12l-8 1l-54 0l-20 -8l-14 0l-6 -2l-10 -1l-15 -6l-2 -2zM1170 151l-1 16l-5 10l-3 3l-12 6l-8 2l-28 1l-6 -2l-4 -4l-3 -6l-2 -10l3 -14l-2 -5l-18 -17l-10 -2l-52 0l-14 3l-5 5l9 12l1 4l-2 10l0 10l3 14l0 14l-1 4l-7 10l-18 17l-24 7l-8 4l-13 10l-9 3l-10 1l-8 3l-8 5l-18 3l-12 0l-12 -7l-8 -3l-14 0l-6 -2l-10 -1l-13 -4l-3 -4l7 -10l1 -4l-1 -4l-9 -14l-6 -5l-12 -3l-42 0l-4 -2l-5 -6l-7 -18l-14 -7l-8 -6l-14 -3l-14 3l-18 0l-18 7l-9 6l-2 4l0 4l2 4l7 5l10 2l12 0l16 -5l14 -1l4 1l6 4l-2 6l-16 14l-10 16l-16 1l-7 5l-5 8l-2 0l-5 -8l-7 -5l-16 -1l-10 3l-8 11l-16 8l-4 1l-18 -1l-8 -3l-8 -6l-11 -11l-4 -8l0 -8l3 -8l12 -12l12 -7l3 -3l3 -6l8 -6l10 -11l4 -2l10 -1l14 -6l22 -1l7 -3l5 -4l10 -5l3 -3l2 -4l2 -10l0 -36l-1 -2l4 -6l6 -3l3 -3l3 -10l0 -10l2 -2l4 1l6 8l9 5l1 2l0 10l4 6l4 2l6 0l13 -12l12 -6l5 -1l16 11l9 12l17 17l8 4l4 0l12 -3l4 -4l3 -6l13 -12l1 -8l-1 -4l-4 -6l-1 -14l3 -4l10 -6l10 -4l8 -5l2 0l1 1l1 18l8 13l6 3l4 0l10 3l14 0l5 -3l4 -8l4 -14l0 -6l2 -8l-2 -6l-3 -3l-6 -3l-1 -2l1 -3l14 1l12 5l18 -1l4 -1l14 -8l6 -1l28 0l10 -3l5 -3l3 -6l0 -4l4 -1l26 -1l16 2l0 4l2 5l15 17l19 6l19 18l5 8l8 5l5 5l2 4l0 22l-1 2l1 10l10 16l12 14zM730 235l1 2l-1 10l-5 2l-6 0l-4 -2l2 -4l8 -8l2 -1zM407 312l6 0l4 2l20 3l16 8l4 4l1 8l-1 8l-12 16l4 10l1 6l-1 16l-5 6l-6 4l-15 7l-10 1l-4 -1l-3 -3l-7 -14l0 -6l2 -5l4 -5l15 -8l12 -4l5 -4l0 -2l-6 -6l-28 -11l-9 -9l-1 -2l1 -8l5 -6z"/><path fill="#ff2414" d="M0 1l1 -1l42 0l1 1l1 10l6 7l6 2l12 1l4 2l6 10l8 4l4 4l4 8l8 4l4 4l4 8l10 6l2 4l0 30l4 8l8 4l4 4l4 8l10 5l3 3l3 6l4 4l7 4l4 10l3 3l8 1l8 -2l6 0l5 2l7 9l6 4l18 2l12 5l16 -3l8 -4l8 -2l18 0l8 2l6 3l6 0l6 -3l8 -7l12 9l12 -4l16 1l10 4l4 4l8 14l8 5l10 0l11 -5l2 -10l3 -4l12 -1l4 2l14 15l0 46l-7 12l-5 16l-6 6l-12 6l-6 0l-12 -6l-14 -10l-8 -1l-8 2l-6 0l-14 -6l-6 0l-6 2l0 -4l4 -7l0 -10l-6 -13l-3 -3l-9 -5l-18 -4l-4 1l-8 5l-6 1l-9 4l-5 5l-4 7l-4 0l-6 -3l-6 0l-5 5l-9 20l-1 10l-5 3l-8 1l-6 4l-12 26l-8 10l-6 10l-6 4l-12 1l-4 -2l-6 -7l-5 -16l0 -14l6 -20l0 -36l2 -12l0 -36l1 -2l0 -8l-2 -5l-6 -8l-10 -6l-24 -5l-8 -4l-5 -6l-13 -24l-2 -8l0 -8l-2 -6l-10 -10l-5 -10l-9 -8l-8 -20l-5 -4l-23 -8l-26 -18l-12 -12l-8 -1zM443 20l12 -13l1 -6l81 -1l2 1l45 0l0 6l2 8l4 6l0 2l-5 2l-14 13l-4 2l-60 1l-20 -8l-12 0l-22 -4l-8 -4l-2 -2zM1170 153l-2 16l-3 6l-6 6l-14 6l-14 2l-18 0l-8 -4l-4 -6l-2 -8l0 -6l2 -8l-1 -8l-17 -17l-4 -2l-18 -2l-28 0l-2 1l-16 0l-8 2l-6 3l-2 3l6 7l4 7l-2 20l3 12l1 16l-3 8l-6 8l-13 13l-8 5l-10 2l-15 6l-13 10l-6 3l-16 2l-22 9l-24 1l-20 -9l-12 0l-26 -5l-4 -2l-2 -3l6 -10l0 -8l-12 -17l-8 -4l-6 -1l-44 -1l-7 -5l-5 -10l-1 -6l-5 -6l-8 -3l-9 -7l-7 -3l-6 -1l-10 0l-8 2l-16 -1l-26 11l-6 6l-1 4l3 10l2 2l6 2l20 1l6 -3l14 -4l14 0l7 4l0 4l-7 7l-10 7l-7 12l-5 4l-16 0l-5 2l-5 6l-2 0l-5 -6l-5 -2l-6 -1l-20 1l-7 4l-3 9l-4 4l-12 6l-14 1l-10 -2l-13 -8l-11 -11l-3 -7l0 -6l2 -8l15 -15l12 -4l4 -10l16 -16l4 -2l10 -1l16 -7l24 -2l12 -7l6 -1l5 -3l3 -10l1 -10l0 -36l3 -4l9 -4l3 -6l2 -11l14 7l1 10l2 4l3 3l6 2l8 -1l10 -10l16 -8l2 0l18 12l8 12l18 17l4 2l10 0l8 -2l5 -5l6 -10l10 -8l1 -8l-1 -4l-4 -6l-1 -14l2 -3l16 -9l10 -1l2 1l1 8l7 14l4 4l20 6l14 0l6 -4l6 -14l5 -22l0 -6l-2 -4l1 -3l12 3l8 0l18 -3l4 -3l12 -5l30 0l12 -4l4 -3l2 -4l0 -6l6 -1l18 0l4 -1l17 2l2 8l13 16l4 3l12 3l8 4l16 15l4 7l4 4l7 4l4 4l2 6l-1 30l10 17l14 17l5 8zM407 313l28 4l19 10l2 4l0 12l-2 4l-11 12l4 10l2 10l0 8l-2 7l-6 6l-20 9l-10 0l-5 -4l-6 -12l1 -8l6 -8l16 -9l11 -3l5 -4l0 -2l-6 -6l-28 -11l-9 -9l-2 -4l2 -6z"/><path fill="#f71e11" d="M1 1l6 -1l36 0l1 1l1 10l4 6l6 3l14 1l4 2l6 10l4 3l4 1l4 4l1 4l3 4l4 3l4 1l4 4l1 4l3 4l10 6l2 4l0 30l1 4l3 4l4 3l4 1l4 4l1 4l3 4l4 3l6 2l3 3l4 8l11 8l2 4l0 4l6 4l20 -2l5 2l6 8l7 5l20 3l12 6l20 -8l12 -3l14 0l16 5l6 0l6 -2l6 -6l2 0l10 9l4 0l4 -3l6 -2l18 1l8 4l3 3l7 14l4 4l6 2l10 0l12 -5l5 -11l3 -2l8 -1l4 2l9 9l3 6l0 42l-1 4l-4 6l-3 12l-4 8l-8 7l-8 4l-6 0l-12 -6l-12 -9l-6 -2l-18 2l-18 -10l-2 -4l0 -6l-3 -12l-8 -10l-5 -3l-14 -4l-10 0l-12 6l-8 2l-6 3l-8 10l-2 1l-8 -3l-8 1l-6 8l-9 19l-1 5l-2 2l-12 5l-5 6l-2 8l-8 16l-5 6l-7 12l-3 3l-8 3l-6 1l-6 -2l-3 -3l-4 -8l-3 -10l0 -20l5 -14l0 -32l3 -26l-1 -26l2 -10l-4 -10l-5 -6l-7 -4l-29 -7l-4 -2l-9 -11l-12 -24l-1 -14l-3 -6l-7 -6l-6 -11l-10 -10l-6 -17l-8 -7l-12 -3l-9 -4l-25 -17l-12 -12l-4 -2l-6 0zM445 21l10 -11l4 -2l22 0l4 -1l2 -2l1 -4l64 0l1 4l2 2l18 1l6 3l2 2l2 6l-1 6l-11 11l-4 2l-32 1l-2 1l-30 -1l-14 -7l-28 -2l-8 -2l-6 -3l-2 -2zM1169 151l0 12l-2 8l-6 8l-18 8l-24 2l-8 -1l-7 -5l-5 -12l2 -20l-2 -4l-14 -14l-6 -3l-14 -2l-38 0l-2 1l-10 0l-12 3l-4 3l0 3l10 13l0 6l-2 6l0 10l3 12l0 16l-5 9l-20 20l-22 7l-12 6l-9 8l-4 2l-21 3l-16 7l-28 1l-16 -8l-20 -1l-18 -3l-4 -2l-2 -3l5 -10l-1 -10l-10 -14l-4 -3l-10 -3l-48 -2l-6 -6l-3 -6l-1 -6l-6 -8l-12 -6l-4 -4l-6 -3l-10 -2l-20 2l-6 -1l-6 -3l-6 6l-22 9l-4 4l-3 6l-1 8l-2 2l-8 3l-3 3l0 2l-5 8l-6 3l-7 1l-2 2l4 8l-1 18l-3 4l-11 6l-8 1l-12 -1l-18 -10l-8 -8l-3 -6l1 -14l12 -13l6 -3l10 -1l3 -3l2 -12l14 -14l5 -2l12 -1l12 -7l22 -1l16 -7l12 3l2 -13l1 -46l3 -6l8 -3l16 0l8 4l10 1l4 -1l10 -10l16 -8l2 0l8 6l8 4l11 15l15 14l8 4l12 -1l6 -3l4 -4l1 -4l3 -4l10 -8l3 -6l-2 -10l-4 -10l0 -6l1 -3l8 -6l6 -3l8 0l4 2l9 18l7 6l14 3l4 2l16 0l5 -5l3 -6l4 -12l2 -12l3 -6l1 -6l2 -2l28 -3l18 -9l30 0l13 -4l7 -6l1 -8l5 -1l34 0l5 1l1 7l16 19l22 8l16 16l4 6l14 12l2 4l0 24l-1 2l1 8l6 10l16 20zM853 122l-10 0l-2 2l-1 7l1 7l2 2l11 -5l2 -8zM701 197l3 4l-7 8l-7 4l-4 4l-9 13l-8 -1l-2 -2l-3 -6l0 -16l1 -2l6 -4l10 -3l14 -1zM397 324l10 -9l20 1l8 2l17 9l2 4l0 12l-2 4l-11 10l-12 -7l-8 -2l-15 -7l-9 -9l-1 -3zM443 365l4 8l1 10l-1 8l-2 4l-6 5l-14 7l-14 0l-5 -4l-5 -12l5 -12l5 -4l14 -7l4 0l10 -4z"/><path fill="#f01a10" d="M1 1l40 -1l3 1l0 8l5 8l6 3l14 1l4 2l4 8l4 4l8 4l4 8l4 4l8 4l4 8l4 4l8 4l2 4l0 30l2 6l4 4l8 4l4 8l4 4l4 1l6 4l4 8l12 9l2 9l4 3l24 -1l4 2l9 11l5 2l12 1l12 4l3 3l0 4l-5 6l-6 4l4 2l6 0l4 -2l2 -4l1 -10l25 -10l22 0l10 4l8 1l7 -3l3 -3l4 -1l12 10l8 -6l6 -2l12 1l12 5l10 18l2 2l8 3l10 0l10 -3l7 -6l3 -6l6 -3l4 1l9 8l3 6l0 42l-9 26l-7 8l-10 6l-6 0l-28 -16l-18 1l-6 -2l-12 -9l-3 -6l-2 -12l-4 -8l-5 -5l-8 -4l-12 -3l-10 0l-10 6l-16 5l-10 10l-10 -3l-6 2l-6 6l-4 10l-5 6l-5 10l-10 5l-3 3l-4 8l-2 8l-7 14l-5 6l-7 12l-5 4l-7 2l-6 0l-4 -2l-6 -8l-4 -14l0 -16l6 -18l0 -34l2 -16l0 -24l-1 -2l2 -10l0 -10l-2 -4l-7 -9l-8 -4l-24 -5l-10 -5l-10 -15l-8 -16l-3 -20l-9 -8l-5 -10l-10 -10l-8 -20l-3 -3l-6 -3l-12 -3l-8 -4l-22 -15l-14 -14l-4 -2l-6 0zM447 21l6 -7l6 -3l26 0l4 -2l2 -4l0 -4l58 0l0 4l2 4l4 2l14 0l8 4l3 8l-9 11l-8 3l-60 1l-18 -8l-16 0l-16 -3l-6 -4zM1169 153l-1 14l-4 8l-5 5l-14 6l-12 2l-20 0l-6 -3l-4 -4l-3 -8l0 -10l2 -8l-1 -5l-19 -19l-5 -2l-8 -1l-48 0l-16 3l-4 2l-3 4l10 14l0 8l-2 10l3 12l0 20l-6 10l-18 18l-6 3l-20 6l-9 5l-6 6l-7 4l-16 1l-24 8l-22 1l-22 -9l-24 -1l-6 -1l-7 -3l-1 -4l4 -8l0 -6l-5 -10l-6 -8l-6 -4l-15 -3l-40 -1l-4 -2l-4 -5l-7 -17l-13 -7l-8 -7l-10 -3l-24 0l-6 -3l-4 -8l0 -46l1 -6l3 -6l8 -4l16 0l4 2l12 1l8 -4l8 -8l14 -7l2 0l16 10l9 12l19 18l4 2l16 -1l6 -3l5 -10l11 -9l3 -5l0 -8l-4 -10l0 -12l4 -4l7 -4l6 -1l6 3l10 16l7 6l5 2l8 1l10 4l8 0l4 -1l6 -6l11 -34l5 -8l4 -2l24 -3l10 -6l6 -2l28 0l6 -1l12 -5l4 -4l2 -9l4 -1l34 0l4 1l2 8l14 17l8 4l14 4l18 17l7 10l7 4l4 4l2 4l-1 32l8 14l16 20l5 8zM853 119l-10 0l-6 4l0 24l2 5l2 0l6 -9l8 -4l4 -6l0 -10zM657 159l2 4l-1 4l-7 4l-8 2l-8 4l-4 4l-6 12l-8 4l-4 4l-4 8l-8 4l-14 0l-3 2l0 2l9 6l4 8l0 12l-6 8l-8 3l-20 -1l-14 -8l-10 -11l-1 -13l4 -8l7 -7l6 -3l10 0l4 -2l2 -4l1 -12l12 -12l5 -2l10 0l10 -7l6 -2l16 0l18 -6zM701 198l2 3l-6 7l-6 3l-6 6l-6 9l-4 1l-4 -2l-4 -8l0 -12l3 -4l9 -4l6 -1l12 0zM398 327l2 -4l5 -5l4 -2l12 0l12 2l14 7l4 4l2 6l-1 8l-2 4l-5 5l-6 2l-10 -5l-6 -1l-12 -5l-11 -10zM441 366l5 9l0 16l-7 8l-12 6l-12 1l-6 -2l-6 -9l0 -8l4 -7l4 -4l10 -6z"/><path fill="#ea1810" d="M1 1l40 -1l3 1l0 8l5 8l6 3l14 1l4 2l4 8l4 4l8 4l4 8l4 4l8 4l4 8l4 4l8 4l2 6l0 28l2 6l4 4l8 4l4 8l4 4l6 2l4 4l3 6l5 5l8 5l1 8l2 4l9 1l8 -2l10 0l5 3l7 10l4 2l12 1l12 4l3 3l0 2l-3 5l-8 5l-1 4l3 2l12 0l4 -2l2 -4l0 -6l2 -6l16 -8l8 -2l18 0l18 6l16 -6l10 10l4 -1l8 -7l4 -1l14 1l6 2l6 6l8 16l2 2l6 2l16 -1l12 -5l10 -10l6 2l7 8l0 46l-5 18l-3 6l-9 9l-5 3l-5 1l-30 -16l-12 0l-2 1l-6 -1l-8 -5l-8 -8l-4 -16l-4 -8l-4 -4l-8 -4l-8 -2l-16 -1l-14 8l-6 1l-8 4l-8 7l-12 -2l-6 3l-5 6l-5 10l-8 11l-15 13l-3 6l-3 12l-17 29l-4 4l-10 3l-4 0l-4 -2l-4 -5l-3 -7l-3 -12l1 -16l5 -14l0 -30l1 -2l1 -28l1 -2l-1 -4l0 -18l2 -8l0 -4l-2 -5l-8 -12l-34 -8l-6 -3l-8 -10l-11 -20l-2 -8l0 -8l-2 -6l-10 -10l-5 -10l-10 -10l-6 -17l-5 -5l-23 -8l-26 -18l-10 -11l-8 -4l-4 0zM449 21l8 -7l30 -1l5 -4l1 -8l54 0l0 6l4 5l8 2l10 0l7 5l1 4l-2 4l-8 7l-12 0l-14 3l-36 0l-20 -8l-16 0l-14 -2l-6 -4zM1168 165l-3 8l-6 6l-12 6l-18 3l-14 0l-8 -3l-6 -10l-1 -4l0 -6l2 -8l-1 -8l-18 -18l-12 -3l-54 0l-10 2l-7 3l-3 4l11 14l0 6l-2 6l0 10l3 12l0 12l-6 13l-18 18l-6 3l-22 7l-8 5l-6 6l-8 4l-20 1l-12 5l-10 2l-20 0l-20 -8l-26 -1l-8 -3l-2 -2l0 -2l3 -8l0 -6l-5 -10l-8 -10l-6 -3l-10 -2l-24 0l-20 -2l-4 -2l-4 -5l-3 -6l-2 -8l-5 -5l-6 -2l-10 -8l-6 -3l-8 -2l-16 0l-8 -3l-5 -7l0 -50l2 -4l7 -5l32 1l8 -4l10 -9l14 -6l15 9l5 5l6 9l16 15l8 4l14 -1l5 -2l3 -3l4 -9l14 -14l0 -8l-3 -10l0 -12l9 -7l8 1l6 6l10 14l8 4l10 2l6 3l14 1l4 -2l4 -5l5 -11l4 -16l5 -11l5 -5l23 -4l6 -2l10 -6l6 -1l28 0l8 -2l6 -3l4 -4l2 -4l0 -6l6 -1l32 0l4 1l0 4l3 6l15 17l21 7l7 8l8 6l5 8l5 5l8 5l3 4l1 4l0 14l-2 12l1 6l6 10l20 26l4 8zM858 119l-3 -1l-14 0l-5 3l-2 8l1 22l4 5l2 0l10 -12l8 -5l3 -10l-1 -6zM656 163l-1 4l-4 3l-14 4l-10 9l-3 6l-11 8l-8 11l-4 2l-18 1l-2 2l-1 4l5 5l4 2l5 7l0 14l-6 6l-5 2l-16 0l-14 -7l-11 -9l-3 -6l0 -6l4 -10l10 -9l10 0l8 -2l2 -3l1 -14l2 -4l7 -7l4 -2l12 -1l16 -10l18 0l12 -4l6 0zM699 197l3 4l-2 4l-13 8l-8 10l-4 1l-5 -7l0 -14l6 -4l13 -3zM400 327l7 -8l4 -2l14 0l8 2l10 5l6 5l1 2l0 12l-9 9l-18 -5l-13 -6l-9 -10zM441 368l4 7l0 16l-1 2l-7 6l-10 5l-8 1l-10 -3l-4 -6l-1 -7l7 -12l12 -7l10 -2z"/><path fill="#e51710" d="M1 1l10 0l2 -1l28 0l3 1l1 12l6 6l20 3l10 13l8 4l4 8l4 4l8 4l4 8l4 4l8 4l2 6l0 30l2 4l4 4l8 4l4 8l4 4l8 4l5 8l12 10l2 6l-1 5l-2 1l-32 -7l-8 -5l-16 -27l-3 -11l0 -8l-3 -6l-8 -7l-6 -11l-10 -11l-6 -17l-4 -4l-10 -4l-6 -1l-24 -14l-7 -5l-15 -15l-10 -3zM453 19l6 -3l26 0l8 -5l3 -6l0 -4l48 0l0 4l5 8l6 3l12 0l7 5l0 4l-3 4l-6 3l-12 0l-14 4l-34 0l-18 -8l-16 0l-17 -3l-2 -2zM1168 161l-1 6l-4 8l-6 5l-6 3l-16 4l-24 0l-7 -6l-3 -8l-1 -6l2 -8l0 -8l-2 -4l-15 -15l-6 -3l-6 -1l-58 0l-12 3l-6 4l0 3l8 9l3 6l-3 14l3 14l0 18l-5 10l-18 18l-8 4l-14 4l-14 7l-8 8l-8 3l-14 -1l-10 2l-12 5l-24 1l-18 -8l-18 0l-10 -1l-6 -2l-2 -2l2 -16l-9 -16l-7 -6l-10 -3l-46 -2l-8 -5l-4 -7l-3 -9l-5 -5l-10 -5l-8 -7l-4 -2l-12 -2l-10 0l-4 -1l-6 -4l-3 -6l0 -46l2 -4l7 -5l30 0l8 -4l12 -10l8 -4l6 0l14 8l11 15l17 15l8 3l12 -1l7 -3l4 -10l3 -4l6 -4l6 -7l1 -9l-2 -10l0 -12l4 -4l5 -2l4 1l18 20l6 3l10 2l12 5l10 0l7 -5l6 -12l5 -18l8 -14l12 -4l14 -2l18 -8l30 0l14 -5l6 -7l1 -8l5 -1l32 0l4 1l1 8l15 18l6 3l10 2l8 4l16 16l4 7l13 10l2 4l-1 32l8 14l21 28l2 6zM857 117l-14 -1l-4 1l-6 4l-1 4l0 24l2 6l3 3l6 0l8 -11l8 -5l4 -5l1 -4l-1 -12zM653 164l0 3l-3 2l-11 3l-8 4l-5 5l-5 8l-11 8l-5 8l-6 3l-20 0l-2 1l-1 4l2 6l11 8l3 6l0 12l-3 4l-6 3l-14 0l-20 -10l-7 -7l-2 -6l1 -6l2 -5l6 -7l6 -3l18 0l2 -1l1 -2l0 -18l2 -4l5 -5l4 -2l14 -1l9 -8l7 -3l18 0l10 -3l4 0zM175 167l18 -3l8 0l6 5l6 8l8 3l12 1l8 4l1 4l-3 4l-7 4l-2 4l1 4l2 2l4 1l8 0l6 -2l4 -5l2 -14l12 -7l10 -3l18 0l16 6l6 0l8 -4l4 0l9 10l3 1l4 -3l2 -4l6 -4l6 -1l14 3l8 8l7 16l5 3l14 0l10 -2l10 -4l8 -8l4 0l4 3l3 6l0 44l-5 19l-2 4l-9 9l-7 4l-2 0l-30 -16l-18 0l-5 -2l-12 -12l-2 -4l-2 -12l-4 -8l-3 -3l-8 -4l-8 -2l-16 -1l-12 7l-14 4l-12 8l-6 -1l-10 1l-7 7l-4 8l-13 16l-12 10l-3 6l-3 14l-16 28l-8 6l-12 1l-5 -5l-6 -16l0 -18l6 -16l0 -36l2 -18l-1 -26l2 -8l0 -10l-6 -11zM700 199l1 2l-2 4l-4 3l-6 2l-10 11l-3 0l-4 -6l0 -10l3 -4l6 -3l6 -1l10 0zM402 327l5 -6l6 -3l18 1l10 5l6 5l1 2l-1 13l-6 6l-4 0l-4 -2l-14 -3l-7 -4l-9 -10zM439 369l5 8l0 12l-3 6l-12 7l-8 2l-6 -1l-6 -3l-4 -7l0 -4l6 -10l7 -6l7 -3z"/><path fill="#df1510" d="M1 1l40 -1l2 1l1 10l5 7l4 2l18 2l3 3l4 8l9 5l3 3l4 8l9 5l3 3l4 8l9 5l3 3l0 28l1 6l3 6l9 5l3 3l4 8l11 6l6 10l11 8l1 2l-1 8l-3 1l-6 -2l-10 -1l-19 -6l-8 -10l-12 -22l-3 -20l-10 -10l-6 -11l-8 -7l-8 -20l-4 -4l-6 -3l-12 -3l-20 -12l-11 -8l-13 -14l-4 -2l-6 0zM455 21l4 -3l26 0l3 -1l9 -9l1 -7l44 0l1 7l6 7l6 3l13 1l4 4l-1 3l-6 4l-12 0l-10 4l-6 1l-32 0l-14 -7l-8 -2l-25 -1l-3 -2zM1168 155l-2 14l-2 4l-5 5l-12 6l-8 2l-26 1l-7 -4l-4 -8l-1 -12l2 -10l-2 -5l-18 -18l-18 -3l-38 0l-2 1l-12 0l-8 2l-6 3l-3 4l11 14l-2 20l3 12l0 12l-2 8l-4 6l-16 16l-7 4l-18 6l-10 5l-10 9l-6 3l-18 -1l-10 2l-12 5l-22 1l-18 -8l-26 -1l-8 -3l-1 -2l2 -6l0 -8l-9 -16l-8 -7l-18 -3l-24 0l-16 -2l-7 -6l-7 -16l-5 -4l-7 -3l-10 -9l-6 -2l-18 -2l-8 -3l-3 -3l-2 -6l0 -42l1 -4l4 -4l34 -3l6 -3l13 -10l9 -4l4 0l14 8l7 10l17 17l10 5l18 -1l6 -5l3 -10l8 -6l6 -8l0 -28l2 -4l3 -2l4 0l8 9l14 12l12 3l12 6l12 0l4 -2l5 -6l4 -8l7 -22l3 -6l5 -6l8 -3l18 -3l14 -7l30 0l14 -4l6 -5l3 -6l0 -6l5 -1l30 0l5 1l1 7l16 19l8 4l10 2l4 2l17 16l7 10l11 8l2 4l0 20l-1 2l1 14l25 34zM861 117l-6 -2l-14 0l-6 2l-5 6l0 28l1 4l6 6l6 0l4 -3l4 -7l4 -4l7 -4l3 -4l1 -16zM176 169l2 -2l15 -3l6 0l4 1l10 12l6 3l12 1l9 4l1 2l-2 4l-6 4l-5 6l1 4l6 5l16 -1l6 -6l2 -16l9 -6l13 -4l14 0l8 2l10 5l6 0l10 -3l5 4l3 5l6 3l4 -3l2 -5l4 -4l6 -2l10 1l6 2l4 3l6 11l3 9l4 4l15 0l12 -2l12 -4l8 -7l3 1l4 6l0 44l-4 18l-13 14l-4 2l-3 0l-11 -6l-2 0l-16 -9l-18 0l-9 -9l-5 -3l-4 -7l-1 -10l-2 -6l-4 -6l-11 -5l-14 -2l-10 0l-16 9l-13 4l-9 6l-12 -2l-6 3l-5 5l-7 12l-24 24l-7 24l-14 24l-3 3l-6 3l-8 1l-7 -5l-6 -18l0 -14l2 -8l4 -8l1 -6l1 -80l2 -8l-1 -8zM406 249l3 3l4 -1l1 -2l-1 -2l-4 -1zM650 165l0 2l-3 2l-10 2l-11 6l-5 8l-4 4l-7 4l-9 12l-16 1l-3 -1l-3 -3l-1 -15l5 -7l4 -2l16 -1l12 -11l6 -1l8 1l18 -3zM699 199l1 4l-5 4l-10 4l-6 8l-4 -3l-1 -11l3 -4l4 -2l14 -2zM547 215l8 -5l15 1l4 4l0 2l4 6l7 4l4 4l1 4l-1 11l-4 4l-14 1l-22 -10l-7 -8l0 -8zM405 325l6 -5l10 -2l8 1l10 5l6 5l1 12l-5 7l-16 -2l-10 -4l-11 -13zM439 371l2 2l2 6l0 10l-4 6l-14 7l-8 0l-8 -4l-3 -7l6 -12l4 -4l7 -4l10 -1z"/><path fill="#d91310" d="M1 1l40 -1l2 1l1 10l5 7l8 3l14 1l3 3l4 8l9 5l3 3l4 8l9 5l3 3l4 8l9 5l3 3l0 30l4 10l9 5l3 3l4 8l11 6l6 10l11 8l1 2l-1 6l-3 2l-8 -2l-6 0l-14 -3l-8 -4l-3 -3l-15 -26l-2 -8l0 -8l-3 -8l-9 -8l-5 -10l-10 -10l-8 -20l-9 -5l-15 -5l-25 -16l-14 -15l-6 -4l-6 -1zM462 23l7 -2l16 0l4 -2l10 -10l2 -8l38 0l2 8l10 10l4 2l10 0l3 2l0 2l-3 2l-10 0l-8 4l-12 3l-28 0l-9 -3l-13 -7zM1167 163l-2 8l-3 4l-9 6l-8 3l-16 3l-14 0l-6 -2l-5 -6l-3 -10l2 -12l-2 -10l-16 -16l-8 -3l-10 -1l-46 0l-14 2l-8 3l-3 3l0 4l8 8l3 6l-3 14l3 14l0 16l-1 4l-5 8l-14 14l-6 4l-30 12l-8 8l-6 4l-24 -1l-6 1l-14 6l-18 1l-22 -9l-28 -1l-3 -3l1 -14l-10 -18l-5 -4l-15 -4l-22 0l-24 -3l-4 -2l-4 -5l-6 -14l-4 -4l-9 -4l-7 -7l-6 -3l-16 -2l-10 -4l-5 -8l0 -38l1 -6l4 -4l16 -1l6 -2l10 -1l21 -14l7 -3l4 0l13 7l9 12l18 17l8 4l20 -1l3 -2l5 -14l8 -6l6 -8l2 -29l2 -3l4 1l6 8l20 12l11 3l11 6l10 0l10 -10l10 -27l4 -8l6 -7l10 -3l10 -1l16 -8l28 0l14 -3l8 -4l4 -5l2 -10l6 -1l28 0l5 1l1 8l16 19l10 4l10 2l20 19l2 4l6 6l4 2l6 6l1 18l-2 16l5 10l24 32l2 4zM857 114l-18 0l-8 4l-3 3l-1 4l0 24l3 10l5 4l6 1l6 -2l3 -3l4 -8l9 -5l5 -7l1 -6l-1 -12l-3 -3zM177 169l12 -4l10 -1l6 3l8 11l6 2l10 1l8 3l2 2l0 3l-8 6l-4 6l3 8l3 3l16 0l6 -2l4 -5l2 -18l6 -5l6 -3l10 -2l16 1l16 7l14 -2l8 11l6 2l5 -3l4 -10l5 -3l8 0l8 2l6 5l7 14l1 6l4 4l28 -3l12 -3l8 -6l4 4l1 10l0 28l-3 22l-16 16l-3 0l-7 -4l-8 -2l-14 -8l-16 0l-5 -4l-5 -7l-7 -5l-4 -20l-5 -7l-12 -4l-22 -2l-16 10l-12 3l-12 6l-12 -1l-6 3l-6 6l-8 12l-24 24l-2 6l-1 10l-7 15l-10 17l-6 5l-8 2l-4 -1l-4 -4l-4 -8l-2 -8l0 -20l6 -14l0 -36l2 -20l-1 -24l2 -8l0 -10zM404 251l7 3l4 -1l3 -4l-3 -3l-6 -1l-4 2zM635 169l-10 5l-3 3l-4 8l-9 5l-3 3l-5 9l-2 1l-14 0l-3 -2l-1 -2l0 -12l2 -4l4 -2l16 -1l4 -2l8 -10l12 -1zM699 200l0 3l-2 2l-12 4l-6 6l-2 -2l0 -10l4 -3l8 -2l8 0zM547 218l4 -4l6 -2l12 2l5 9l3 3l9 5l1 2l0 12l-1 2l-5 2l-12 0l-10 -6l-8 -2l-5 -4l-3 -6l0 -4zM406 327l6 -6l7 -2l6 0l7 2l7 4l4 5l1 3l-1 10l-4 3l-18 -2l-10 -7l-3 -4zM437 372l2 1l2 4l1 6l-1 8l-4 4l-12 6l-6 0l-5 -2l-5 -4l-1 -6l4 -8l5 -6l10 -4z"/><path fill="#d31110" d="M1 1l40 -1l2 1l1 10l5 7l8 3l14 1l3 3l3 7l3 3l7 3l3 3l3 7l3 3l7 3l9 13l9 5l1 3l0 28l3 9l3 3l7 3l9 13l11 6l4 8l10 8l1 2l-1 6l-2 1l-12 -1l-18 -4l-4 -2l-7 -8l-11 -19l-3 -7l-1 -14l-2 -5l-8 -7l-8 -14l-10 -10l-5 -16l-5 -5l-16 -5l-28 -17l-16 -17l-4 -3l-8 -3zM489 23l14 -16l1 -6l32 0l1 6l15 16l0 2l-5 4l-8 3l-6 1l-26 0l-14 -6zM1166 167l-3 6l-4 4l-12 6l-8 2l-26 1l-3 -1l-4 -4l-4 -8l-1 -6l2 -8l0 -8l-2 -4l-16 -16l-6 -3l-8 -1l-54 0l-14 3l-6 3l-2 2l0 2l2 4l4 3l5 7l0 6l-2 8l0 6l3 12l-1 16l-6 10l-12 12l-21 11l-14 5l-12 11l-6 3l-6 0l-8 -2l-14 0l-12 6l-10 2l-10 0l-22 -10l-26 -1l-2 -3l1 -6l-1 -4l-10 -19l-5 -5l-7 -3l-6 -1l-20 0l-28 -3l-8 -5l-7 -16l-3 -3l-12 -6l-8 -8l-4 -2l-18 -2l-6 -3l-4 -4l-1 -4l1 -40l2 -4l4 -2l8 0l22 -6l12 -9l14 -7l4 0l12 6l11 14l11 11l14 9l8 1l12 -1l4 -2l2 -4l2 -11l13 -11l2 -6l1 -12l4 -9l2 0l4 3l6 1l14 8l12 3l12 8l10 0l6 -5l5 -7l11 -29l5 -9l5 -4l20 -4l18 -8l30 0l8 -2l6 -3l5 -5l3 -6l0 -6l6 -1l28 0l4 1l0 4l3 6l15 17l6 3l15 4l17 16l8 11l10 7l3 10l-2 18l1 11l5 9l20 26l5 10zM865 116l-8 -3l-18 0l-10 4l-4 4l-1 4l0 26l1 6l4 7l6 3l10 0l7 -4l5 -10l11 -6l4 -12l0 -10l-3 -6zM179 169l4 -2l16 -3l4 2l10 12l8 3l10 1l6 3l1 2l-1 2l-11 10l0 6l5 8l4 2l14 0l8 -2l4 -6l1 -20l7 -6l8 -3l22 0l6 2l12 7l10 -1l5 9l7 4l6 0l4 -2l2 -10l4 -5l6 -2l12 3l5 4l6 12l2 12l3 2l6 0l6 -2l12 -1l26 -5l2 6l0 34l-2 16l-2 3l-8 4l-5 7l-3 0l-4 -2l-6 0l-18 -9l-14 -1l-4 -3l-4 -8l-6 -2l-4 -4l-3 -21l-3 -5l-10 -4l-28 -2l-4 2l-6 6l-10 5l-6 1l-14 6l-12 -2l-8 5l-10 13l-28 29l-2 16l-6 13l-11 19l-7 5l-8 1l-6 -4l-6 -16l0 -18l7 -18l1 -82l2 -6l0 -8l-4 -8zM402 249l1 3l4 3l12 -1l3 -3l-2 -4l-7 -3l-7 1zM620 171l-4 10l-3 3l-6 2l-4 4l-4 9l-2 1l-10 0l-2 -1l-1 -2l0 -10l3 -3l20 -1l7 -6l3 -6zM698 201l-3 4l-14 2l-1 -4l8 -4l7 -1zM547 221l8 -6l8 0l6 4l3 8l11 6l1 2l-1 10l-4 2l-6 0l-4 -1l-8 -5l-6 0l-6 -3l-5 -7zM408 327l3 -4l6 -3l10 0l6 2l8 7l1 4l-1 8l-4 3l-16 -1l-10 -8zM435 373l4 3l1 3l0 10l-2 4l-13 7l-4 0l-8 -3l-4 -6l7 -14l9 -5z"/><path fill="#cd0f0f" d="M6 1l35 -1l2 1l1 10l5 7l6 3l8 0l9 2l2 2l2 6l5 5l6 2l3 3l2 6l5 5l6 2l3 3l2 6l5 5l4 1l4 3l1 3l0 30l2 6l5 5l6 2l3 3l2 6l5 5l8 3l3 4l1 4l12 10l1 2l-1 5l-1 1l-17 -1l-12 -3l-8 -4l-13 -20l-5 -10l-3 -20l-11 -11l-3 -7l-11 -12l-8 -20l-8 -5l-18 -6l-20 -13l-24 -24zM1166 165l-2 6l-6 6l-13 6l-14 3l-18 0l-6 -4l-5 -11l1 -20l-2 -5l-15 -15l-7 -3l-6 -1l-58 0l-10 2l-9 4l-2 4l9 10l3 6l-3 14l3 14l0 14l-1 4l-6 10l-14 13l-33 15l-15 13l-10 0l-6 -2l-14 -1l-4 1l-12 7l-12 1l-8 -1l-11 -6l-3 -4l0 -4l4 -6l6 -3l7 -1l2 -2l-6 -12l-13 -5l-1 9l-5 8l-6 3l-16 0l-6 -5l-8 -16l-6 -4l-8 -2l-34 -1l-20 -3l-7 -6l-6 -14l-3 -3l-10 -5l-10 -10l-6 -2l-16 -2l-8 -6l-1 -2l0 -26l3 -15l3 -3l30 -10l13 -9l12 -6l4 0l12 6l14 17l14 12l8 5l12 3l3 6l0 28l2 8l11 6l3 6l1 18l2 2l6 1l12 0l10 4l1 -9l3 -6l11 -6l2 -8l0 -26l3 -8l11 -6l2 -8l-1 -11l-12 4l-10 -6l-6 -2l-22 0l-14 6l-2 -3l0 -10l2 -3l6 -3l6 -6l4 -18l4 -3l10 0l12 6l12 3l6 3l5 5l2 4l-1 15l2 0l10 -5l1 -10l11 -17l7 -19l8 -16l5 -5l18 -4l18 -8l30 0l12 -3l4 -2l6 -6l2 -4l1 -8l5 -1l28 0l4 1l1 8l15 18l4 3l14 3l6 3l8 9l8 6l4 7l5 5l9 6l2 4l0 20l-2 8l1 6l4 8l24 32l2 4zM492 23l1 -3l10 -10l4 -2l26 0l4 2l12 13l-2 4l-8 4l-10 1l-26 -1l-8 -4zM312 185l3 4l0 22l-2 4l-10 9l-26 9l-10 -3l-4 0l-14 14l-4 6l-25 25l-3 6l-1 14l-17 32l-8 5l-4 1l-4 -1l-4 -4l-5 -13l-1 -6l1 -16l6 -14l0 -34l1 -2l0 -20l1 -2l-1 -22l3 -14l-1 -6l-3 -6l0 -4l11 -4l10 0l5 4l5 8l8 4l6 0l8 2l3 2l-1 4l-10 10l1 10l7 11l12 -3l8 0l6 2l2 -2l1 -4l1 -26l4 -4l8 -4l4 -1l18 0l9 3zM355 183l4 -2l4 0l11 4l3 3l6 11l0 12l-1 2l3 2l8 0l12 -4l16 -2l12 0l4 2l2 4l0 20l-2 8l-8 5l-12 -4l-8 -1l-5 2l-3 4l0 3l4 4l16 2l3 5l-1 4l-6 4l-8 0l-18 -9l-8 -1l-5 -4l-3 -8l-8 -3l-3 -3l-2 -4l-1 -12l5 -12l-2 -2l-4 -10l-6 -6l-1 -10zM685 203l1 -2l5 -2l4 0l2 2l-2 3zM551 219l8 -1l6 3l3 10l-3 7l-12 1l-6 -4l-1 -8zM413 323l8 -3l8 1l6 3l5 7l-3 10l-6 2l-6 0l-6 -2l-8 -8l-2 -4zM436 375l2 2l0 12l-2 4l-13 6l-10 -4l-2 -4l5 -12l5 -5l10 -1z"/><path fill="#c90f0f" d="M9 1l32 -1l2 1l0 8l4 8l8 4l14 1l4 2l3 7l5 5l7 3l4 8l5 5l7 3l3 4l1 4l5 5l7 3l2 4l0 30l2 6l5 5l7 3l3 4l1 4l5 5l6 2l4 4l3 7l11 8l1 2l-1 4l-2 2l-14 -1l-14 -3l-6 -3l-6 -7l-14 -24l-2 -18l-2 -4l-9 -8l-7 -13l-8 -7l-8 -20l-5 -4l-22 -8l-3 -3l-18 -11l-19 -20zM1136 71l1 18l-2 16l6 12l16 20l9 16l-1 14l-3 6l-3 3l-12 6l-22 4l-12 -1l-6 -4l-4 -8l-1 -8l2 -12l-2 -6l-17 -17l-4 -2l-18 -2l-50 1l-12 3l-7 5l0 4l11 12l-2 20l3 12l0 8l-1 6l-5 10l-15 14l-36 17l-10 10l-4 2l-4 0l-14 -4l-14 0l-7 5l-7 3l-16 0l-6 -2l-6 -5l0 -4l2 -4l8 -4l12 0l5 -2l0 -2l-9 -6l-6 -10l-10 -6l-3 -6l0 -6l3 -6l10 -6l2 -4l0 -30l4 -8l10 -6l2 -4l0 -14l4 -8l8 -6l2 -8l0 -6l12 -22l3 -10l9 -18l4 -4l8 -3l12 -2l14 -7l40 -2l6 -2l7 -6l4 -8l0 -6l31 -1l5 1l0 4l3 6l16 18l4 2l14 3l5 3l16 16l5 8l8 5zM494 23l2 -4l5 -5l6 -3l26 0l6 3l5 5l2 6l-9 5l-32 0l-6 -2zM822 105l5 -5l2 0l4 -3l4 -8l0 -4l3 -8l5 -3l6 -1l7 2l5 3l12 3l8 4l4 6l-1 10l-3 9l-2 3l-6 3l-22 -6l-16 1l-12 4l-2 -1l-1 -3zM687 111l18 -10l6 -1l10 -5l8 -6l12 -6l4 0l12 6l22 24l12 9l10 5l4 8l0 30l2 4l10 6l4 8l0 16l4 4l16 0l8 4l3 6l0 6l-3 6l-8 4l-12 0l-6 -4l-7 -16l-3 -2l-18 -3l-34 -1l-12 -2l-6 -3l-10 -19l-14 -8l-7 -8l-9 -3l-12 -1l-6 -3l-3 -3l-1 -20l2 -14zM201 165l5 4l3 6l4 4l18 4l4 4l-10 10l-2 4l1 6l5 12l1 12l3 1l3 -3l0 -2l3 -4l6 -3l9 1l3 2l3 6l-2 4l-12 12l-4 6l-23 23l-3 7l-2 16l-10 18l-4 10l-7 6l-8 1l-5 -3l-6 -16l0 -18l7 -18l1 -80l2 -8l0 -8l-3 -8l0 -4l12 -4zM307 182l4 3l2 4l0 24l-4 6l-12 7l-20 6l-9 -3l-3 -3l-2 -7l1 -32l5 -5l10 -4l18 0zM357 183l2 -1l8 1l6 3l6 7l3 8l0 4l-3 6l-6 1l-6 -3l-5 -10l-5 -4l-3 -8zM691 202l2 -2l2 1l-2 2zM429 210l6 3l2 6l0 12l-4 10l-6 3l-18 -2l-6 3l-4 4l0 4l2 3l6 2l6 0l6 4l0 4l-6 4l-4 0l-10 -6l-16 -7l-4 -8l-4 -4l-8 -4l-3 -6l0 -6l3 -6l10 -5l14 -1l14 -5zM555 220l6 3l3 6l0 4l-7 5l-6 -1l-4 -4l0 -4l2 -5l3 -3zM412 325l5 -3l10 -1l10 6l1 2l-1 8l-8 5l-8 -1l-10 -10zM423 374l8 0l4 3l2 4l-2 10l-8 6l-6 0l-5 -2l-3 -4l4 -12z"/><path fill="#c40f0f" d="M10 1l9 0l2 -1l20 0l2 1l1 12l5 6l6 2l16 2l4 5l2 5l10 6l6 10l10 6l4 5l2 5l12 8l1 2l0 30l3 8l10 6l8 12l8 3l4 4l3 7l11 9l0 3l-2 3l-18 -1l-12 -3l-7 -5l-5 -10l-10 -15l-3 -9l-1 -13l-12 -13l-5 -10l-10 -10l-5 -16l-6 -6l-22 -8l-24 -16l-6 -8l-10 -10zM1134 69l3 8l-1 18l-2 8l1 4l4 8l14 17l12 19l0 14l-2 6l-4 4l-14 7l-14 3l-18 0l-7 -6l-3 -8l1 -20l-3 -6l-14 -14l-6 -3l-14 -2l-44 0l-20 3l-8 4l-2 2l0 2l2 4l7 6l3 6l-2 10l0 10l2 6l0 14l-3 10l-13 14l-4 3l-10 3l-13 8l-13 6l-10 10l-4 2l-30 -6l-4 1l-6 6l-6 3l-16 0l-8 -4l-2 -4l4 -5l10 -3l12 0l3 -4l-2 -4l-6 -4l-8 -10l-12 -10l-2 -6l2 -4l9 -7l4 -5l1 -32l2 -4l11 -8l2 -4l1 -16l2 -4l7 -6l3 -6l0 -12l11 -20l3 -10l12 -22l5 -3l20 -5l12 -6l32 0l13 -4l8 -8l3 -6l0 -6l30 -1l5 1l1 8l16 19l8 4l8 1l8 4l7 8l9 7l4 7l4 4zM497 21l8 -7l22 -1l10 2l7 8l-3 4l-6 2l-30 0l-5 -2l-3 -3zM823 105l12 -9l4 -15l2 -3l4 -2l10 -1l6 3l17 5l7 6l-1 12l-4 8l-5 4l-6 0l-4 -2l-10 -2l-16 0l-10 3l-4 0l-2 -2zM688 115l16 -12l7 -2l10 -5l8 -6l10 -5l6 -1l12 6l22 24l10 7l11 10l2 4l1 8l0 24l4 5l9 7l2 4l1 12l-2 10l-52 -2l-16 -3l-6 -3l-2 -2l-6 -14l-4 -4l-10 -5l-8 -9l-6 -3l-16 -2l-7 -5l-2 -4l0 -14l2 -12zM201 165l3 2l9 12l20 6l0 3l-8 7l-3 6l0 4l4 12l2 16l3 3l5 -1l4 -8l5 -4l8 1l3 3l1 4l-39 42l-3 8l-2 16l-10 18l-4 10l-4 4l-10 3l-6 -5l-5 -16l0 -14l3 -10l4 -8l1 -80l3 -12l-3 -16l1 -2l6 -3zM305 181l5 4l2 4l0 22l-2 6l-4 4l-7 4l-16 5l-6 1l-8 -3l-2 -2l-3 -9l1 -30l1 -2l5 -4l10 -3l14 0zM359 183l4 0l5 2l9 8l3 6l0 6l-3 4l-6 -1l-3 -3l-4 -8l-7 -6l-1 -4zM819 207l10 -2l12 1l7 5l2 4l-1 4l-4 5l-4 2l-8 1l-6 -1l-5 -5l-3 -6zM431 213l3 4l0 16l-2 4l-7 5l-14 -1l-7 2l-5 4l-2 4l0 4l-2 3l-4 0l-4 -2l-7 -9l-8 -6l-5 -6l1 -8l3 -3l8 -4l10 -1l16 -6l20 -2zM548 229l5 -6l2 0l5 4l1 6l-4 3l-4 0l-4 -3zM399 261l2 -2l8 0l4 1l3 3l0 2l-3 3l-6 0l-5 -3zM412 327l7 -5l8 0l6 3l4 6l-1 4l-4 4l-7 2l-5 -2l-5 -4l-2 -3zM429 375l4 2l1 2l0 10l-6 6l-7 1l-5 -3l-1 -2l2 -8l4 -7z"/><path fill="#bf0e0e" d="M11 1l30 -1l2 1l1 12l5 6l4 2l18 2l6 10l10 6l6 10l10 6l6 10l12 8l1 2l0 32l3 6l10 6l8 12l9 4l6 10l10 8l1 4l-4 3l-6 0l-18 -3l-8 -4l-5 -6l-15 -26l-1 -16l-2 -4l-11 -10l-4 -9l-9 -9l-8 -20l-3 -3l-6 -3l-16 -5l-23 -15l-16 -18zM1135 71l1 2l0 20l-2 6l0 6l6 12l16 20l9 16l0 10l-2 7l-6 6l-10 5l-12 3l-20 1l-5 -2l-2 -2l-5 -12l1 -8l-1 -13l-16 -17l-8 -4l-8 -1l-54 0l-12 2l-10 4l-2 3l0 4l11 12l0 8l-2 6l0 6l3 12l-1 12l-5 11l-10 10l-6 4l-10 2l-4 2l-9 7l-11 5l-11 11l-3 1l-6 0l-10 -4l-4 0l-10 -3l-8 0l-2 6l-8 5l-12 0l-6 -2l-3 -3l0 -2l7 -5l18 0l4 -2l-1 -7l-27 -26l-2 -6l2 -4l11 -10l2 -4l0 -28l3 -6l8 -5l4 -5l1 -16l3 -6l6 -6l2 -4l1 -16l10 -18l2 -8l10 -20l5 -5l4 -2l14 -3l16 -7l30 0l12 -3l6 -3l7 -9l1 -10l30 -1l4 1l3 10l17 19l16 4l6 3l16 16l4 6zM499 23l2 -4l6 -3l26 0l8 5l0 3l-6 4l-28 0l-6 -2zM824 105l3 -3l2 0l6 -4l6 -17l2 -2l8 -3l8 1l6 3l12 3l6 5l1 3l-2 10l-5 8l-4 2l-16 -3l-20 0l-6 2l-6 0zM688 119l5 -6l10 -8l18 -8l10 -7l12 -5l14 6l20 22l13 10l9 11l1 3l0 28l2 4l13 13l1 3l0 14l-3 4l-4 1l-22 0l-2 -1l-24 -1l-16 -4l-5 -5l-5 -12l-4 -4l-11 -6l-9 -10l-18 -3l-8 -5l-2 -6l1 -16zM199 165l6 4l6 9l8 4l8 1l4 2l1 2l-11 12l0 8l3 10l0 12l2 6l5 4l8 0l3 -10l5 -4l4 1l3 3l0 2l-5 7l-8 3l-4 10l-13 12l-6 8l-4 12l0 6l-2 8l-10 18l-4 10l-4 4l-5 2l-6 0l-4 -5l-5 -17l1 -16l7 -14l1 -82l2 -8l0 -10l-3 -8l5 -4zM299 179l8 4l4 6l0 24l-2 4l-7 6l-7 3l-10 2l-4 2l-10 -2l-3 -3l-3 -8l0 -28l2 -4l10 -6l8 -1zM359 185l2 -1l4 1l4 6l4 1l5 5l1 4l-2 4l-4 1l-3 -3l-3 -10l-8 -3l-1 -3zM821 211l4 -3l14 0l3 1l4 4l1 4l-5 6l-15 1l-6 -7zM432 219l0 12l-3 6l-6 3l-16 1l-5 2l-6 6l0 2l-5 4l-4 -2l-16 -16l-2 -4l2 -6l8 -5l14 -3l12 -5l18 -2l6 2zM550 229l3 -3l2 0l3 3l-1 4l-4 1l-2 -1zM404 263l1 -2l4 0l4 2l0 2l-4 2l-4 -2zM413 329l2 -4l6 -3l8 1l5 4l1 6l-4 5l-8 1l-4 -2zM429 376l3 3l0 10l-3 4l-6 2l-4 -2l-1 -2l1 -10l4 -5z"/><path fill="#ba0e0e" d="M13 1l28 -1l2 5l0 6l4 7l6 3l18 2l6 10l10 6l6 10l10 6l6 10l12 8l1 4l0 30l3 6l10 6l8 12l11 6l5 10l9 6l0 4l-2 2l-15 0l-12 -3l-8 -5l-5 -10l-9 -12l-3 -6l-2 -18l-2 -4l-9 -8l-6 -12l-9 -8l-7 -19l-5 -5l-22 -8l-11 -8l-8 -4l-18 -20l-2 -4zM1133 69l3 6l0 14l-2 8l0 10l8 14l11 12l11 18l0 16l-2 4l-8 6l-9 4l-14 3l-18 0l-6 -5l-4 -10l2 -16l-3 -8l-15 -15l-6 -3l-8 -1l-58 0l-12 2l-7 3l-4 4l1 5l10 10l1 3l-2 10l0 10l2 6l0 14l-5 12l-14 13l-14 3l-4 2l-6 6l-12 6l-12 12l-8 0l-6 -3l-14 -3l-8 -4l-6 -8l-25 -24l-2 -6l2 -4l9 -8l3 -6l0 -26l1 -4l14 -12l1 -16l1 -4l5 -6l4 -8l1 -16l9 -16l2 -8l11 -22l4 -4l20 -6l16 -7l32 0l8 -2l4 -2l7 -7l4 -8l0 -6l29 -1l4 1l1 8l8 8l9 12l6 3l12 2l4 2l18 17l7 10zM502 21l5 -3l26 0l4 2l2 3l-4 3l-30 0l-2 -1zM826 107l1 -3l8 -4l3 -5l1 -8l6 -8l10 -2l14 4l10 4l4 6l-4 12l-8 6l-10 -2l-28 0l-2 1zM689 121l6 -7l12 -10l6 -2l15 -9l13 -6l6 0l10 5l17 19l13 10l10 14l1 4l0 26l3 6l12 12l1 14l-2 4l-5 2l-34 0l-20 -3l-10 -4l-8 -16l-6 -5l-2 0l-6 -4l-10 -11l-16 -2l-9 -5l-1 -2l0 -18zM199 165l6 4l3 6l5 5l17 5l-1 4l-9 10l0 10l2 8l0 14l1 4l6 6l4 1l3 3l0 4l-11 9l-6 9l-4 8l-3 20l-15 30l-4 4l-8 2l-5 -4l-5 -14l0 -18l8 -20l0 -76l3 -12l0 -6l-3 -10l8 -5zM305 182l5 5l0 26l-2 4l-5 5l-6 3l-16 4l-6 0l-6 -4l-3 -8l0 -28l1 -3l4 -4l8 -3l18 0zM373 197l2 0l2 4l-2 2l-3 -2zM823 213l4 -3l10 0l4 1l2 2l1 4l-3 4l-12 1l-5 -3zM429 217l1 2l0 10l-1 4l-4 4l-4 2l-14 1l-8 4l-8 8l-4 -2l-13 -13l-2 -4l1 -4l4 -4l10 -4l10 -2l8 -4l20 -1zM249 228l2 2l0 3l-2 2l-4 1l-1 -5l1 -2zM869 247l3 -4l3 -1l12 0l5 3l0 2l-5 3l-14 0zM414 329l3 -4l4 -2l6 0l6 4l1 4l-3 5l-4 2l-4 0l-4 -2zM427 377l3 4l0 6l-3 5l-4 1l-3 -2l0 -6l2 -6z"/><path fill="#b50e0e" d="M14 1l9 0l2 -1l14 0l3 1l1 10l4 7l10 4l14 1l6 10l5 4l5 2l6 10l5 4l5 2l6 10l12 8l1 6l-1 24l2 8l4 4l8 4l8 12l11 6l2 6l3 4l8 6l1 2l-1 3l-2 1l-12 0l-16 -4l-7 -6l-6 -12l-9 -13l-2 -7l-1 -14l-12 -12l-5 -10l-10 -10l-6 -18l-8 -6l-12 -3l-8 -4l-6 -5l-14 -8l-15 -18l-2 -4zM1059 1l0 6l2 4l10 10l6 8l8 4l4 0l10 3l10 11l6 4l5 8l5 5l8 5l3 8l0 10l-3 18l7 14l11 12l12 19l1 3l-1 15l-6 7l-10 5l-18 4l-14 0l-3 -1l-4 -4l-4 -8l1 -20l-3 -6l-15 -15l-6 -3l-18 -2l-32 0l-2 1l-16 0l-14 3l-4 2l-4 6l2 4l10 10l-2 20l3 10l0 8l-1 6l-5 10l-13 12l-14 2l-4 2l-8 8l-14 8l-8 9l-4 1l-10 -4l-10 -2l-8 -4l-34 -34l-1 -4l14 -16l1 -30l2 -3l8 -4l4 -5l2 -20l8 -14l1 -18l21 -44l4 -5l6 -3l10 -2l14 -7l4 -1l32 0l12 -3l11 -11l2 -4l1 -8l6 -1zM506 23l3 -2l22 0l3 2l-1 1l-26 0zM834 103l3 -3l2 -5l2 -10l8 -6l6 -1l18 5l6 3l2 3l0 6l-6 10l-4 2l-20 -2l-14 0zM691 121l17 -16l33 -17l8 1l8 4l30 30l5 8l4 10l0 26l13 14l3 8l-1 10l-3 2l-9 2l-22 0l-16 -2l-16 -4l-4 -4l-5 -12l-5 -5l-10 -5l-8 -10l-8 -3l-6 0l-8 -2l-5 -5l0 -18zM197 165l6 2l8 12l6 3l11 3l1 2l-9 10l-2 8l2 10l0 18l1 4l4 5l6 3l2 2l0 2l-8 5l-4 5l-6 14l-4 22l-15 30l-7 5l-6 0l-4 -6l-4 -13l0 -14l8 -18l1 -82l2 -6l0 -12l-2 -8l1 -2l4 -2zM303 181l6 6l0 28l-4 5l-10 5l-16 4l-6 -2l-4 -4l-2 -6l0 -30l1 -2l5 -4l6 -2l18 0zM825 215l2 -2l10 0l3 2l0 2l-3 2l-8 0l-4 -2zM426 217l2 10l-2 6l-3 3l-4 2l-14 2l-14 9l-2 0l-15 -16l0 -2l5 -5l6 -3l10 -2l8 -4l8 -2l12 0zM874 247l3 -2l6 0l4 2l-2 1l-10 0zM416 327l7 -4l9 4l1 4l-4 5l-6 1l-7 -6zM425 379l2 2l0 6l-2 3l-2 0l-1 -5l1 -4z"/><path fill="#b00d0d" d="M15 1l10 -1l14 0l3 1l1 10l2 5l3 3l9 3l10 0l6 3l4 9l2 2l8 3l2 2l3 8l5 4l6 2l7 12l9 4l2 3l0 31l3 8l5 4l6 2l6 11l4 3l6 2l4 4l2 6l10 8l0 4l-2 1l-16 0l-8 -2l-9 -5l-5 -10l-9 -12l-4 -8l-1 -16l-2 -4l-11 -10l-6 -12l-7 -6l-8 -20l-4 -4l-6 -3l-14 -4l-6 -5l-16 -9l-7 -7l-9 -12l-2 -4zM1058 1l1 8l10 10l7 10l5 3l12 2l8 4l17 17l3 6l8 5l6 7l0 18l-2 8l0 8l8 14l11 12l11 18l1 8l-1 8l-2 4l-16 9l-14 3l-18 0l-4 -3l-4 -7l-1 -4l1 -8l-1 -14l-19 -19l-6 -2l-10 0l-2 -1l-44 0l-22 3l-8 4l-2 3l0 4l10 10l2 4l0 4l-3 10l3 12l0 12l-2 8l-4 6l-12 11l-12 1l-6 2l-8 8l-14 9l-9 9l-3 1l-25 -9l-33 -32l-2 -3l0 -4l13 -15l3 -30l10 -5l2 -3l2 -12l0 -12l7 -14l1 -18l20 -42l6 -7l6 -3l12 -3l12 -6l6 -1l30 0l8 -2l6 -3l4 -4l6 -11l0 -6l8 -1zM840 101l1 -12l2 -4l8 -5l4 -1l21 6l4 4l-1 7l-3 5l-5 4l-24 -1l-6 -1zM691 124l16 -17l28 -15l10 -3l12 5l29 29l7 14l1 30l13 14l2 4l0 12l-1 2l-7 3l-30 0l-26 -6l-4 -4l-6 -13l-12 -7l-10 -12l-4 -2l-16 -2l-6 -5l0 -18zM201 166l5 5l5 8l15 6l1 2l-7 8l-3 8l2 36l3 6l3 2l0 2l-3 2l-3 6l-6 20l-3 18l-15 30l-5 4l-5 1l-4 -3l-3 -6l-2 -8l0 -18l8 -18l0 -76l3 -12l0 -8l-2 -10l1 -2l7 -3zM271 183l10 -4l14 0l4 1l8 5l2 4l0 22l-2 6l-4 4l-6 3l-16 4l-4 0l-7 -5l-3 -8l0 -26zM425 221l0 10l-2 3l-6 3l-12 2l-14 8l-4 -2l-8 -8l-2 -4l1 -4l6 -4l17 -5l6 -3l14 0zM417 329l3 -4l5 -1l6 4l0 4l-3 3l-5 1l-6 -5z"/><path fill="#ab0c0c" d="M16 1l9 0l2 -1l15 1l1 12l6 7l6 2l10 0l6 2l3 3l2 6l3 3l6 2l5 5l2 6l3 3l6 2l4 3l3 8l3 3l6 2l4 5l0 30l3 8l3 3l8 3l2 2l3 8l3 3l6 2l4 3l5 10l8 6l1 2l-1 2l-15 1l-12 -3l-8 -6l-6 -12l-6 -7l-4 -7l-2 -18l-3 -6l-8 -6l-3 -4l-3 -8l-10 -10l-7 -19l-7 -5l-13 -4l-8 -4l-4 -4l-16 -9l-13 -17l-2 -4zM1058 1l0 6l2 4l17 19l6 3l8 1l8 3l9 10l8 6l7 10l10 7l2 5l0 14l-3 16l7 14l14 16l10 18l-1 16l-5 5l-14 6l-14 3l-14 0l-6 -4l-4 -8l-1 -6l2 -10l-3 -10l-16 -16l-4 -2l-12 -2l-54 0l-14 2l-8 3l-5 5l2 6l10 10l-2 20l3 10l0 8l-2 8l-3 6l-11 11l-4 2l-14 0l-2 1l-10 10l-12 8l-10 9l-4 0l-10 -3l-12 -5l-32 -31l-2 -6l2 -4l10 -10l5 -14l11 -6l2 -44l5 -10l2 -8l0 -14l20 -42l5 -6l32 -13l32 0l10 -2l6 -3l6 -7l4 -7l1 -8l7 -1zM842 89l5 -6l4 -2l8 0l16 4l4 4l0 4l-3 6l-5 4l-16 0l-10 -2l-2 -2zM692 125l20 -20l21 -11l8 -3l6 0l10 4l29 30l5 12l0 26l1 4l15 18l0 12l-1 2l-9 3l-24 0l-24 -5l-6 -3l-8 -15l-13 -8l-9 -12l-6 -2l-12 -1l-6 -4l-1 -3l0 -14zM199 166l5 3l3 6l6 6l11 4l1 2l-6 8l-3 8l2 52l-1 8l-5 16l-1 10l-17 36l-5 4l-5 0l-4 -4l-4 -12l0 -18l9 -20l0 -78l3 -12l-2 -14l1 -2l4 -2zM271 183l6 -3l16 -1l6 1l8 5l1 2l0 26l-3 6l-6 4l-16 4l-6 0l-6 -4l-3 -6l0 -30zM422 223l1 6l-4 6l-10 3l-4 0l-14 7l-4 -2l-6 -6l-2 -4l0 -2l4 -4l26 -9l9 1zM421 325l4 0l4 2l1 4l-5 4l-5 -2l-2 -4z"/><path fill="#a60c0c" d="M17 1l10 0l2 -1l13 1l1 12l4 6l8 3l8 0l8 2l5 9l3 3l7 3l3 3l3 7l3 3l7 3l9 13l9 5l1 2l0 30l3 8l3 3l7 3l9 13l6 2l4 3l5 10l8 6l-1 4l-6 1l-12 -1l-10 -3l-4 -3l-5 -10l-11 -15l-3 -7l0 -10l-2 -8l-11 -10l-6 -12l-8 -7l-7 -19l-5 -5l-18 -6l-8 -6l-16 -9l-14 -18l-2 -4zM1057 1l1 8l10 10l7 10l4 3l6 2l10 1l4 2l18 18l4 7l12 9l2 6l0 10l-3 12l0 8l8 14l11 12l11 18l1 10l-3 10l-15 8l-8 2l-24 1l-5 -5l-3 -8l1 -18l-4 -8l-13 -13l-8 -4l-6 -1l-60 0l-16 3l-6 3l-4 6l2 4l9 8l2 4l0 4l-3 10l3 12l0 12l-1 4l-7 12l-11 8l-10 -1l-6 1l-12 12l-9 6l-11 10l-16 -4l-10 -5l-30 -29l-2 -6l2 -4l10 -10l5 -10l9 -5l3 -5l1 -44l5 -12l1 -20l19 -40l5 -7l8 -4l8 -2l14 -7l30 0l16 -3l5 -3l5 -6l5 -10l0 -6l9 -1zM844 89l6 -6l11 -1l14 4l3 3l0 2l-3 6l-4 4l-16 0l-9 -4l-2 -4zM694 125l20 -20l17 -9l12 -4l14 4l27 27l5 14l0 26l1 4l15 18l0 12l-6 4l-20 1l-10 -1l-24 -6l-4 -4l-6 -13l-12 -7l-12 -14l-12 -1l-8 -3l-2 -4l0 -14zM199 166l5 3l4 8l3 3l11 5l2 2l-5 6l-4 10l1 6l0 52l-4 14l-3 18l-14 29l-4 5l-6 2l-3 -2l-5 -12l-1 -16l1 -6l8 -14l0 -76l3 -14l0 -10l-2 -8l3 -3zM273 182l6 -2l18 0l6 2l3 3l2 8l0 16l-1 6l-4 5l-8 4l-16 3l-8 -5l-2 -5l0 -30zM420 227l-1 6l-6 3l-10 2l-10 5l-6 -2l-6 -8l0 -2l5 -4l21 -7l6 0l4 2zM419 329l1 -2l3 -1l5 1l1 2l-2 4l-5 0z"/><path fill="#a10b0b" d="M18 1l9 0l2 -1l13 1l0 10l5 8l6 3l18 2l5 9l3 3l7 3l3 3l3 7l3 3l7 3l9 13l9 5l1 2l0 32l4 8l9 4l9 13l10 5l4 9l8 7l1 2l-3 2l-14 0l-8 -2l-6 -3l-3 -3l-6 -12l-7 -8l-4 -8l-1 -16l-3 -6l-10 -8l-6 -12l-8 -8l-8 -20l-10 -6l-13 -4l-9 -7l-7 -3l-9 -6l-6 -10l-6 -7zM1057 1l0 6l2 4l18 20l4 2l16 3l4 3l6 8l10 8l3 6l3 3l6 3l5 6l0 18l-3 14l7 14l14 16l5 10l4 5l1 3l-1 15l-6 6l-12 5l-16 3l-12 0l-5 -3l-5 -10l1 -18l-2 -6l-19 -18l-8 -2l-14 0l-2 -1l-28 0l-2 1l-20 0l-14 3l-7 5l-1 4l2 4l10 10l0 8l-2 4l0 10l3 8l0 6l-5 15l-4 5l-10 7l-8 -1l-10 1l-10 11l-20 16l-16 -3l-8 -4l-30 -29l-2 -6l2 -4l10 -10l4 -7l13 -11l1 -6l0 -40l5 -18l0 -14l18 -38l7 -9l30 -13l34 0l12 -3l10 -11l3 -6l1 -8l8 -1zM846 89l3 -4l4 -2l8 0l10 2l4 2l2 4l-6 8l-16 0l-7 -4zM694 127l19 -20l18 -10l10 -3l6 0l12 5l22 22l3 6l3 10l0 26l1 4l15 18l0 12l-2 2l-6 2l-22 0l-24 -5l-6 -3l-7 -14l-3 -3l-10 -5l-11 -14l-15 -2l-6 -4l-1 -2l0 -14zM199 166l4 2l4 8l6 6l8 3l1 2l-7 12l0 64l-4 14l-1 10l-17 37l-3 3l-5 1l-4 -3l-4 -12l0 -18l8 -14l1 -4l0 -78l3 -12l-2 -16l6 -4zM273 183l6 -3l18 0l9 5l1 2l0 26l-6 8l-4 2l-14 3l-6 0l-6 -5l-2 -6l0 -26zM418 229l0 2l-5 4l-10 2l-10 4l-6 -2l-4 -6l0 -2l2 -2l6 -3l10 -2l4 -2l6 0l4 2zM422 327l5 1l0 3l-4 1l-2 -2z"/><path fill="#9c0a0a" d="M19 1l10 0l2 -1l11 1l0 10l5 8l6 3l18 2l6 11l10 5l6 11l10 5l6 11l11 6l1 2l0 32l1 4l3 4l11 6l5 10l12 6l3 8l9 10l-6 2l-8 0l-12 -3l-5 -3l-5 -10l-13 -18l-3 -22l-13 -12l-4 -10l-9 -8l-6 -18l-6 -6l-16 -5l-6 -3l-4 -4l-14 -7l-5 -5l-3 -6l-5 -6l-3 -6zM1056 1l2 10l9 8l8 11l8 4l8 1l8 3l10 11l6 4l6 10l10 6l3 6l0 14l-3 12l1 8l7 12l11 12l5 10l6 8l1 12l-2 6l-3 3l-12 6l-14 3l-16 0l-6 -4l-3 -6l0 -22l-3 -6l-14 -14l-6 -3l-16 -2l-44 0l-24 3l-8 4l-3 4l2 6l11 12l-3 12l0 6l3 8l0 10l-3 10l-4 6l-5 5l-6 3l-6 0l-6 -2l-6 1l-10 11l-6 4l-14 13l-12 -2l-8 -3l-14 -12l-18 -18l-2 -3l0 -4l12 -13l4 -6l8 -6l5 -6l0 -38l1 -10l4 -14l0 -16l12 -28l9 -14l6 -6l9 -3l16 -8l32 0l12 -2l6 -3l11 -14l1 -10l10 -1zM848 89l5 -5l8 0l12 3l2 2l0 3l-4 5l-16 0l-6 -5zM693 131l22 -24l16 -9l4 0l4 -2l10 0l9 3l23 23l4 13l1 32l13 14l2 4l0 12l-4 3l-6 1l-16 0l-30 -7l-3 -3l-7 -14l-4 -3l-6 -2l-12 -15l-4 -2l-12 -1l-5 -3l-1 -2l0 -12zM197 166l4 1l4 5l2 5l4 4l8 4l1 4l-6 10l0 64l-6 28l-9 17l-5 13l-5 6l-4 1l-2 -1l-4 -8l-2 -8l0 -14l1 -4l8 -14l1 -6l0 -76l2 -8l-1 -18l1 -2zM273 183l8 -3l14 0l4 1l6 4l1 2l0 28l-3 4l-8 4l-14 3l-6 -2l-3 -3l-2 -4l0 -30zM415 228l-1 5l-19 6l-5 0l-5 -6l4 -5l16 -4l6 0z"/><path fill="#970a0a" d="M20 1l11 0l2 -1l8 1l0 6l2 8l3 4l3 2l8 2l14 1l4 9l4 4l8 3l4 9l4 4l8 3l4 9l4 4l9 4l1 4l-1 26l3 10l4 4l8 3l4 9l4 4l8 3l3 3l3 8l7 6l-1 2l-6 2l-10 -1l-9 -3l-5 -4l-7 -14l-6 -6l-5 -10l0 -12l-3 -8l-11 -9l-5 -11l-9 -9l-7 -19l-3 -3l-6 -3l-14 -4l-10 -8l-8 -3l-7 -5l-11 -17zM1056 1l0 6l2 4l12 12l2 4l5 5l4 2l10 1l8 3l5 7l12 10l3 6l13 10l2 6l0 10l-4 18l8 16l13 14l10 18l0 12l-2 4l-5 4l-15 6l-14 2l-12 -1l-4 -4l-3 -7l1 -18l-2 -6l-18 -18l-14 -3l-56 0l-16 2l-8 3l-5 6l0 4l11 11l1 3l-3 16l4 14l0 4l-3 10l-5 8l-8 7l-8 0l-8 -3l-6 2l-8 10l-6 4l-14 13l-6 0l-11 -3l-17 -14l-16 -16l-2 -3l0 -4l12 -14l14 -13l3 -6l0 -42l4 -18l0 -16l12 -28l9 -14l7 -6l27 -11l32 0l10 -2l4 -2l8 -9l5 -10l0 -6l9 0l2 -1zM851 88l4 -3l14 1l4 2l1 3l-3 4l-10 1l-6 -1l-4 -4zM693 134l14 -17l14 -13l8 -4l14 -3l8 1l8 3l20 20l2 4l3 14l0 26l3 6l10 10l3 8l-1 8l-6 3l-20 0l-20 -5l-4 0l-4 -2l-4 -4l-4 -10l-4 -4l-10 -5l-10 -14l-6 -2l-8 0l-6 -3l-1 -2zM201 167l6 10l12 10l-6 14l0 64l-5 24l-9 17l-7 17l-3 3l-4 1l-3 -2l-4 -10l-1 -16l2 -7l8 -13l0 -78l3 -14l0 -6l-2 -8l2 -4l5 -2zM275 182l8 -2l10 0l8 2l4 4l1 3l0 24l-5 7l-6 3l-16 2l-6 -4l-3 -6l0 -26l1 -3zM387 233l2 -3l4 -2l14 -3l6 4l0 2l-4 3l-16 4l-3 -1z"/><path fill="#910909" d="M21 1l10 0l2 -1l8 1l1 12l5 7l8 3l12 0l6 4l2 6l4 4l6 2l4 4l2 6l4 4l8 3l4 9l4 4l4 1l4 3l2 6l-1 26l3 8l4 4l8 3l4 9l4 4l4 1l6 4l4 9l6 6l-1 2l-13 1l-8 -2l-7 -5l-5 -10l-10 -12l-3 -6l-1 -16l-2 -5l-6 -6l-5 -3l-4 -10l-10 -10l-7 -19l-5 -5l-15 -5l-6 -3l-6 -5l-14 -7l-4 -4l-10 -18zM1055 1l2 10l11 10l7 10l6 3l16 3l11 12l7 5l6 10l11 7l1 2l0 18l-3 10l0 6l9 16l10 10l6 12l4 5l2 5l0 6l-2 8l-2 2l-16 7l-12 2l-14 0l-4 -2l-5 -11l1 -6l-1 -14l-2 -4l-15 -15l-4 -2l-8 -2l-64 0l-16 3l-6 3l-4 5l3 8l10 10l-3 12l0 6l3 10l0 6l-2 8l-4 8l-9 8l-8 0l-10 -4l-4 1l-12 14l-4 2l-10 11l-4 2l-12 -2l-4 -2l-8 -9l-8 -5l-11 -10l-5 -6l0 -6l27 -28l2 -4l0 -44l3 -14l0 -18l12 -28l11 -16l6 -4l23 -10l32 0l14 -3l6 -5l9 -14l1 -8l10 -1zM853 89l4 -3l4 0l11 3l0 2l-3 2l-8 1l-6 -2zM695 133l9 -8l5 -8l8 -9l12 -7l10 -2l10 0l10 3l19 19l2 4l2 12l0 28l15 20l1 4l-1 8l-8 3l-14 0l-29 -7l-5 -5l-5 -11l-11 -6l-12 -16l-6 -2l-8 0l-4 -2l-2 -4l0 -8zM199 167l4 2l4 9l8 6l2 3l-5 14l0 64l-5 24l-8 15l-8 19l-2 2l-4 1l-2 -1l-5 -12l0 -18l4 -8l4 -4l2 -6l0 -78l2 -8l-1 -20l6 -4zM279 181l18 0l6 3l2 3l0 26l-2 4l-5 4l-11 3l-8 0l-3 -1l-4 -4l-1 -4l0 -28l2 -3zM390 231l5 -2l6 -1l8 0l1 1l0 2l-3 2l-12 3l-4 -1z"/><path fill="#8c0808" d="M22 1l11 0l2 -1l6 1l1 12l5 7l8 3l10 0l6 2l2 2l3 8l7 4l2 0l4 4l3 8l7 4l2 0l4 4l3 8l11 6l1 2l0 32l5 9l8 3l4 4l0 2l4 7l11 5l3 8l7 8l-2 2l-9 1l-11 -3l-5 -3l-8 -15l-9 -10l-2 -4l-1 -18l-2 -4l-12 -10l-4 -10l-10 -11l-6 -17l-4 -4l-18 -6l-12 -9l-10 -4l-6 -6l-9 -17zM1055 1l0 6l3 6l11 10l5 8l5 3l14 2l6 3l4 6l12 10l3 6l5 5l8 5l2 4l0 14l-4 16l8 16l13 14l10 18l0 12l-2 4l-15 8l-12 2l-16 0l-4 -2l-3 -4l-1 -4l0 -20l-2 -5l-14 -15l-8 -4l-20 -1l-2 -1l-28 0l-2 1l-20 0l-16 3l-6 4l-3 4l2 6l11 12l0 4l-3 8l0 6l4 14l-3 10l-4 8l-6 6l-4 2l-6 -1l-10 -5l-6 2l-4 4l-3 6l-7 4l-6 6l-2 4l-6 4l-10 -1l-6 -3l-6 -8l-13 -8l-9 -9l-3 -7l3 -5l25 -25l2 -4l0 -46l2 -10l0 -20l12 -28l8 -12l5 -5l17 -9l11 -4l34 0l6 -1l7 -3l4 -4l7 -11l2 -5l0 -6l10 0l2 -1zM857 89l2 -1l7 1l-3 2l-4 0zM720 107l9 -5l24 -1l6 2l18 18l3 14l0 30l2 4l9 9l5 9l0 6l-3 5l-20 1l-18 -5l-8 -1l-5 -4l-4 -10l-5 -5l-6 -2l-6 -5l-5 -10l-3 -3l-6 -2l-8 0l-4 -3l0 -12l2 -4l8 -6l8 -13zM199 167l5 4l2 6l10 10l-4 10l-1 8l0 38l1 2l-1 22l-4 20l-8 14l-3 10l-6 12l-3 2l-3 0l-3 -4l-3 -10l0 -14l2 -6l8 -10l1 -6l0 -78l2 -8l-1 -18l3 -3zM279 181l18 0l4 2l4 6l0 22l-1 4l-3 4l-6 3l-16 2l-7 -7l-1 -4l0 -24l2 -4zM394 233l3 -1l0 1z"/><path fill="#870808" d="M23 1l18 0l0 10l4 8l8 4l10 0l8 2l4 9l3 3l9 4l4 9l3 3l9 4l6 11l10 5l1 2l0 32l1 4l5 6l9 4l4 9l3 3l10 4l4 10l5 6l-2 2l-8 1l-8 -2l-8 -5l-6 -12l-12 -15l-1 -15l-4 -10l-9 -6l-6 -13l-8 -7l-9 -22l-9 -5l-8 -2l-8 -4l-4 -4l-16 -8l-3 -3l-9 -18zM1055 1l1 10l11 10l4 7l4 4l6 3l10 1l8 3l5 8l7 4l4 4l4 8l12 8l2 6l0 10l-4 14l0 6l6 12l14 15l6 13l4 6l0 13l-4 5l-8 4l-20 4l-10 0l-4 -1l-3 -3l-3 -6l1 -16l-3 -10l-16 -16l-4 -2l-16 -2l-48 0l-24 3l-8 4l-3 5l1 6l11 12l-3 16l4 14l0 4l-5 14l-7 7l-4 2l-6 -1l-10 -6l-4 0l-5 2l-2 2l-2 6l-5 5l-6 2l-3 3l-5 9l-12 0l-2 -1l-7 -10l-11 -4l-8 -6l-5 -6l-2 -6l5 -8l23 -22l2 -4l1 -76l10 -25l9 -13l11 -10l20 -9l32 0l12 -2l6 -3l9 -12l4 -8l0 -6l11 0l2 -1zM723 106l6 -3l8 -1l20 1l19 18l2 8l0 36l2 4l7 6l6 8l1 10l-2 4l-15 2l-10 -2l-4 -2l-14 -2l-4 -2l-4 -4l-4 -10l-12 -7l-3 -3l-5 -10l-4 -4l-4 -2l-6 0l-6 -2l-1 -4l1 -8l10 -7l4 -11zM197 167l5 2l5 10l8 8l-4 12l0 64l-2 8l0 6l-4 13l-7 11l-2 8l-7 14l-4 2l-2 -2l-4 -10l0 -18l10 -16l0 -78l3 -16l-2 -12l3 -4zM277 182l18 -1l4 1l4 3l1 2l0 26l-1 3l-4 4l-12 3l-8 0l-5 -4l-2 -4l0 -28z"/><path fill="#820707" d="M24 1l17 0l1 14l5 6l6 2l18 2l3 8l5 5l8 3l3 8l5 5l8 3l3 8l5 5l8 3l1 2l0 22l-1 2l1 10l2 4l5 5l8 3l3 8l5 5l2 0l8 5l1 4l6 10l-3 2l-12 -1l-7 -3l-4 -4l-7 -14l-8 -8l-2 -4l-1 -16l-2 -6l-12 -10l-5 -12l-8 -7l-7 -19l-5 -5l-18 -6l-10 -8l-12 -5l-4 -4l-9 -18zM1132 73l0 18l-4 14l9 18l12 12l3 8l7 12l-1 12l-3 3l-14 6l-12 2l-14 0l-2 -1l-5 -6l-1 -4l1 -16l-4 -10l-13 -13l-8 -4l-8 -1l-60 0l-10 1l-14 4l-4 3l-2 4l3 8l9 9l0 5l-2 6l0 10l3 8l0 6l-3 10l-6 9l-8 3l-4 -1l-12 -7l-10 1l-12 5l-2 4l-10 10l-6 1l-8 -4l-10 -1l-8 -4l-8 -8l-2 -4l2 -6l28 -28l1 -76l8 -24l11 -16l10 -9l22 -10l36 0l8 -2l6 -4l11 -17l1 -8l21 0l0 6l3 6l11 10l5 8l4 3l20 4l10 12l6 3l6 10l8 5zM725 106l6 -2l26 0l18 17l2 16l0 30l12 12l3 6l-1 10l-3 2l-5 1l-8 0l-18 -5l-10 -1l-4 -3l-6 -12l-5 -4l-7 -3l-3 -3l-3 -8l-14 -16l5 -10l1 -10l4 -8zM199 168l4 3l2 6l9 10l-4 12l0 66l-3 18l-4 9l-6 9l-4 14l-6 8l-3 0l-3 -5l-2 -7l0 -14l2 -6l6 -6l3 -6l0 -80l2 -8l-1 -20l4 -3zM275 184l8 -3l10 0l9 4l2 4l0 22l-2 6l-7 4l-14 2l-6 -3l-2 -3l-1 -6l0 -22z"/><path fill="#7d0606" d="M25 1l15 0l1 12l6 8l10 3l12 0l3 3l3 8l2 2l8 3l3 3l3 8l2 2l10 4l4 10l2 2l8 3l3 3l-1 32l6 10l8 3l3 3l1 4l4 6l6 2l6 4l2 7l4 7l-4 2l-4 0l-8 -2l-8 -6l-6 -12l-11 -12l-1 -18l-4 -8l-11 -8l-5 -12l-8 -8l-8 -20l-8 -5l-8 -2l-8 -4l-9 -7l-7 -2l-6 -4l-3 -4l0 -2l-7 -14zM1130 71l2 4l0 14l-5 16l8 16l14 15l9 19l0 10l-7 7l-4 2l-16 3l-16 0l-2 -1l-5 -7l0 -20l-2 -6l-13 -14l-6 -4l-8 -2l-68 0l-14 2l-8 4l-5 6l2 6l9 10l2 4l-3 10l0 6l3 10l0 6l-6 16l-6 5l-6 0l-10 -7l-6 -2l-4 1l-20 0l-3 3l-1 4l-4 6l-8 3l-18 -1l-4 -2l-10 -10l0 -6l3 -4l25 -24l2 -4l0 -74l6 -20l3 -6l12 -16l7 -6l10 -6l10 -4l34 0l12 -2l6 -4l11 -16l2 -10l20 0l0 8l2 4l11 9l4 7l4 4l4 2l14 2l5 2l5 8l11 8l4 8l3 3zM725 107l6 -2l26 0l17 16l1 2l0 42l2 4l9 8l4 6l1 4l-3 8l-5 2l-10 0l-8 -3l-16 -2l-7 -5l-4 -10l-3 -3l-7 -3l-5 -4l-4 -9l-7 -11l0 -18l1 -8l2 -4zM199 168l4 3l3 8l7 8l-4 14l0 66l-4 20l-8 12l-4 14l-3 6l-3 3l-4 -1l-2 -4l-2 -8l0 -10l3 -8l6 -6l3 -8l0 -80l2 -10l-1 -16l2 -2zM279 182l18 0l6 5l0 26l-4 6l-10 3l-10 0l-4 -3l-2 -4l0 -28z"/><path fill="#780606" d="M26 1l14 0l1 12l4 7l10 4l15 1l2 2l3 8l2 2l8 3l3 3l3 8l2 2l8 3l3 3l3 8l12 7l1 3l0 14l-1 10l-2 4l-2 -6l-12 -10l-5 -12l-9 -9l-6 -17l-6 -6l-13 -4l-13 -9l-14 -6l-5 -7l-5 -12zM1130 71l2 6l0 8l-2 10l-3 6l0 6l10 18l8 6l3 4l2 6l7 12l0 12l-4 5l-8 4l-20 3l-6 0l-8 -3l-3 -7l1 -10l-1 -10l-4 -8l-11 -11l-8 -4l-20 -2l-58 1l-14 3l-4 2l-6 7l2 6l11 12l-3 12l0 6l3 10l0 6l-2 8l-4 8l-3 3l-8 1l-14 -9l-26 0l-4 3l-6 10l-8 3l-14 0l-7 -3l-6 -6l-2 -4l2 -6l25 -24l3 -6l0 -74l5 -18l4 -8l9 -12l8 -8l9 -6l10 -5l40 -1l10 -2l4 -3l12 -18l2 -9l18 0l0 6l4 8l10 8l3 6l5 5l22 5l10 12l7 4l4 8l3 3zM119 107l2 6l4 4l8 3l3 3l0 2l5 8l10 4l3 8l4 6l-1 3l-4 1l-6 -1l-10 -5l-10 -18l-7 -6l-3 -6l0 -10zM724 109l7 -3l24 0l4 1l14 14l1 4l0 40l3 6l10 9l2 5l0 4l-2 4l-6 3l-8 0l-14 -4l-6 0l-9 -3l-6 -12l-3 -3l-12 -7l-1 -4l-8 -14l0 -26l3 -7zM199 168l2 1l4 9l7 9l-3 10l0 64l-4 24l-9 14l-3 12l-4 8l-2 2l-2 0l-5 -8l0 -16l3 -7l6 -5l2 -4l0 -78l2 -12l0 -16l-1 -2l3 -4zM278 183l3 -1l14 0l6 3l2 8l0 16l-1 6l-4 4l-5 2l-12 1l-6 -4l-2 -9l0 -16l1 -6z"/><path fill="#720404" d="M27 1l13 0l1 14l6 7l6 2l14 0l4 2l5 11l10 4l5 11l11 5l5 10l11 6l2 6l0 6l-1 2l0 10l-2 5l-6 -8l-8 -5l-6 -14l-7 -6l-8 -20l-3 -3l-6 -3l-8 -2l-6 -3l-10 -8l-10 -3l-4 -4l-7 -16zM1129 71l2 4l0 14l-2 7l-3 5l0 6l9 16l12 11l4 11l5 8l0 12l-6 6l-7 3l-14 2l-16 -1l-2 -2l-3 -8l1 -2l0 -14l-3 -8l-11 -12l-8 -5l-14 -2l-58 0l-10 1l-15 4l-8 8l2 6l11 12l-3 14l1 8l2 4l0 10l-3 10l-5 6l-4 2l-4 -1l-12 -9l-30 0l-10 13l-8 3l-12 0l-5 -2l-7 -6l-2 -4l2 -6l28 -28l0 -74l5 -20l5 -10l10 -12l12 -10l14 -7l36 0l8 -1l8 -4l10 -14l4 -8l1 -6l17 0l0 8l2 4l12 10l6 10l6 3l18 3l5 8l11 8l4 8l4 4zM723 111l10 -4l22 0l4 1l13 13l1 4l0 42l12 12l3 6l-2 6l-3 3l-6 2l-14 -4l-16 -2l-4 -3l-4 -10l-4 -4l-8 -3l-3 -3l-9 -20l0 -24l2 -5zM119 109l0 2l5 6l11 5l2 7l4 4l8 3l3 3l5 14l-2 1l-10 -1l-6 -3l-3 -3l-7 -14l-11 -12l0 -10zM200 169l2 2l3 8l6 8l-3 10l0 68l-3 18l-10 16l-3 12l-3 6l-4 3l-3 -3l-2 -6l0 -14l3 -6l8 -7l1 -3l0 -82l2 -10l-1 -16l3 -4zM277 184l4 -2l14 0l6 4l1 3l0 24l-3 5l-10 3l-10 0l-4 -4l-1 -4l0 -24z"/><path fill="#6d0303" d="M29 1l11 0l0 10l1 4l4 6l6 3l18 1l2 2l3 8l3 3l8 3l2 2l3 8l3 3l8 3l2 2l3 8l3 3l4 1l6 4l0 20l-2 5l-4 -5l-4 -3l-2 0l-5 -5l-3 -10l-10 -11l-5 -15l-3 -4l-4 -3l-15 -5l-9 -7l-10 -4l-8 -5l-6 -16zM1131 75l0 12l-2 8l-4 8l0 4l7 10l3 7l12 11l4 11l4 7l0 12l-4 5l-10 4l-10 1l-16 0l-2 -1l-4 -5l0 -22l-2 -5l-4 -6l-7 -7l-11 -6l-6 -1l-68 0l-10 1l-8 2l-6 3l-6 7l2 6l11 12l-2 10l2 26l-2 8l-6 8l-5 1l-4 -2l-6 -6l-10 -3l-24 1l-4 3l-7 10l-5 2l-16 0l-4 -2l-7 -8l1 -4l27 -26l3 -8l0 -76l3 -12l3 -7l10 -13l10 -10l10 -7l6 -3l32 0l16 -2l6 -3l14 -20l2 -5l0 -4l15 0l0 6l2 6l13 11l5 9l5 3l19 3l7 10l10 6l5 10l9 5zM1111 118l-1 3l3 1l1 -3zM1015 71l0 2l2 0l0 -2zM725 111l4 -2l28 0l4 2l8 8l2 4l0 40l3 8l12 12l0 4l-3 5l-4 2l-8 0l-10 -3l-15 -2l-4 -4l-4 -10l-13 -7l-8 -17l-1 -6l1 -24l2 -4zM119 112l6 6l8 3l2 2l3 8l3 3l9 3l2 2l4 10l0 4l-3 1l-6 -1l-5 -2l-5 -4l-8 -15l-10 -10l-1 -3zM199 169l11 18l-3 12l0 68l-1 10l-3 9l-8 10l-3 13l-3 7l-4 3l-4 -6l0 -16l2 -5l8 -5l2 -6l1 -110zM279 183l6 -1l12 1l4 4l0 26l-2 4l-3 2l-15 2l-6 -6l0 -28z"/><path fill="#670202" d="M30 1l9 0l1 12l3 6l4 4l8 2l14 0l2 2l4 10l10 4l2 2l4 10l10 4l2 2l3 8l3 3l6 2l4 3l0 18l-2 5l-4 -4l-9 -5l-6 -14l-9 -10l-3 -10l-5 -9l-8 -4l-10 -3l-10 -8l-6 -3l-6 -1l-5 -4l-6 -16zM1130 73l1 6l-1 12l-7 14l7 10l5 10l10 8l2 3l2 7l5 10l0 12l-3 4l-8 4l-8 1l-20 0l-2 -1l-4 -6l1 -16l-2 -8l-5 -8l-6 -6l-8 -5l-8 -2l-16 0l-2 -1l-32 0l-2 1l-30 1l-12 4l-5 4l-2 4l2 6l11 12l-2 10l2 26l-2 8l-4 6l-6 2l-4 -2l-6 -6l-6 -3l-26 0l-6 3l-5 8l-7 5l-16 0l-8 -6l-1 -3l1 -5l26 -25l3 -6l0 -78l4 -16l14 -18l15 -13l12 -5l36 0l8 -1l8 -5l6 -10l8 -10l1 -8l14 0l0 8l3 6l10 7l4 8l4 4l6 3l12 1l6 2l4 7l13 10l2 6l5 5l6 2zM1115 116l-4 0l-3 3l1 5l4 0l3 -3zM1015 68l-3 3l0 2l3 3l2 0l3 -3l0 -2l-3 -3zM725 112l4 -2l28 0l4 2l7 7l2 4l0 42l3 6l12 12l0 4l-4 5l-10 1l-6 -2l-18 -2l-3 -2l-4 -10l-5 -5l-4 -1l-6 -4l-7 -16l0 -30l2 -4zM119 114l4 3l10 4l2 2l3 8l3 3l10 4l5 13l-2 2l-9 -1l-8 -6l-8 -15l-9 -8zM199 170l2 1l1 4l7 12l-3 14l0 70l-1 8l-2 5l-8 8l-5 21l-5 5l-4 -7l0 -14l4 -6l6 -2l2 -2l1 -6l0 -88l1 -2l-1 -18l1 -2zM281 183l14 0l4 2l2 4l0 24l-6 6l-14 1l-4 -3l-2 -4l0 -24l2 -4z"/><path fill="#620101" d="M31 1l8 0l1 14l5 7l8 3l14 0l2 1l6 11l11 6l1 4l4 6l10 4l2 2l4 10l10 4l2 4l0 12l-2 8l-6 -5l-4 -1l-4 -4l-4 -12l-9 -10l-6 -16l-5 -5l-10 -3l-6 -3l-10 -8l-10 -3l-6 -4l-6 -16zM1129 73l1 2l0 14l-3 7l-5 7l0 4l7 8l5 10l5 5l4 2l5 7l1 6l4 8l0 12l-3 4l-11 4l-10 0l-2 1l-13 -1l-4 -4l0 -20l-3 -9l-4 -7l-4 -4l-12 -6l-14 -2l-58 0l-2 1l-10 0l-14 3l-6 4l-4 5l0 4l13 15l-2 10l2 26l-2 8l-5 7l-6 -1l-8 -8l-6 -2l-26 0l-4 1l-4 3l-3 6l-4 4l-5 2l-14 0l-6 -4l-2 -4l2 -6l8 -6l6 -8l12 -10l2 -6l0 -78l3 -10l0 -4l3 -6l8 -8l4 -6l20 -16l4 -1l34 0l14 -2l7 -5l5 -9l8 -9l2 -10l12 0l0 6l3 8l11 8l4 8l4 4l4 2l17 2l5 4l1 4l5 5l7 3l5 10zM1117 115l-2 -1l-5 1l-3 3l-1 3l1 4l2 1l5 -1l3 -3l1 -3zM1015 67l-3 2l-1 4l2 3l4 1l3 -2l1 -4l-2 -3zM729 111l28 0l4 2l6 6l2 4l0 42l2 6l8 6l4 5l1 3l-4 6l-9 1l-6 -2l-16 -1l-6 -4l-1 -4l-5 -8l-9 -4l-3 -3l-6 -15l0 -30l4 -6zM119 117l2 -1l6 4l5 1l3 3l1 5l3 4l10 4l3 4l3 10l-2 2l-6 -1l-8 -5l-6 -9l-3 -7l-9 -8zM199 170l2 2l7 17l-2 6l0 68l-1 2l0 10l-2 8l-2 3l-4 2l-3 -7l0 -80l2 -14l-1 -14l2 -3zM279 184l14 -1l4 1l3 3l0 26l-3 4l-4 2l-10 1l-4 -1l-3 -4l0 -28zM189 291l4 4l-4 18l-2 3l-2 0l-3 -3l0 -16l3 -5z"/><path fill="#5c0000" d="M32 1l7 0l0 12l2 5l4 5l4 2l20 1l5 11l5 4l6 1l3 9l3 3l10 4l4 9l4 4l7 2l2 2l1 12l-2 8l-2 0l-10 -6l-6 -15l-10 -12l-4 -13l-6 -6l-13 -4l-13 -10l-13 -4l-4 -4l-2 -10l-2 -4zM1129 73l1 4l-1 14l-9 14l0 6l-1 1l-6 0l-4 2l-5 7l0 6l-1 1l-6 -1l-8 -4l-10 -2l-70 0l-16 2l-10 5l-5 5l-1 4l14 16l-2 12l0 6l2 8l0 10l-1 6l-5 8l-6 -1l-8 -8l-4 -2l-30 0l-4 2l-6 8l-8 6l-12 0l-4 -1l-5 -6l1 -4l27 -26l2 -4l0 -80l3 -14l3 -6l11 -12l18 -16l8 -3l40 0l6 -1l8 -6l4 -8l9 -10l2 -4l0 -6l11 0l0 8l2 6l13 10l2 6l5 5l6 2l14 1l4 2l4 8l12 8l3 8l3 3l6 2zM1015 65l-5 4l-1 4l4 5l4 1l5 -4l1 -4l-4 -5zM727 113l4 -1l26 0l4 2l5 5l2 4l0 44l2 4l12 12l0 4l-3 3l-8 1l-25 -4l-2 -2l-4 -10l-3 -3l-11 -5l-6 -18l0 -26l1 -4zM1121 112l2 0l6 4l4 9l12 10l3 6l4 14l0 10l-7 6l-14 2l-16 0l-3 -2l-2 -4l1 -14l-2 -10l-4 -8l-1 -6l1 -1l6 0l4 -2l5 -7l0 -6zM121 117l12 5l6 12l12 5l3 10l-1 3l-7 -1l-9 -8l-3 -4l-3 -8l-11 -10zM197 171l2 0l2 2l6 14l-2 10l0 70l-2 14l-4 5l-2 -1l-2 -4l0 -84l1 -2l0 -22zM278 185l7 -2l6 0l7 2l2 4l0 22l-1 4l-2 2l-6 2l-10 0l-3 -2l-2 -6l0 -22zM187 292l3 1l1 2l0 6l-2 10l-4 4l-2 -2l-1 -4l0 -10l1 -4z"/><path fill="#570000" d="M33 1l5 0l1 14l3 6l5 4l-6 0l-4 -4zM1128 73l1 2l0 14l-3 6l-5 5l-4 9l-9 4l-3 3l-4 9l-2 1l-16 -5l-62 -1l-2 1l-24 1l-14 6l-3 3l-2 6l2 4l9 8l3 6l-2 12l2 12l0 10l-2 10l-3 3l-6 -1l-7 -8l-5 -2l-30 0l-5 2l-4 4l-3 6l-4 3l-14 1l-7 -4l-1 -2l1 -4l7 -5l5 -5l2 -4l13 -11l2 -5l0 -78l3 -16l3 -6l9 -8l2 -4l17 -15l6 -3l38 0l12 -2l7 -6l4 -8l9 -9l2 -5l0 -6l9 0l0 8l3 7l3 3l8 4l7 12l6 3l18 2l5 9l3 3l6 2l4 4l4 9zM1015 64l-5 3l-2 6l3 5l6 2l5 -3l2 -6l-3 -5zM51 27l2 -1l14 0l3 1l5 13l-2 1l-6 -2zM81 43l2 -1l2 1l1 2l-1 2zM88 53l13 5l4 10l2 2l11 5l0 16l-1 3l-11 -5l-2 -2l-2 -8l-4 -8l-7 -7l-3 -5l-1 -4zM725 116l6 -3l26 0l8 6l2 4l0 44l2 5l8 6l4 5l-1 4l-3 3l-30 -3l-4 -4l-4 -10l-12 -6l-6 -18l0 -26zM1123 115l3 0l4 4l5 10l6 3l5 5l5 18l0 8l-2 4l-6 4l-28 1l-2 -1l-2 -4l0 -18l-5 -16l1 -2l9 -4l3 -3zM121 118l12 5l3 8l4 4l7 2l4 3l2 11l-2 1l-8 -4l-7 -7l-4 -10l-3 -4l-8 -6zM199 172l7 15l-2 10l0 72l-2 12l-3 3l-3 -5l0 -84l1 -2l0 -20zM279 185l2 -1l14 0l2 1l2 4l0 24l-2 3l-4 2l-12 0l-2 -1l-2 -4l0 -24zM185 294l4 1l1 2l-2 14l-2 2l-3 -2l0 -14z"/><path fill="#570000" d="M35 1l2 0l0 11l-2 -5zM1127 73l2 4l0 8l-2 7l-7 7l-3 7l-13 9l-5 9l-20 -4l-70 0l-20 3l-10 5l-4 5l0 6l4 5l7 5l3 6l-1 4l1 30l-1 6l-3 6l-4 0l-8 -9l-4 -2l-34 0l-4 2l-3 3l-3 6l-5 4l-11 1l-4 -1l-4 -3l0 -4l8 -6l5 -7l14 -12l2 -4l0 -80l2 -8l0 -6l3 -6l9 -8l2 -4l20 -18l3 -1l32 0l18 -2l7 -5l5 -10l9 -8l2 -4l0 -8l7 0l0 6l4 10l10 6l3 4l2 6l3 3l8 3l16 2l2 2l2 6l4 4l8 3l5 11zM1013 63l-5 4l-1 8l4 5l8 1l5 -4l1 -8l-4 -5zM38 19l1 -1l4 5l-3 0zM55 27l6 -1l8 1l5 12l-7 -1zM89 54l12 5l4 10l4 3l5 1l3 2l1 2l-1 15l-8 -2l-4 -3l-6 -16l-10 -12zM727 116l6 -2l22 0l6 2l3 3l2 6l0 44l2 4l11 9l1 3l-3 3l-6 1l-10 -2l-12 0l-4 -2l-6 -13l-10 -4l-3 -3l-4 -16l0 -24l2 -6zM1125 117l2 0l2 2l5 10l10 6l2 4l4 16l0 8l-4 6l-7 2l-24 0l-3 -2l-1 -4l0 -20l-2 -4l-1 -8l9 -5zM123 121l10 2l1 6l5 6l11 4l3 10l-2 2l-4 -1l-11 -11l-4 -10zM199 175l6 12l-2 10l0 72l-1 8l-3 5l-2 -3l0 -86zM283 184l10 0l5 3l0 26l-4 4l-11 1l-5 -3l0 -28zM187 295l2 4l-2 10l-2 2l-1 -2l0 -12z"/><path fill="#570000" d="M1128 75l-1 15l-8 8l-3 7l-3 3l-7 3l-3 3l-3 7l-3 2l-14 -3l-14 0l-2 -1l-44 0l-2 1l-20 0l-12 2l-11 5l-2 2l-3 8l3 6l11 9l1 3l-1 4l1 30l-3 10l-2 1l-3 -1l-6 -8l-5 -2l-28 -1l-11 3l-7 10l-4 3l-14 0l-3 -3l0 -2l11 -9l4 -7l12 -9l2 -5l1 -6l0 -80l1 -8l3 -6l9 -7l4 -7l9 -6l10 -10l5 -1l40 0l6 -1l8 -6l5 -10l9 -7l3 -7l0 -6l4 0l1 10l3 6l3 3l9 5l3 8l4 4l10 3l13 1l5 9l3 3l9 4l4 10l2 2l8 3zM1015 61l-7 4l-3 8l4 7l8 3l7 -4l3 -8l-4 -7zM59 29l2 -2l7 0l2 2l2 8l-3 1zM91 56l8 2l3 3l1 6l2 3l12 5l1 10l-2 6l-3 0l-6 -3l-3 -3l-2 -10l-4 -8l-8 -8zM727 117l2 -1l30 0l5 5l0 42l1 6l2 5l11 9l0 2l-2 2l-5 1l-12 -2l-10 0l-4 -2l-2 -7l-4 -6l-6 -2l-6 -4l-3 -12l0 -32zM1125 119l2 0l2 2l2 5l4 5l8 4l3 6l2 10l0 14l-4 4l-25 2l-6 -2l-1 -2l0 -18l-3 -14l2 -3l7 -3zM130 123l3 3l-2 0zM136 135l13 4l2 4l0 6l-3 0l-11 -10zM201 181l2 4l-1 10l0 72l-1 9l-2 2l-1 -3l0 -80l1 -2l0 -10zM282 185l12 0l3 2l1 4l0 20l-3 5l-13 1l-3 -2l-1 -4l0 -20l1 -4zM185 298l2 1l-2 7z"/><path fill="#560000" d="M1127 75l0 13l-2 3l-7 6l-4 8l-9 5l-3 3l-3 6l-4 3l-14 -3l-76 0l-16 2l-12 5l-5 7l0 6l2 4l3 3l6 3l3 4l1 34l-2 10l-2 1l-2 -1l-6 -7l-8 -3l-30 0l-8 3l-3 3l-3 6l-6 4l-10 0l-3 -2l0 -2l10 -8l3 -6l13 -10l3 -8l0 -84l1 -8l2 -4l10 -8l3 -6l4 -4l6 -3l7 -9l5 -2l42 0l6 -1l8 -5l5 -10l10 -8l5 -8l4 11l12 7l2 6l4 6l8 3l16 1l8 12l9 4l4 10l3 3l4 1zM1013 60l-7 5l-2 4l0 6l5 7l4 2l6 0l7 -5l2 -4l0 -6l-5 -7l-4 -2zM63 29l2 -1l4 1l0 7zM92 59l7 0l2 2l0 4l4 6l11 4l1 2l0 10l-2 3l-2 0l-8 -5l-3 -14l-2 -4zM727 119l4 -2l26 0l4 2l2 4l0 44l3 8l10 8l-1 3l-26 -1l-4 -3l-2 -7l-4 -5l-9 -3l-2 -2l-3 -12l0 -30zM1127 121l2 2l2 6l5 4l5 2l4 6l2 10l0 14l-6 4l-22 1l-4 -1l-2 -2l-1 -4l1 -12l-3 -14l3 -4l6 -3l5 -7zM140 139l7 0l3 4l-1 4zM281 186l10 -1l4 1l2 3l0 22l-2 4l-2 1l-10 0l-2 -1l-2 -4l0 -22z"/><path fill="#560000" d="M1126 75l1 8l-2 6l-8 6l-5 10l-11 6l-4 8l-2 1l-16 -2l-70 0l-20 2l-8 2l-6 3l-4 6l-1 4l1 6l4 6l8 4l2 3l0 37l-2 4l-6 -6l-8 -3l-36 0l-8 5l-6 10l-10 0l-2 -2l8 -6l6 -10l10 -6l3 -8l0 -82l2 -14l3 -3l6 -3l6 -10l10 -6l6 -9l4 -2l44 0l6 -1l7 -4l4 -10l3 -3l6 -3l4 -5l2 0l6 8l4 1l6 4l4 10l10 4l16 1l2 2l2 7l4 4l7 2l2 2l4 10zM1015 58l-4 1l-6 4l-3 10l1 4l4 6l10 3l4 -1l6 -4l3 -10l-1 -4l-4 -6zM105 72l10 3l2 6l-2 8l-7 -2l-2 -2l-2 -8zM729 119l4 -1l22 0l4 1l2 2l1 4l0 44l3 8l7 6l-1 1l-22 0l-4 -4l-1 -5l-3 -5l-12 -5l-3 -14l0 -26l1 -4zM1127 125l6 8l8 3l3 5l2 12l0 10l-5 5l-26 0l-2 -3l-1 -28l1 -2l8 -4zM283 186l10 0l3 3l0 22l-3 4l-10 0l-2 -1l-1 -3l0 -22z"/><path fill="#560000" d="M1125 76l0 10l-10 7l-4 10l-6 2l-6 4l-3 8l-3 2l-10 -2l-80 0l-22 3l-8 3l-4 6l-1 10l3 8l12 7l0 25l1 2l-1 6l-2 1l-10 -4l-40 0l-2 -1l4 -4l3 -8l0 -86l1 -10l2 -3l8 -3l2 -2l4 -10l10 -4l6 -10l2 -1l32 0l20 -2l6 -3l6 -13l12 -5l6 5l5 1l3 2l2 6l4 6l8 3l18 2l4 9l2 2l8 3l3 3l2 8l3 3l8 2zM1005 59l-2 2l-3 8l0 6l3 8l2 2l8 3l6 0l8 -3l2 -2l3 -8l0 -6l-3 -8l-2 -2l-8 -3l-6 0zM106 75l5 0l4 2l0 9l-2 1l-4 -1l-2 -2zM730 121l3 -1l22 0l4 2l1 3l0 46l4 10l-3 2l-10 0l-4 -2l-3 -10l-5 -4l-8 -2l-2 -4l-1 -8l0 -28zM1115 136l4 -1l8 -5l4 4l10 4l2 5l1 8l0 12l-1 2l-6 2l-20 0l-2 -2l0 -16l-2 -10zM927 185l-6 6l0 -4l2 -2zM285 187l6 0l3 2l0 22l-3 3l-6 0l-3 -3l0 -22zM919 193l0 4l-2 1l-1 -1z"/><path fill="#560000" d="M1099 69l0 6l4 6l-4 6l0 4l-10 4l-4 4l0 2l-2 2l0 4l-114 0l-2 2l-6 2l-6 8l0 34l6 8l10 4l0 6l-22 0l0 -86l10 -4l4 -4l0 -2l2 -2l0 -4l10 -4l4 -4l0 -2l2 -2l0 -4l8 0l-2 2l0 34l6 8l2 0l6 4l30 0l2 -2l6 -2l4 -4l0 -2l2 -2l0 -34l-4 -6l2 -2l2 -10l6 0l0 6l2 2l0 2l10 6l20 0l0 6l2 2l0 2l10 6zM741 133l6 0l0 24l-2 -2l-4 0zM1125 149l6 0l0 6l-6 0z"/><path fill="#f3f3ff" d="M48 1l1 -3l224 1l4 2l-1 6l-13 14l-2 4l1 12l4 8l8 8l5 2l4 0l4 -4l5 -12l3 -2l16 -3l16 0l20 3l20 9l5 7l0 6l-2 4l-3 3l-6 3l-4 4l-3 6l-7 5l-6 0l-4 -2l-3 -3l-3 -6l-4 -3l-8 0l-4 1l-2 2l1 2l8 6l2 4l1 14l-7 20l0 34l-2 8l-5 7l-4 1l-72 0l-2 -1l-14 0l-14 -9l-14 -1l-10 -3l-6 -6l-10 -6l-8 -10l-10 -6l-7 -10l-9 -6l-4 -6l-1 -4l0 -28l-2 -4l-9 -6l-7 -10l-9 -6l-7 -10l-11 -8l-6 -9l-4 -2l-10 -1l-8 -3l-5 -7zM315 1l4 -2l12 0l3 2l0 4l-5 7l-4 0l-8 -5zM381 87l1 -6l11 -8l4 -6l9 -20l3 -2l32 5l12 3l5 4l-1 8l-4 6l-16 16l-14 7l-16 5l-6 -3l-12 -3l-6 -3zM540 85l2 -4l5 -4l8 -2l26 -1l28 13l4 6l1 8l-1 4l-4 6l-6 5l-8 4l-10 3l-32 0l-5 -2l-8 -18l-1 -4zM363 328l3 5l0 10l-5 12l-1 10l-2 6l-3 3l-6 2l-8 0l-6 -2l-3 -5l1 -10l6 -5l18 -3l2 -4l-1 -18zM243 345l10 1l5 3l3 4l2 6l0 6l-3 8l-13 13l-20 -15l-7 -8l0 -4l3 -4l8 -5z"/><path fill="#e3e3ff" d="M48 1l3 -3l136 0l2 1l76 0l8 2l0 6l-12 12l-3 6l2 12l4 8l7 8l6 3l6 1l5 -4l3 -10l3 -4l15 -4l16 0l8 2l8 0l8 2l6 3l12 10l1 5l-1 3l-19 19l-3 1l-5 -1l-11 -12l-18 2l-2 2l0 3l12 13l0 16l-4 12l1 36l-2 8l-4 8l-3 1l-18 0l-2 1l-70 -1l-8 -6l-8 -4l-20 -2l-6 -6l-10 -6l-12 -13l-8 -4l-6 -9l-10 -7l-4 -6l-1 -4l0 -28l-1 -3l-4 -4l-6 -3l-6 -9l-10 -7l-6 -9l-10 -7l-8 -11l-4 -2l-14 -2l-4 -2l-4 -5zM319 1l2 -1l10 0l1 1l-1 7l-2 2l-4 0l-4 -2l-2 -3zM385 87l1 -4l9 -9l11 -23l3 -3l14 0l18 3l14 4l2 4l-3 8l-19 19l-8 5l-20 5l-16 -4l-4 -2zM543 87l6 -7l4 -2l10 -2l20 0l4 1l19 10l5 6l1 10l-2 4l-8 8l-17 7l-32 0l-4 -2l-2 -3l-3 -10zM361 329l2 1l1 3l0 8l-1 4l-2 2l-2 -16zM245 345l6 1l6 3l4 5l2 7l-1 6l-3 6l-10 9l-4 0l-10 -6l-13 -13l1 -6l12 -9zM359 355l0 8l-4 9l-8 3l-6 0l-7 -4l-2 -8l3 -6l10 -4l12 0z"/><path fill="#d6d6ff" d="M48 1l3 -3l130 0l18 2l68 0l3 1l0 4l-2 4l-11 10l-2 4l3 14l9 15l12 6l6 0l5 -3l2 -4l1 -8l2 -3l12 -4l14 0l8 2l16 1l6 3l10 8l3 7l-2 4l-13 13l-4 2l-6 -2l-8 -9l-4 -2l-20 5l-2 3l0 2l11 12l2 4l0 14l-3 16l2 16l0 20l-2 6l-4 6l-4 1l-20 0l-2 1l-50 -1l-2 -1l-12 1l-4 -1l-8 -7l-12 -3l-10 0l-5 -2l-9 -8l-6 -3l-12 -13l-8 -4l-5 -8l-5 -5l-6 -3l-4 -6l-1 -4l0 -28l-1 -3l-4 -4l-6 -3l-5 -8l-5 -5l-6 -3l-5 -8l-5 -5l-6 -3l-8 -11l-6 -3l-12 -1l-4 -2l-4 -5zM322 1l3 -1l5 1l-1 6l-4 1l-2 -2zM389 85l6 -6l12 -26l4 -3l26 1l16 4l2 2l0 4l-4 6l-18 18l-8 5l-14 3l-6 0l-10 -2l-5 -2zM546 89l3 -5l10 -5l12 -2l14 1l18 9l6 8l1 8l-2 4l-7 7l-16 7l-30 0l-6 -4l-3 -14zM243 346l8 0l6 3l5 8l0 8l-2 6l-11 9l-4 0l-10 -5l-8 -8l-4 -6l2 -4l10 -8zM334 359l7 -5l6 -1l8 1l3 3l-1 10l-6 6l-10 1l-6 -4l-2 -5z"/><path fill="#c8c8ff" d="M48 1l3 -3l126 0l20 2l62 0l7 1l-1 7l-11 7l-2 4l0 6l5 13l8 13l5 4l13 5l6 -1l4 -3l2 -13l2 -2l10 -4l12 0l10 3l16 1l4 2l9 8l2 6l-2 4l-9 9l-4 2l-6 -2l-6 -7l-6 -3l-10 4l-12 2l-4 3l1 4l8 8l5 8l-1 32l3 22l0 10l-4 11l-2 2l-10 2l-20 0l-2 1l-4 -1l-56 -1l-12 -8l-8 -2l-12 0l-6 -3l-5 -5l-9 -5l-12 -13l-8 -4l-5 -8l-5 -5l-6 -3l-4 -6l-1 -32l-1 -3l-4 -4l-6 -3l-5 -8l-5 -5l-6 -3l-5 -8l-5 -5l-6 -3l-9 -12l-5 -2l-6 0l-8 -2l-3 -2l-3 -4zM453 57l0 4l-26 26l-12 3l-12 0l-8 -3l4 -14l8 -17l4 -4l18 -1l14 2zM549 91l2 -4l6 -5l10 -3l14 0l11 4l9 5l4 4l3 7l0 4l-2 4l-5 5l-18 8l-26 0l-3 -1l-3 -4l-2 -10zM237 348l6 -2l10 1l8 8l1 4l-1 8l-2 4l-8 7l-4 1l-12 -5l-5 -5l-5 -8l2 -4zM335 359l8 -5l8 0l5 3l1 6l-2 5l-3 3l-5 2l-6 0l-5 -4l-2 -4z"/><path fill="#b8b8ff" d="M49 0l4 -2l122 0l28 3l0 2l2 2l6 1l20 0l12 3l4 6l1 8l8 16l5 6l4 8l14 7l16 2l4 11l9 8l4 6l1 4l0 30l3 18l0 16l-3 8l-6 4l-10 0l-2 1l-36 0l-2 -1l-18 0l-2 -1l-18 1l-14 -9l-16 -1l-6 -2l-8 -7l-9 -5l-8 -10l-9 -5l-5 -5l-2 -4l-14 -12l-1 -2l0 -28l-1 -6l-5 -5l-4 -2l-5 -5l-2 -4l-5 -5l-4 -2l-5 -5l-2 -4l-5 -5l-4 -2l-12 -14l-18 -3l-6 -8zM297 45l4 -5l6 -2l12 0l12 6l10 -2l6 2l9 9l1 4l-12 12l-4 -1l-11 -11l-3 -1l-10 6l-16 1l-4 -2zM401 81l0 -8l3 -8l5 -8l6 -4l4 -1l20 1l11 4l1 2l-24 25l-4 2l-16 1l-4 -2zM553 89l4 -4l6 -3l20 -1l8 3l8 5l4 4l3 6l-1 7l-4 4l-18 8l-4 1l-22 -1l-2 -1l-3 -8zM245 346l4 0l8 4l5 9l0 4l-3 8l-6 5l-6 2l-12 -5l-4 -4l-4 -8l0 -2l8 -9zM345 354l4 0l6 3l1 6l-5 7l-4 2l-6 0l-4 -3l-2 -4l0 -5l4 -4z"/><path fill="#a4a4ff" d="M49 0l4 -2l118 0l2 1l16 0l10 2l1 6l5 3l10 2l16 0l6 2l10 11l7 14l5 5l7 11l15 7l10 3l4 6l14 14l3 14l0 20l4 26l0 8l-4 10l-3 3l-4 1l-12 0l-2 1l-24 0l-2 -1l-16 0l-16 -2l-2 1l-12 0l-14 -8l-14 -1l-8 -2l-8 -7l-10 -6l-8 -10l-8 -4l-5 -5l-2 -4l-14 -12l-1 -2l0 -30l-2 -6l-8 -5l-5 -5l-2 -4l-5 -5l-4 -2l-5 -5l-2 -4l-5 -5l-4 -2l-12 -14l-14 -2l-6 -3l-4 -6zM305 40l12 -1l4 2l3 4l-1 10l-5 4l-5 2l-8 -1l-3 -3l-2 -6l1 -8zM341 46l5 1l7 8l-1 4l-7 6l-4 -1l-6 -6l-1 -7l4 -4zM404 79l-1 -4l1 -6l7 -11l5 -3l7 -2l14 1l9 3l1 2l-24 24l-10 1l-6 -2zM554 97l3 -8l4 -4l6 -2l16 0l8 3l7 5l5 7l1 5l-3 5l-14 5l-2 2l-6 2l-12 1l-6 -1l-5 -4l-2 -6zM239 348l12 -1l4 2l6 8l0 8l-2 5l-4 4l-6 3l-4 0l-8 -3l-5 -5l-4 -8l3 -6zM338 357l5 -2l8 0l3 2l1 6l-4 6l-4 2l-6 0l-3 -2l-3 -6l0 -2z"/><path fill="#9090ff" d="M49 0l4 -2l114 0l2 1l16 0l12 2l0 4l4 6l6 1l10 4l12 0l8 3l11 10l3 8l6 6l8 12l24 11l18 19l3 8l1 24l4 24l0 14l-2 6l-2 3l-4 2l-18 2l-18 0l-28 -3l-24 1l-7 -5l-7 -3l-22 -3l-8 -7l-10 -6l-8 -10l-8 -4l-5 -5l-2 -4l-14 -12l-1 -4l0 -28l-2 -6l-8 -5l-5 -5l-2 -4l-5 -5l-4 -2l-5 -5l-2 -4l-5 -5l-4 -2l-12 -14l-8 -2l-6 0l-6 -3l-4 -6zM164 51l-1 2l2 3l4 2l4 -1l-1 -4l-3 -3zM311 40l6 1l3 4l-1 10l-2 2l-6 2l-4 -2l-3 -4l1 -10zM340 51l3 -1l5 3l1 4l-2 3l-4 1l-4 -3l-1 -3zM442 57l1 2l-1 2l-17 17l-4 2l-10 0l-4 -3l-1 -2l1 -7l10 -11l4 -2l14 0zM556 97l3 -7l8 -5l6 -1l14 2l14 13l1 4l-3 4l-12 3l-6 4l-8 2l-8 0l-6 -3l-3 -6zM243 347l10 1l7 7l1 4l-1 8l-3 5l-6 4l-8 0l-6 -3l-4 -4l-4 -8l3 -6l5 -5zM336 361l3 -4l4 -2l8 1l3 3l0 4l-2 4l-7 4l-4 -1l-4 -4z"/><path fill="#7b7cfe" d="M49 1l2 -2l4 -1l108 0l2 1l18 0l12 2l0 4l2 4l5 4l5 1l10 5l12 0l12 5l5 5l5 10l4 3l10 14l4 1l20 11l13 13l5 7l2 7l2 28l4 22l0 8l-4 10l-6 3l-20 2l-12 0l-32 -4l-24 1l-10 -7l-23 -3l-7 -6l-10 -6l-10 -11l-8 -4l-5 -5l-3 -6l-12 -9l-2 -5l0 -28l-2 -6l-8 -5l-5 -5l-3 -6l-8 -5l-5 -5l-3 -6l-8 -5l-5 -5l-5 -8l-4 -2l-10 -1l-8 -3l-4 -6zM159 49l0 4l4 4l6 3l10 1l-3 -8l-6 -6l-7 -1zM310 43l4 0l2 4l0 4l-3 4l-3 0l-2 -4l0 -4zM437 59l-6 6l-6 9l-4 2l-8 0l-4 -2l0 -4l12 -12l2 -1l10 0zM557 103l1 -6l5 -8l8 -3l14 2l13 13l0 2l-2 2l-9 2l-10 6l-8 2l-6 -2l-4 -4zM245 347l4 0l5 2l5 5l2 5l0 4l-4 8l-8 5l-4 0l-7 -3l-5 -5l-3 -7l1 -4l6 -7zM337 360l4 -4l8 0l5 5l-3 6l-3 2l-5 1l-6 -5z"/><path fill="#5f65fa" d="M49 1l2 -2l4 -1l104 0l2 1l28 1l5 1l0 6l3 5l18 8l14 1l11 4l5 4l5 10l8 8l5 8l13 6l12 8l17 18l2 4l2 12l1 18l4 22l0 12l-3 7l-2 2l-6 2l-20 1l-2 1l-24 -2l-18 -3l-10 0l-10 2l-12 -7l-20 -2l-6 -3l-8 -7l-6 -3l-11 -12l-8 -4l-7 -10l-11 -8l-3 -6l0 -30l-2 -4l-9 -6l-7 -10l-9 -6l-7 -10l-12 -9l-6 -9l-4 -2l-10 -1l-8 -3l-4 -6zM157 44l-1 9l3 3l16 9l6 8l2 -1l0 -7l-4 -12l-10 -10l-4 -1zM581 90l3 3l2 6l-2 6l-3 3l-10 5l-4 0l-4 -2l-4 -6l0 -4l4 -8l6 -4zM247 347l8 3l3 3l3 8l-3 8l-7 6l-8 0l-6 -3l-3 -3l-3 -6l0 -4l2 -4l7 -6zM337 361l2 -3l4 -2l7 1l3 4l-2 4l-6 4l-4 -1l-3 -3z"/><path fill="#424ff6" d="M49 1l2 -2l6 -1l100 0l2 1l30 1l3 1l1 8l4 5l14 6l18 2l12 5l4 4l4 8l16 18l10 4l16 12l11 12l3 5l4 19l0 10l5 26l0 8l-3 8l-6 4l-6 1l-30 1l-28 -4l-6 -2l-10 3l-8 0l-10 -6l-10 -2l-8 0l-6 -2l-10 -8l-6 -3l-11 -12l-9 -5l-8 -11l-9 -6l-3 -6l0 -30l-2 -4l-10 -7l-6 -9l-10 -7l-6 -9l-10 -7l-8 -11l-4 -2l-10 -1l-8 -3l-3 -4zM155 43l-1 2l1 9l17 11l9 10l2 0l1 -10l-2 -10l-2 -4l-11 -10l-10 0zM569 91l6 1l4 3l2 4l-1 6l-4 4l-5 2l-6 -1l-4 -5l0 -4l2 -5zM243 348l10 1l4 3l3 5l0 8l-2 4l-3 3l-6 3l-4 0l-8 -4l-5 -8l0 -4l3 -6zM341 357l4 -1l4 1l2 2l1 4l-5 5l-6 -1l-3 -4l0 -2z"/><path fill="#2b3af1" d="M49 1l2 -2l6 -1l96 0l2 1l32 1l4 1l0 8l6 7l18 6l8 0l10 2l8 4l3 3l4 8l10 10l6 8l13 6l10 8l15 16l3 6l2 8l2 22l5 26l-1 6l-3 6l-7 4l-6 1l-26 1l-20 -3l-16 -4l-4 0l-6 3l-6 1l-8 -5l-6 -2l-16 -1l-6 -2l-8 -7l-8 -4l-12 -13l-8 -4l-8 -11l-9 -6l-3 -6l0 -30l-2 -4l-4 -4l-6 -3l-6 -9l-10 -7l-6 -9l-10 -7l-8 -11l-4 -2l-10 -1l-6 -2l-5 -5zM155 41l-2 2l1 12l9 5l18 16l2 0l2 -3l-1 -14l-5 -12l-6 -6l-4 -2zM569 94l4 1l5 6l-1 4l-6 4l-4 0l-4 -4l0 -4l2 -4zM241 349l4 -1l7 1l7 7l1 3l-1 7l-8 8l-4 1l-8 -3l-6 -7l-1 -6l2 -4zM341 358l6 -1l3 2l1 4l-4 4l-4 0l-4 -3l0 -4z"/><path fill="#1e29ea" d="M49 1l2 -2l8 -1l92 0l2 1l32 1l4 1l1 10l5 6l16 5l20 2l7 3l5 4l6 10l14 16l10 4l10 9l4 2l15 17l4 12l3 26l4 18l0 8l-2 6l-4 4l-6 2l-14 2l-14 0l-24 -4l-12 -4l-6 0l-8 4l-6 0l-8 -5l-8 -2l-10 0l-9 -3l-4 -4l-13 -8l-6 -8l-10 -6l-8 -10l-12 -10l-2 -6l0 -28l-2 -4l-8 -6l-8 -10l-8 -6l-8 -10l-12 -10l-6 -8l-4 -2l-16 -3l-4 -4zM155 40l-3 3l1 11l2 3l8 4l16 15l4 2l2 -2l0 -15l-2 -10l-3 -6l-5 -5l-4 -2zM564 103l2 -4l3 -2l4 2l2 4l-2 3l-4 2zM245 348l4 0l6 3l5 8l-3 10l-8 5l-4 0l-8 -4l-4 -7l0 -4l3 -6zM339 361l1 -2l5 -2l4 2l1 4l-5 4l-4 -2z"/><path fill="#1117e3" d="M50 1l3 -2l8 -1l116 1l11 2l1 12l6 6l18 4l16 1l10 4l5 5l4 8l7 6l4 6l4 4l12 6l8 8l4 2l8 8l6 9l5 15l1 12l6 32l-3 10l-3 3l-8 3l-14 2l-10 0l-18 -3l-24 -7l-14 6l-12 -6l-20 -2l-6 -3l-4 -4l-12 -7l-6 -8l-10 -6l-6 -8l-14 -12l-2 -6l0 -28l-2 -5l-8 -5l-6 -8l-6 -6l-4 -2l-6 -8l-6 -6l-4 -2l-10 -12l-6 -3l-6 0l-9 -3l-3 -3zM155 39l-4 6l1 8l2 4l9 5l18 17l2 1l2 -1l1 -4l-1 -18l-2 -8l-4 -8l-6 -4l-8 0zM569 101l2 2l-2 2l-2 -2zM243 349l8 0l8 8l-1 10l-5 5l-4 2l-4 0l-6 -3l-6 -8l0 -4l2 -4zM340 361l3 -3l4 0l2 2l0 3l-2 2l-4 1l-3 -3z"/><path fill="#0a0fdd" d="M50 1l3 -2l10 -1l82 0l2 1l36 1l4 1l0 12l4 6l10 3l24 2l8 2l6 3l4 4l6 10l5 4l8 10l11 5l9 9l5 3l7 7l9 16l3 12l1 12l5 24l-1 12l-4 4l-6 3l-24 3l-26 -5l-16 -6l-14 6l-4 0l-10 -5l-20 -2l-4 -2l-6 -5l-12 -7l-8 -10l-8 -4l-6 -8l-14 -12l-2 -6l0 -30l-4 -5l-6 -3l-6 -8l-6 -6l-4 -2l-6 -8l-6 -6l-4 -2l-10 -12l-6 -3l-6 0l-9 -3l-4 -6zM154 39l-3 4l0 8l2 6l10 6l18 17l4 1l2 -8l-3 -24l-4 -10l-9 -4zM200 99l1 4l2 1l1 -3zM241 350l10 -1l8 8l0 6l-2 5l-6 5l-8 0l-6 -4l-2 -3l-1 -9zM342 359l3 -1l2 1l1 4l-5 2l-2 -2z"/><path fill="#080dd9" d="M50 1l3 -2l10 0l2 -1l110 1l10 2l1 16l2 4l35 3l8 2l8 4l20 25l16 9l6 7l12 10l9 16l4 16l1 12l5 24l-3 10l-6 4l-12 3l-20 0l-14 -4l-4 0l-18 -7l-4 0l-5 4l-5 2l-4 0l-6 -3l-8 -2l-14 -1l-6 -2l-6 -5l-9 -5l-11 -12l-8 -4l-6 -8l-14 -12l-2 -8l0 -28l-4 -5l-6 -3l-6 -8l-6 -6l-4 -2l-6 -8l-6 -6l-4 -2l-12 -14l-14 -2l-6 -3l-3 -5zM153 39l-3 4l1 10l2 4l9 6l23 21l2 -3l0 -16l-2 -14l-4 -14l-4 -3l-8 0zM199 96l-1 1l1 6l6 2l2 -2zM236 355l3 -3l6 -3l4 0l6 3l4 7l0 4l-3 6l-7 4l-4 0l-6 -3l-5 -7l0 -4zM342 361l3 -2l2 1l0 3l-4 1z"/><path fill="#060cd5" d="M50 1l3 -2l12 0l2 -1l74 0l2 1l38 1l3 1l0 20l1 3l8 -1l28 1l6 1l10 4l6 6l3 6l15 16l14 8l20 20l6 12l4 14l4 28l2 6l0 8l-2 5l-3 3l-11 4l-22 1l-24 -6l-8 -3l-6 -4l-2 0l-8 6l-6 2l-14 -5l-16 -1l-6 -2l-4 -4l-12 -7l-10 -11l-8 -4l-4 -4l-3 -6l-13 -10l-1 -2l0 -28l-2 -8l-3 -3l-6 -3l-4 -4l-3 -6l-3 -3l-6 -3l-4 -4l-3 -6l-13 -10l-5 -8l-7 -3l-10 -1l-6 -3l-3 -5zM153 38l-3 3l0 10l2 6l3 3l6 3l24 23l2 0l1 -1l-1 -24l-6 -30l-12 2l-10 4zM197 92l0 9l1 2l5 3l6 0l1 -1l-1 -2zM247 349l6 2l6 8l-2 8l-8 6l-8 -2l-4 -4l-3 -6l2 -6l3 -3zM343 361l2 -1l1 1l-1 1z"/><path fill="#040bd1" d="M50 1l3 -2l14 0l2 -1l70 0l2 1l30 0l13 2l-1 18l-3 8l-3 3l-26 9l-2 6l1 8l3 6l8 5l26 24l4 -1l-3 -8l-1 -22l-3 -14l1 -14l2 -2l8 -3l22 0l12 2l8 4l22 26l14 8l21 21l7 14l3 10l4 28l3 12l-2 8l-8 6l-14 3l-14 0l-22 -6l-10 -4l-7 -5l-3 1l-6 6l-4 2l-6 0l-10 -4l-14 -1l-7 -2l-9 -7l-8 -4l-10 -11l-10 -6l-8 -11l-8 -5l-3 -6l0 -28l-2 -6l-11 -8l-5 -8l-3 -3l-6 -3l-4 -4l-3 -6l-13 -10l-3 -6l-3 -3l-20 -5l-5 -6zM193 89l4 13l4 4l10 2l3 -1l-12 -12l-3 -5zM243 350l8 0l7 7l-1 9l-6 6l-9 -1l-5 -4l-2 -4l0 -4l2 -4z"/><path fill="#0209cd" d="M50 1l3 -2l18 0l2 -1l62 0l2 1l34 0l12 2l0 10l-2 10l-2 4l-4 4l-14 6l-8 2l-4 4l1 14l5 6l4 2l14 13l10 11l10 6l2 6l4 6l10 3l7 5l1 5l10 6l2 0l-1 -3l-5 -2l-5 -4l-3 -10l-6 -4l-6 -6l-2 -4l-8 -5l-4 -5l-2 -28l-2 -8l0 -12l4 -6l12 -3l22 1l10 3l7 5l5 8l16 17l14 8l17 17l8 16l5 18l3 22l2 6l-1 11l-5 5l-5 2l-14 3l-10 0l-22 -6l-11 -5l-6 -4l-3 -5l-4 7l-4 4l-6 3l-12 -4l-20 -2l-6 -3l-6 -5l-8 -4l-10 -11l-10 -6l-8 -11l-8 -5l-3 -6l0 -28l-2 -6l-4 -4l-7 -4l-5 -8l-11 -8l-5 -8l-11 -8l-8 -11l-4 -2l-10 -1l-6 -2l-4 -4zM242 351l7 -1l6 3l2 3l1 7l-6 8l-7 1l-4 -2l-5 -5l-1 -6l2 -4z"/><path fill="#0008c8" d="M50 1l3 -2l116 0l13 2l-1 16l-4 8l-9 6l-18 8l-2 4l2 12l5 7l4 2l26 25l8 6l3 8l3 3l12 4l5 9l13 9l1 -1l-1 -7l-6 -3l-4 -4l-3 -8l-7 -5l-5 -5l-2 -4l-3 -3l-6 -3l-3 -4l-5 -44l2 -6l4 -4l8 -2l22 0l8 2l8 4l22 26l14 8l18 18l4 6l9 26l3 22l3 10l0 6l-2 4l-7 5l-10 3l-8 1l-12 -1l-10 -4l-6 -1l-16 -8l-6 -11l0 -2l-2 1l-1 9l-2 4l-4 4l-5 2l-4 0l-4 -2l-10 -2l-14 -1l-4 -2l-6 -5l-11 -6l-7 -9l-12 -7l-5 -8l-11 -8l-3 -6l0 -30l-3 -6l-10 -6l-5 -8l-11 -8l-5 -8l-11 -8l-8 -11l-4 -2l-10 -1l-6 -2l-4 -4zM245 350l4 0l4 2l5 7l0 4l-2 4l-7 5l-8 -2l-3 -3l-3 -6l1 -4l5 -5z"/><path fill="#0005c1" d="M50 1l3 -2l116 0l12 2l0 12l-4 10l-12 9l-13 5l-4 4l1 12l2 5l5 5l5 3l24 24l7 5l3 7l5 5l9 3l4 4l2 5l4 4l7 4l3 4l1 4l-1 14l-2 4l-8 6l-10 -3l-20 -2l-6 -2l-6 -5l-12 -7l-6 -8l-9 -5l-6 -6l-2 -4l-12 -10l-2 -4l0 -30l-3 -6l-7 -4l-6 -6l-2 -4l-7 -5l-7 -7l-2 -4l-14 -12l-5 -7l-4 -2l-10 -1l-6 -2l-4 -5zM190 29l3 -2l10 -2l16 0l14 4l8 7l8 11l10 10l12 7l21 21l5 10l6 18l4 26l2 6l0 8l-4 6l-8 4l-18 3l-10 -2l-20 -7l-7 -4l-4 -4l-6 -16l-1 -10l-2 -4l-6 -3l-3 -3l-3 -8l-8 -6l-10 -12l-6 -3l-3 -5l-2 -26l-2 -8l0 -8l1 -4zM243 351l6 -1l4 2l5 7l-1 6l-6 6l-6 0l-4 -2l-5 -6l1 -7z"/><path fill="#0003b9" d="M50 1l3 -2l114 0l14 2l-1 12l-3 8l-12 10l-10 4l-6 4l-2 4l2 12l6 8l6 4l24 24l6 4l4 8l4 4l10 4l6 9l11 9l3 6l-1 14l-2 4l-7 5l-4 0l-10 -3l-20 -2l-18 -12l-9 -10l-8 -4l-5 -5l-2 -4l-13 -11l-2 -4l0 -30l-3 -6l-8 -5l-6 -8l-5 -5l-4 -2l-5 -5l-2 -4l-14 -12l-6 -8l-4 -2l-12 -2l-6 -3zM193 28l6 -2l18 -1l10 2l8 4l23 26l15 9l15 15l3 4l9 20l4 16l2 16l3 10l0 6l-6 7l-10 4l-20 1l-18 -6l-10 -5l-6 -5l-6 -16l-3 -14l-9 -6l-5 -10l-9 -6l-5 -8l-9 -6l-3 -6l-1 -18l-2 -10l0 -14zM245 351l6 0l6 6l0 6l-2 4l-6 4l-4 0l-4 -2l-4 -4l-1 -4l2 -6z"/><path fill="#0000b1" d="M51 1l4 -2l110 0l15 2l0 8l-2 8l-3 5l-14 11l-10 4l-4 4l2 14l2 4l22 20l10 11l7 5l6 10l12 6l4 4l3 6l10 8l3 6l0 8l-3 10l-8 5l-10 -3l-20 -2l-20 -12l-10 -11l-8 -4l-5 -7l-14 -12l-2 -4l0 -30l-3 -6l-8 -5l-5 -7l-7 -7l-4 -2l-5 -7l-7 -7l-4 -2l-10 -12l-4 -2l-12 -2l-6 -3l-2 -4zM193 29l8 -3l20 0l12 4l6 5l16 20l8 6l8 4l18 18l5 8l6 16l3 12l3 20l2 6l0 8l-3 5l-10 5l-8 2l-12 0l-18 -6l-12 -6l-6 -6l-6 -16l-1 -8l-3 -6l-6 -3l-5 -9l-5 -5l-4 -2l-5 -7l-6 -6l-5 -3l-2 -3l-2 -12l-2 -30zM245 351l4 0l4 2l4 6l0 4l-2 4l-6 4l-4 0l-6 -4l-3 -6l1 -4z"/><path fill="#0000ab" d="M51 1l4 -2l110 0l14 2l0 10l-3 8l-13 12l-12 5l-4 5l1 12l3 7l38 35l9 12l9 4l4 4l4 7l9 7l3 6l0 10l-2 7l-6 5l-32 -4l-20 -12l-10 -11l-8 -4l-8 -11l-8 -5l-4 -5l-2 -36l-4 -4l-6 -3l-8 -11l-8 -5l-8 -11l-11 -8l-5 -8l-6 -3l-8 -1l-8 -3l-4 -5zM194 29l11 -3l16 0l9 3l10 8l17 20l16 10l16 17l6 11l5 14l8 38l0 6l-5 6l-12 5l-16 1l-25 -10l-10 -8l-7 -18l-2 -10l-8 -6l-6 -10l-6 -4l-6 -6l-2 -4l-10 -8l-2 -4l-3 -28l0 -12l1 -3zM245 351l4 0l4 2l4 6l-1 6l-5 5l-4 1l-5 -2l-5 -6l0 -4l2 -4z"/><path fill="#0000a5" d="M51 1l4 -2l108 0l16 2l0 6l-4 12l-10 10l-14 7l-5 5l2 14l5 8l6 4l28 27l8 11l12 7l5 5l2 4l9 8l3 4l1 6l-2 12l-8 6l-8 -2l-22 -2l-20 -12l-10 -11l-8 -4l-8 -11l-8 -5l-4 -5l-1 -4l0 -30l-5 -6l-6 -3l-8 -11l-8 -5l-8 -11l-11 -8l-5 -8l-8 -4l-10 -1l-4 -2l-4 -5zM195 29l12 -3l12 0l8 2l6 3l10 10l11 14l17 11l18 19l7 14l4 12l5 28l3 10l-2 6l-5 5l-16 5l-8 0l-20 -7l-8 -4l-8 -7l-7 -16l-1 -8l-2 -5l-7 -5l-6 -10l-7 -5l-9 -11l-9 -7l-2 -5l-3 -36l1 -4zM243 352l6 -1l7 6l1 4l-2 5l-3 3l-7 1l-6 -4l-2 -7z"/><path fill="#0000a0" d="M51 1l4 -2l108 0l15 2l-1 12l-4 7l-9 9l-9 5l-2 0l-6 5l-1 8l2 8l3 6l22 20l16 16l8 10l11 6l7 10l9 8l2 6l-2 14l-4 4l-3 1l-32 -4l-18 -11l-10 -11l-8 -4l-3 -3l-3 -6l-4 -4l-6 -3l-4 -5l-1 -4l0 -30l-5 -6l-6 -3l-3 -3l-3 -6l-4 -4l-6 -3l-10 -13l-6 -3l-3 -3l-5 -8l-4 -3l-14 -2l-4 -2l-4 -5zM193 31l6 -3l12 -2l6 0l12 3l10 8l10 13l7 7l17 11l8 10l4 3l5 6l4 8l8 26l1 10l4 16l0 6l-4 5l-10 5l-16 2l-8 -2l-20 -10l-6 -5l-7 -13l-4 -16l-9 -8l-3 -6l-11 -9l-5 -7l-12 -12l-2 -10l0 -14l-2 -12l1 -4zM238 357l3 -3l6 -3l4 1l5 5l0 6l-3 5l-4 2l-4 0l-6 -5l-2 -4z"/><path fill="#04009e" d="M51 1l4 -2l106 0l17 2l-1 10l-6 10l-8 8l-12 6l-4 4l-2 4l2 10l6 11l8 6l29 29l4 6l13 8l8 11l8 7l2 4l0 8l-2 8l-6 5l-32 -4l-20 -13l-6 -8l-11 -6l-5 -8l-4 -4l-7 -4l-3 -4l-1 -6l0 -28l-2 -4l-10 -6l-5 -8l-4 -4l-6 -3l-3 -3l-3 -6l-4 -4l-6 -3l-10 -13l-20 -5l-3 -3zM194 31l11 -4l10 -1l10 2l8 4l11 11l9 12l18 12l16 17l4 6l8 21l8 38l-2 6l-4 4l-6 3l-14 3l-8 -1l-20 -9l-8 -6l-10 -18l-2 -10l-2 -4l-8 -7l-4 -7l-8 -6l-8 -10l-10 -9l-2 -5l-2 -34zM245 352l7 1l4 6l-1 6l-6 5l-5 -1l-6 -6l0 -4l2 -4z"/><path fill="#0a009d" d="M51 1l4 -2l106 0l16 2l-1 10l-6 10l-9 9l-7 3l-8 6l-1 6l3 12l3 5l46 46l9 5l16 18l3 8l-3 12l-5 4l-20 -1l-13 -3l-15 -9l-10 -11l-8 -4l-6 -6l-2 -4l-12 -10l-2 -4l0 -26l-3 -10l-7 -4l-6 -6l-2 -4l-8 -6l-6 -6l-2 -4l-14 -12l-6 -8l-20 -5l-4 -7zM195 31l12 -4l18 1l6 3l24 26l10 6l10 8l15 18l9 24l7 34l0 6l-3 4l-12 6l-16 1l-24 -11l-5 -4l-10 -16l-2 -10l-3 -7l-37 -37l-2 -4l-3 -34l2 -6zM245 352l4 0l4 2l3 5l-1 5l-5 5l-7 -1l-4 -4l-1 -3l1 -4z"/><path fill="#0f009c" d="M51 1l4 -2l104 0l17 2l0 8l-3 7l-12 13l-11 6l-5 5l-1 3l3 12l6 10l10 8l24 24l6 8l12 8l16 18l3 6l-1 10l-2 4l-6 4l-28 -3l-18 -10l-10 -11l-8 -4l-6 -6l-2 -4l-12 -10l-2 -4l0 -28l-3 -8l-7 -4l-6 -6l-2 -4l-8 -6l-6 -6l-2 -4l-14 -12l-6 -8l-18 -4l-3 -2l-3 -6zM196 31l7 -3l6 -1l10 0l8 2l6 4l10 10l10 13l16 10l19 21l6 12l4 12l7 32l1 8l-5 7l-8 4l-8 2l-10 0l-20 -9l-10 -8l-10 -18l-3 -12l-10 -10l-2 -4l-9 -7l-7 -9l-9 -8l-3 -6l-2 -34zM247 352l4 1l5 6l-2 6l-5 4l-6 -1l-5 -7l1 -4z"/><path fill="#15009d" d="M51 1l6 -2l100 0l19 2l-1 10l-5 8l-7 8l-12 7l-6 5l-1 6l2 8l5 10l44 44l12 8l15 18l1 10l-4 10l-2 1l-16 0l-14 -2l-19 -11l-9 -10l-10 -6l-6 -8l-12 -10l-2 -4l0 -28l-2 -7l-10 -7l-6 -8l-8 -6l-6 -6l-2 -4l-14 -12l-6 -8l-4 -2l-10 -1l-6 -3l-3 -4zM194 33l7 -4l10 -2l8 0l12 5l15 15l2 4l6 6l17 11l14 16l5 7l5 12l10 42l0 8l-6 6l-14 5l-8 0l-9 -3l-17 -9l-5 -5l-10 -16l-2 -10l-3 -6l-7 -6l-2 -4l-15 -14l-14 -16l-3 -34l1 -4zM247 352l4 1l4 4l0 6l-6 6l-8 -3l-2 -3l0 -5l2 -3z"/><path fill="#1a009e" d="M52 1l5 -2l100 0l18 2l0 8l-9 14l-5 5l-12 7l-4 4l-1 6l3 12l6 9l9 7l22 22l7 9l14 10l15 17l3 6l-3 14l-5 3l-12 0l-18 -3l-18 -11l-8 -9l-10 -6l-6 -8l-12 -10l-2 -4l0 -30l-2 -5l-4 -4l-6 -3l-6 -8l-10 -8l-6 -8l-10 -8l-10 -12l-20 -6l-3 -4zM195 33l8 -4l14 -2l12 4l15 14l7 10l18 12l8 8l11 14l5 10l7 24l1 10l4 14l0 4l-4 6l-12 6l-12 1l-22 -10l-10 -9l-8 -13l-4 -14l-14 -17l-23 -22l-3 -6l-2 -20l0 -14zM245 353l4 0l4 2l2 4l-1 6l-7 4l-4 -2l-4 -6l1 -4z"/><path fill="#2000a0" d="M52 1l5 -2l98 0l20 2l-1 8l-5 9l-10 11l-8 4l-8 8l3 14l5 9l43 43l13 9l9 11l6 10l-1 10l-2 4l-3 2l-21 0l-10 -2l-18 -11l-10 -11l-8 -4l-7 -10l-9 -6l-4 -6l0 -30l-1 -4l-5 -5l-6 -3l-7 -10l-9 -6l-7 -10l-11 -8l-6 -9l-6 -3l-8 -1l-8 -3l-3 -4zM197 32l10 -4l14 0l6 2l15 13l11 14l10 6l12 10l14 18l7 18l8 36l0 8l-5 5l-8 4l-8 2l-10 -1l-20 -11l-7 -7l-10 -16l-2 -10l-3 -5l-36 -37l-2 -4l-2 -32l1 -4zM245 353l6 1l4 5l-2 6l-4 3l-6 -1l-4 -6l1 -4z"/><path fill="#2800a2" d="M52 1l5 -2l98 0l19 2l-1 9l-10 15l-19 14l-1 2l1 8l2 6l7 12l8 6l22 22l6 8l16 12l15 18l1 10l-3 8l-3 2l-26 -1l-22 -12l-6 -8l-12 -7l-7 -10l-9 -6l-4 -6l0 -30l-1 -4l-5 -5l-6 -3l-7 -10l-9 -6l-7 -10l-11 -8l-6 -9l-6 -3l-8 -1l-8 -3l-3 -4zM195 34l14 -6l12 0l7 3l17 16l5 8l19 13l8 8l10 13l8 18l4 16l1 10l4 14l0 4l-4 6l-7 4l-14 3l-10 -3l-14 -8l-7 -6l-11 -16l-5 -16l-37 -39l-2 -5l0 -12l-1 -2l0 -18zM247 353l4 1l4 5l-2 6l-4 3l-5 -1l-4 -4l1 -6z"/><path fill="#3100a5" d="M52 1l5 -2l96 0l20 2l0 8l-6 10l-8 9l-10 6l-6 6l-1 3l5 15l4 7l40 40l12 9l15 17l3 8l-1 6l-3 6l-4 2l-16 0l-10 -2l-18 -10l-10 -11l-10 -5l-6 -9l-10 -7l-4 -6l0 -30l-2 -6l-10 -6l-6 -9l-10 -7l-6 -9l-10 -7l-9 -12l-9 -3l-8 -1l-4 -2l-3 -4zM197 33l12 -5l10 0l10 4l14 13l8 11l19 13l5 5l13 17l8 20l4 24l3 10l0 8l-4 4l-10 5l-14 1l-22 -12l-6 -6l-3 -6l-4 -4l-9 -22l-35 -36l-2 -4l-2 -32zM247 353l5 2l2 4l-1 6l-4 3l-6 -2l-3 -5l1 -4z"/><path fill="#3900a8" d="M52 1l5 -2l96 0l20 2l-1 8l-9 14l-20 16l-1 4l2 8l4 10l5 7l8 6l22 22l6 8l15 11l15 18l1 8l-3 9l-8 3l-10 0l-12 -2l-18 -10l-10 -11l-10 -5l-5 -8l-5 -5l-6 -3l-3 -4l-1 -4l0 -30l-2 -4l-10 -6l-5 -8l-5 -5l-6 -3l-5 -8l-5 -5l-6 -3l-9 -12l-7 -3l-10 -1l-4 -2l-3 -6zM199 32l12 -4l8 0l8 3l17 16l3 5l6 6l14 9l10 10l12 17l6 15l3 12l2 16l3 10l0 4l-4 6l-10 5l-14 1l-24 -14l-12 -16l-8 -20l-36 -38l-2 -12l-1 -20l2 -6zM243 355l2 -1l6 1l3 4l0 4l-5 4l-6 -1l-3 -5l0 -2z"/><path fill="#3f00a9" d="M52 1l7 -2l92 0l2 1l19 1l-1 9l-10 15l-18 14l-1 2l1 8l8 17l12 10l6 8l10 8l12 14l12 9l14 16l3 6l-3 12l-4 3l-10 1l-16 -2l-18 -10l-10 -11l-8 -4l-5 -5l-2 -4l-14 -12l-1 -4l0 -30l-2 -4l-8 -5l-5 -5l-2 -4l-5 -5l-4 -2l-5 -5l-2 -4l-5 -5l-4 -2l-12 -14l-18 -4l-4 -4zM197 34l10 -5l10 -1l9 3l18 16l5 8l20 14l6 6l12 16l7 16l4 16l1 12l4 14l-1 4l-5 5l-12 5l-8 0l-10 -4l-6 -5l-8 -4l-4 -4l-4 -7l-7 -8l-6 -18l-35 -36l-3 -6l-1 -30zM244 355l5 -1l4 3l1 4l-3 5l-6 1l-5 -6l1 -3z"/><path fill="#4500ab" d="M52 1l7 -2l92 0l2 1l19 1l-1 8l-9 14l-20 16l-1 2l3 12l9 16l6 4l24 24l4 6l16 12l10 11l6 9l0 6l-3 8l-5 3l-16 0l-10 -2l-14 -8l-12 -12l-8 -4l-5 -5l-2 -4l-14 -12l-1 -4l0 -30l-2 -4l-8 -5l-5 -5l-2 -4l-5 -5l-4 -2l-5 -5l-2 -4l-5 -5l-4 -2l-12 -14l-18 -4l-5 -7zM199 33l6 -3l10 -2l6 1l8 4l13 12l9 12l16 11l10 10l12 18l7 19l3 22l3 10l0 4l-3 5l-6 4l-6 2l-10 1l-8 -3l-6 -5l-8 -4l-6 -6l-9 -12l-8 -20l-35 -36l-2 -4l-2 -32zM247 354l4 1l3 4l-2 6l-3 2l-6 -2l-2 -3l1 -5z"/><path fill="#4b00ac" d="M52 1l7 -2l90 0l2 1l20 1l0 6l-8 14l-21 18l-1 6l4 11l6 11l10 8l8 10l8 6l8 10l16 13l14 15l4 10l-4 10l-6 3l-20 -1l-19 -10l-12 -12l-7 -3l-5 -5l-2 -4l-13 -11l-2 -7l0 -28l-2 -4l-8 -5l-5 -5l-2 -4l-5 -5l-4 -2l-5 -5l-2 -4l-5 -5l-4 -2l-12 -14l-19 -5l-3 -4zM197 35l4 -3l8 -3l10 0l8 3l16 15l8 10l12 8l13 12l11 16l7 16l3 12l2 18l3 10l-1 4l-4 4l-10 5l-8 1l-7 -2l-21 -14l-12 -16l-8 -20l-34 -35l-2 -5l-1 -10l0 -22zM247 354l3 1l3 3l0 5l-6 4l-6 -6l1 -4z"/><path fill="#5100ad" d="M52 1l7 -2l90 0l2 1l19 1l-1 10l-8 12l-14 11l-7 7l4 14l7 12l40 40l12 9l10 11l5 8l0 6l-2 6l-3 3l-6 2l-10 0l-10 -2l-20 -11l-6 -8l-10 -5l-5 -5l-3 -6l-12 -9l-1 -3l0 -26l-3 -10l-4 -4l-5 -2l-4 -4l-3 -6l-8 -5l-5 -5l-3 -6l-8 -5l-5 -5l-3 -6l-6 -4l-12 -2l-5 -2l-3 -4zM199 34l12 -5l8 0l8 3l16 15l7 10l7 4l17 14l13 19l6 13l3 12l2 16l3 10l0 6l-2 4l-10 6l-10 2l-12 -5l-4 -4l-8 -4l-5 -5l-5 -8l-6 -6l-6 -18l-35 -36l-3 -6l-1 -30zM245 355l4 0l4 4l0 3l-4 4l-4 0l-4 -5z"/><path fill="#5600af" d="M53 1l8 -2l88 0l2 1l19 1l-1 8l-7 12l-21 18l-1 2l3 12l9 16l8 6l9 11l7 5l6 6l2 4l15 12l15 16l4 8l-3 10l-2 2l-8 3l-18 -2l-18 -10l-8 -9l-11 -6l-4 -4l-3 -6l-8 -5l-5 -7l0 -28l-3 -9l-9 -5l-4 -4l-3 -6l-8 -5l-5 -5l-3 -6l-8 -5l-5 -5l-5 -8l-6 -3l-4 0l-12 -4l-2 -3zM201 33l10 -4l8 0l5 2l15 12l12 15l10 6l14 13l11 16l5 10l5 16l0 6l5 26l-6 7l-10 4l-10 0l-21 -13l-15 -19l-7 -19l-32 -32l-3 -4l-2 -6l0 -22l-1 -4l1 -4zM247 355l4 1l2 3l-1 4l-3 3l-6 -2l-1 -3l1 -4z"/><path fill="#5c00b0" d="M53 1l8 -2l86 0l2 1l20 1l0 6l-5 10l-6 8l-17 14l-1 6l10 22l12 10l5 7l10 8l12 14l6 4l16 15l6 10l0 6l-4 8l-4 2l-8 1l-14 -2l-18 -10l-8 -9l-11 -6l-7 -10l-9 -6l-4 -6l0 -30l-2 -6l-3 -3l-8 -4l-6 -9l-9 -6l-7 -10l-12 -9l-6 -9l-6 -3l-4 0l-12 -4l-2 -3zM199 35l6 -4l8 -2l8 1l6 3l17 16l2 4l5 5l12 8l12 11l12 18l6 14l3 12l1 14l3 10l0 6l-3 5l-6 4l-6 2l-8 0l-6 -2l-20 -15l-5 -8l-6 -6l-3 -6l-1 -6l-7 -12l-32 -33l-2 -15l0 -18zM242 359l3 -3l4 -1l4 6l-3 4l-3 1l-4 -3z"/><path fill="#6000b2" d="M53 1l8 -2l86 0l2 1l20 1l-1 8l-6 10l-7 8l-15 12l-1 4l6 15l8 13l6 4l22 22l6 8l18 14l7 8l5 10l-3 10l-7 4l-12 0l-10 -2l-16 -9l-10 -11l-10 -5l-6 -9l-10 -7l-3 -5l0 -30l-2 -6l-3 -3l-8 -4l-6 -9l-10 -7l-6 -9l-10 -7l-8 -11l-6 -3l-14 -3l-4 -6zM202 33l11 -4l8 1l6 3l15 14l7 10l16 11l11 11l8 12l8 16l3 10l2 20l3 10l0 4l-5 6l-12 5l-9 -1l-7 -4l-4 -4l-8 -4l-4 -4l-3 -6l-8 -8l-3 -6l-1 -6l-5 -10l-30 -30l-5 -8l-1 -28l1 -4zM243 358l2 -2l6 1l1 6l-3 2l-4 0l-3 -4z"/><path fill="#6400b4" d="M53 1l10 -2l82 0l2 1l21 1l0 6l-8 14l-20 18l-1 2l1 6l3 8l8 14l10 8l6 8l10 8l10 12l13 10l11 11l5 9l0 6l-3 6l-2 2l-6 2l-10 0l-10 -2l-16 -9l-10 -11l-10 -5l-6 -9l-10 -7l-3 -5l0 -30l-2 -6l-3 -3l-8 -4l-6 -9l-10 -7l-6 -9l-10 -7l-8 -11l-6 -3l-14 -3l-4 -6zM201 34l10 -4l8 0l6 2l15 13l11 14l10 6l14 13l11 17l7 16l3 14l2 18l2 6l-1 4l-4 4l-8 4l-10 1l-20 -12l-7 -7l-3 -6l-8 -8l-6 -18l-30 -30l-6 -8l-1 -4l0 -28zM244 357l3 -1l4 1l1 4l-3 4l-2 0l-4 -3z"/><path fill="#6900b6" d="M53 1l10 -2l82 0l2 1l20 1l0 6l-6 12l-7 8l-15 12l-1 2l4 12l9 16l38 38l6 4l15 14l6 10l-2 10l-4 4l-5 2l-8 0l-10 -2l-16 -8l-12 -12l-8 -4l-6 -8l-6 -6l-4 -2l-5 -6l0 -30l-2 -6l-3 -3l-6 -3l-6 -8l-6 -6l-4 -2l-6 -8l-6 -6l-4 -2l-10 -12l-6 -3l-14 -3l-4 -6zM203 33l8 -3l8 0l7 3l17 16l2 4l6 6l7 4l16 14l13 21l7 17l5 36l-6 7l-10 4l-8 -1l-20 -13l-16 -20l-7 -19l-32 -32l-3 -6l-1 -30zM243 359l2 -2l4 -1l3 3l-1 4l-4 2l-3 -2z"/><path fill="#6a00b4" d="M53 1l10 -2l82 0l2 1l20 1l-1 8l-7 12l-20 18l-1 4l13 27l8 6l9 11l12 10l7 9l10 7l14 14l5 10l-3 9l-2 2l-8 3l-16 -2l-20 -11l-8 -9l-8 -4l-6 -8l-14 -12l-1 -4l0 -30l-3 -6l-8 -4l-6 -8l-6 -6l-4 -2l-6 -8l-6 -6l-4 -2l-12 -14l-14 -3l-6 -3l-2 -4zM205 32l6 -2l8 0l8 4l14 13l8 11l10 6l16 15l10 16l6 12l3 10l2 20l3 10l0 4l-5 6l-3 2l-12 3l-8 -3l-8 -7l-6 -3l-16 -18l-4 -8l-1 -6l-7 -12l-30 -30l-2 -4l0 -24l-1 -2l3 -8zM243 361l2 -4l2 -1l3 1l2 4l-3 3l-2 0z"/><path fill="#6802ab" d="M53 1l12 -2l78 0l2 1l21 1l0 6l-9 16l-18 16l-1 6l5 12l7 12l10 8l6 8l10 8l11 13l6 4l16 15l6 10l0 6l-2 4l-4 4l-8 2l-14 -2l-15 -8l-11 -11l-10 -5l-4 -4l-4 -7l-12 -9l-1 -4l0 -30l-3 -6l-8 -4l-4 -4l-4 -7l-8 -5l-4 -4l-4 -7l-12 -9l-4 -7l-6 -4l-12 -2l-6 -3zM201 35l12 -5l8 1l6 3l12 11l10 13l12 8l12 11l14 22l5 12l6 34l0 6l-3 5l-10 5l-12 -1l-18 -13l-7 -10l-8 -8l-5 -15l-4 -7l-10 -9l-23 -25l-1 -4l0 -28zM246 357l3 0l2 2l0 3l-2 2l-4 -1l-1 -4z"/><path fill="#6504a3" d="M54 1l1 -1l10 -1l78 0l2 1l21 1l-1 8l-8 13l-11 11l-8 6l-1 4l4 10l9 16l31 30l4 6l9 6l18 18l3 6l0 4l-4 8l-6 3l-12 0l-8 -2l-16 -9l-8 -9l-10 -5l-4 -4l-3 -6l-13 -10l-1 -4l0 -30l-3 -6l-8 -4l-4 -4l-3 -6l-3 -3l-6 -3l-4 -4l-3 -6l-13 -10l-3 -6l-3 -3l-20 -6l-3 -3zM203 34l10 -4l4 0l8 3l17 16l2 4l7 7l6 3l19 18l15 28l3 10l4 32l-5 6l-8 4l-8 0l-5 -2l-11 -9l-6 -3l-6 -9l-10 -11l-6 -18l-32 -32l-3 -6l-1 -28l1 -4zM249 357l2 2l-1 4l-3 1l-3 -3l0 -2z"/><path fill="#63059a" d="M54 1l1 -1l10 0l2 -1l74 0l2 1l22 1l0 6l-5 10l-6 8l-16 14l-1 4l3 8l11 20l8 6l8 10l8 6l10 12l11 8l17 18l2 6l-3 8l-3 3l-6 2l-8 0l-10 -2l-16 -9l-9 -10l-9 -4l-4 -4l-3 -6l-3 -3l-6 -3l-4 -5l-1 -3l0 -30l-1 -4l-4 -4l-4 -1l-4 -3l-5 -8l-3 -3l-6 -3l-4 -4l-3 -6l-13 -10l-3 -6l-3 -3l-20 -6l-3 -3zM202 35l5 -3l8 -2l8 2l19 17l5 8l18 13l12 13l13 24l4 14l1 14l3 14l-1 4l-6 5l-8 3l-6 0l-8 -4l-6 -6l-6 -3l-5 -5l-5 -8l-5 -4l-5 -10l-1 -6l-5 -9l-31 -31l-2 -4l0 -30zM247 357l3 2l-1 4l-4 -1l0 -3z"/><path fill="#600791" d="M54 1l13 -2l74 0l2 1l22 1l-1 8l-6 10l-21 21l0 5l12 24l12 10l4 6l12 10l10 12l6 4l16 15l5 9l0 6l-3 5l-8 4l-6 0l-13 -3l-15 -8l-10 -11l-6 -2l-4 -3l-5 -8l-3 -3l-6 -3l-4 -6l-1 -4l0 -30l-5 -6l-8 -4l-5 -8l-3 -3l-6 -3l-4 -4l-3 -6l-13 -10l-3 -6l-3 -3l-20 -6l-2 -2zM203 35l8 -4l8 0l5 2l16 14l9 12l10 6l14 13l12 20l8 19l4 34l-6 7l-8 3l-6 0l-6 -3l-8 -7l-7 -4l-7 -10l-8 -8l-9 -22l-31 -31l-3 -7l0 -28zM245 359l4 -1l1 3l-3 2l-2 -2z"/><path fill="#5e0989" d="M54 1l13 -2l74 0l2 1l21 1l0 6l-4 8l-7 10l-16 14l-1 4l7 16l8 13l6 4l23 23l4 6l9 6l18 18l3 6l0 4l-3 6l-2 2l-8 3l-14 -2l-16 -8l-12 -12l-10 -5l-5 -8l-11 -8l-2 -4l-1 -8l1 -16l-1 -10l-2 -4l-11 -6l-5 -8l-11 -8l-5 -8l-11 -8l-8 -11l-6 -3l-4 0l-10 -3l-2 -2zM203 35l8 -4l8 0l6 3l16 15l8 10l14 10l12 12l16 30l2 8l1 14l3 14l0 4l-4 5l-10 5l-4 0l-8 -3l-6 -6l-8 -5l-16 -18l-3 -6l-3 -11l-4 -7l-29 -28l-3 -6l-1 -28zM245 361l2 -3l3 3l-1 1z"/><path fill="#5c0b81" d="M54 1l15 -2l70 0l2 1l22 1l0 6l-6 12l-6 8l-14 12l-1 2l1 5l13 25l8 6l8 10l13 11l6 8l10 7l17 18l2 6l-2 6l-7 6l-18 -1l-16 -8l-4 -3l-4 -6l-14 -8l-4 -7l-5 -5l-7 -4l-2 -4l0 -28l-3 -10l-11 -6l-4 -7l-5 -5l-7 -4l-4 -7l-5 -5l-7 -4l-4 -7l-4 -4l-6 -3l-4 0l-10 -3l-3 -5zM205 34l8 -3l6 0l6 3l16 15l6 9l10 6l19 19l14 26l3 10l1 16l3 14l-4 7l-8 4l-6 1l-6 -2l-10 -9l-6 -3l-4 -4l-4 -7l-9 -9l-4 -14l-5 -8l-30 -30l-2 -4l0 -30zM248 359l1 2l-2 1l-1 -1z"/><path fill="#5a0d79" d="M54 1l15 -2l70 0l2 1l22 1l-1 8l-8 14l-11 11l-6 4l-1 7l13 25l10 8l6 8l10 8l12 14l4 2l18 17l4 8l0 4l-2 5l-3 3l-5 2l-10 0l-8 -2l-15 -8l-9 -10l-9 -4l-5 -5l-2 -4l-5 -5l-4 -2l-5 -6l0 -30l-3 -8l-9 -5l-6 -8l-5 -5l-4 -2l-5 -5l-2 -4l-5 -5l-4 -2l-12 -14l-9 -3l-4 0l-6 -3l-3 -4zM205 34l8 -3l10 2l16 14l9 12l11 7l14 13l16 29l4 13l3 30l-5 6l-6 3l-8 0l-9 -5l-5 -5l-8 -5l-5 -8l-9 -9l-8 -21l-33 -34l-1 -4l0 -26l1 -4z"/><path fill="#580f72" d="M54 1l17 -2l66 0l2 1l23 1l0 6l-6 12l-4 6l-16 14l-1 2l1 4l7 15l8 13l6 4l10 12l12 10l4 6l10 7l17 17l3 6l0 4l-3 6l-7 4l-8 0l-10 -2l-16 -9l-8 -9l-10 -5l-4 -4l-4 -7l-7 -4l-5 -6l0 -30l-2 -7l-3 -3l-7 -3l-4 -4l-4 -7l-7 -4l-5 -5l-4 -7l-7 -4l-5 -5l-4 -7l-8 -4l-10 -2l-6 -4zM203 36l5 -3l7 -2l7 2l12 10l15 17l12 8l13 13l17 32l2 8l0 10l3 20l-5 6l-8 3l-6 0l-6 -3l-6 -6l-7 -4l-16 -18l-10 -24l-29 -28l-3 -6l0 -10l-1 -2l0 -16z"/><path fill="#581268" d="M54 1l17 -2l66 0l2 1l23 1l-1 8l-8 14l-6 7l-11 9l-1 4l4 10l10 18l8 6l6 6l2 4l14 12l6 8l10 7l14 14l4 7l0 4l-2 4l-4 4l-6 2l-18 -3l-14 -8l-8 -9l-10 -5l-8 -11l-8 -5l-4 -5l0 -32l-2 -5l-3 -3l-7 -3l-8 -11l-8 -5l-8 -11l-11 -8l-5 -8l-4 -3l-14 -3l-6 -4zM205 35l10 -4l7 2l13 11l14 16l8 5l16 15l12 21l7 16l1 16l3 16l-3 6l-4 3l-6 2l-6 0l-6 -3l-6 -6l-8 -5l-8 -11l-8 -8l-8 -21l-31 -31l-2 -4l0 -30z"/><path fill="#58155e" d="M55 1l18 -2l62 0l2 1l24 1l0 6l-6 12l-4 6l-8 8l-6 4l-2 3l1 7l13 24l10 8l6 8l10 8l6 8l22 19l8 9l1 8l-3 6l-8 4l-14 -2l-18 -9l-8 -9l-10 -5l-3 -3l-3 -6l-4 -4l-6 -3l-4 -5l0 -32l-1 -4l-5 -5l-6 -2l-3 -3l-3 -6l-4 -4l-6 -3l-3 -3l-3 -6l-4 -4l-6 -3l-10 -13l-20 -6l-2 -3zM205 35l6 -3l8 0l6 3l15 14l7 10l12 8l16 16l14 27l3 9l3 32l-5 6l-7 3l-8 -1l-16 -12l-18 -20l-7 -20l-31 -31l-3 -7l0 -26l1 -4z"/><path fill="#591953" d="M55 1l20 -2l60 0l2 1l24 1l-2 10l-7 12l-7 8l-10 8l0 6l11 22l5 7l5 3l23 23l4 6l10 7l16 16l3 6l0 4l-2 4l-7 5l-16 -1l-16 -8l-10 -10l-10 -5l-3 -3l-3 -6l-13 -10l-1 -4l0 -30l-2 -6l-2 -2l-8 -3l-3 -3l-3 -6l-4 -4l-6 -3l-3 -3l-3 -6l-4 -4l-6 -3l-10 -13l-20 -6l-2 -4zM207 34l6 -2l6 0l4 2l18 17l6 8l12 8l14 14l4 6l0 2l6 10l9 20l3 32l-4 5l-10 4l-6 -1l-10 -9l-6 -3l-19 -22l-3 -12l-4 -8l-29 -28l-4 -10l0 -24l3 -6z"/><path fill="#591c49" d="M55 1l2 -1l96 0l7 1l0 6l-7 14l-4 6l-14 12l-1 4l6 14l9 15l8 6l8 10l13 11l6 8l9 6l16 16l3 6l0 4l-2 4l-7 5l-10 0l-8 -2l-14 -7l-12 -12l-8 -3l-3 -3l-3 -6l-12 -9l-2 -5l0 -30l-2 -6l-11 -6l-5 -8l-4 -4l-6 -3l-3 -3l-3 -6l-4 -4l-6 -3l-10 -13l-4 -2l-14 -3l-4 -5zM206 35l7 -3l10 2l18 17l2 4l6 6l7 4l17 16l17 32l2 8l1 18l2 10l-3 6l-7 4l-6 1l-8 -4l-6 -6l-8 -5l-7 -10l-9 -9l-4 -13l-4 -8l-30 -30l-2 -4l0 -30z"/><path fill="#59203f" d="M55 1l4 -1l94 0l6 1l0 6l-9 18l-8 8l-7 5l-1 3l1 6l13 24l11 9l5 7l11 9l10 12l5 3l17 16l3 4l2 6l-3 6l-8 5l-16 -2l-12 -6l-14 -13l-9 -4l-5 -8l-4 -4l-7 -4l-3 -6l0 -32l-2 -4l-12 -7l-4 -7l-4 -4l-6 -3l-3 -3l-3 -6l-4 -4l-6 -3l-10 -13l-4 -2l-14 -3l-4 -5zM205 36l8 -4l4 0l7 3l15 14l7 10l11 7l17 17l7 15l6 9l4 10l3 34l-5 6l-4 2l-8 0l-6 -3l-8 -8l-4 -2l-17 -19l-3 -6l-4 -14l-32 -32l-2 -6l0 -26l1 -4z"/><path fill="#532039" d="M55 1l4 -1l92 0l8 1l-1 8l-8 16l-16 14l0 6l14 26l38 38l5 3l18 18l2 3l0 6l-2 4l-8 5l-16 -2l-16 -9l-8 -9l-8 -3l-4 -3l-5 -9l-7 -4l-6 -8l0 -32l-2 -4l-10 -6l-4 -4l-4 -7l-9 -5l-6 -10l-10 -6l-7 -11l-6 -3l-15 -4l-2 -2zM204 37l11 -5l10 4l6 7l6 4l10 13l11 7l15 15l8 17l6 9l4 11l1 16l2 10l0 6l-3 4l-8 4l-6 0l-18 -13l-17 -19l-8 -22l-29 -28l-4 -8l0 -26z"/><path fill="#4d2034" d="M55 1l4 -1l92 0l7 1l0 6l-10 20l-14 12l-1 4l6 13l10 17l8 6l8 10l12 10l6 8l10 7l15 15l3 6l-1 6l-5 5l-6 2l-16 -3l-14 -8l-8 -9l-10 -5l-4 -4l-3 -6l-7 -4l-5 -6l-1 -4l0 -30l-2 -5l-10 -5l-4 -4l-3 -6l-7 -4l-6 -6l-3 -6l-7 -4l-6 -6l-4 -7l-8 -4l-4 0l-9 -3l-2 -2zM207 35l8 -3l8 3l17 16l8 10l7 4l17 16l12 22l7 16l1 18l2 10l-1 5l-2 3l-8 4l-6 0l-20 -15l-6 -9l-10 -10l-4 -14l-3 -6l-30 -30l-2 -4l0 -30z"/><path fill="#47202e" d="M56 1l3 -1l92 0l7 1l-1 8l-8 16l-8 8l-6 4l-2 4l2 8l14 24l8 6l6 8l6 6l4 2l12 14l4 2l18 17l4 7l-1 6l-7 6l-16 -1l-18 -9l-8 -9l-10 -5l-5 -6l-1 -3l-10 -7l-3 -4l0 -28l-2 -10l-3 -3l-8 -3l-6 -9l-10 -7l-5 -6l-1 -3l-10 -7l-9 -12l-19 -6l-3 -4zM209 34l10 -1l4 2l17 16l2 4l7 7l8 5l16 16l6 13l10 17l2 8l2 30l-4 5l-6 3l-8 -1l-16 -13l-18 -21l-3 -11l-5 -10l-29 -28l-2 -4l0 -30z"/><path fill="#412029" d="M56 1l3 -1l92 0l6 1l0 6l-8 18l-16 14l0 6l14 26l38 38l6 4l18 18l2 6l-3 6l-7 4l-14 -1l-16 -8l-8 -9l-12 -6l-5 -8l-5 -5l-6 -3l-3 -4l0 -30l-2 -8l-3 -3l-8 -3l-5 -8l-5 -5l-6 -3l-5 -8l-5 -5l-6 -3l-9 -12l-19 -6l-3 -4zM208 35l5 -2l8 1l17 15l7 10l12 8l16 16l7 16l7 11l4 11l2 30l-4 5l-10 3l-8 -4l-8 -8l-4 -2l-6 -8l-10 -10l-4 -8l-3 -12l-3 -4l-28 -27l-3 -7l0 -26z"/><path fill="#381d27" d="M56 1l3 -1l90 0l8 1l-1 8l-7 15l-6 7l-10 8l0 6l15 28l7 5l7 7l2 4l14 12l5 7l8 5l16 16l3 6l-1 6l-8 6l-16 -2l-14 -7l-8 -9l-12 -6l-5 -8l-5 -5l-6 -3l-3 -4l0 -32l-2 -6l-3 -3l-8 -3l-5 -8l-5 -5l-6 -3l-5 -8l-5 -5l-6 -3l-5 -8l-5 -5l-18 -5l-3 -4zM207 36l6 -3l4 0l8 4l16 16l6 8l7 4l20 20l2 6l13 24l2 8l0 12l2 16l-3 4l-5 3l-6 1l-6 -3l-7 -7l-9 -6l-6 -9l-8 -7l-8 -22l-29 -28l-3 -6l-1 -6l0 -20l2 -6z"/><path fill="#2e1b26" d="M56 1l3 -1l90 0l7 1l0 6l-8 18l-7 7l-6 4l-3 5l3 10l13 22l9 7l7 9l9 7l10 12l6 4l18 17l3 6l-1 6l-4 4l-6 2l-14 -2l-15 -8l-11 -11l-8 -3l-5 -8l-5 -5l-6 -3l-3 -4l0 -32l-3 -8l-10 -4l-5 -8l-5 -5l-6 -3l-5 -8l-5 -5l-6 -3l-5 -8l-5 -5l-18 -5l-3 -4zM207 36l8 -3l8 3l16 15l8 10l8 5l16 15l8 17l6 9l5 12l3 30l-4 6l-6 3l-6 0l-16 -12l-19 -21l-2 -4l-2 -10l-4 -8l-29 -28l-2 -4l0 -30z"/><path fill="#231825" d="M56 1l5 -1l88 0l7 1l-1 8l-7 16l-15 13l-1 3l1 6l14 25l38 38l4 2l19 19l2 6l-3 6l-6 3l-10 0l-8 -2l-14 -8l-8 -9l-10 -4l-6 -10l-10 -6l-3 -4l0 -34l-3 -6l-8 -3l-4 -3l-4 -8l-10 -6l-6 -10l-12 -8l-4 -8l-6 -4l-15 -4l-3 -2zM209 35l8 -2l6 3l16 15l6 9l11 7l16 16l5 12l9 14l4 10l2 32l-6 6l-9 1l-4 -2l-17 -15l-3 -5l-11 -11l-4 -14l-4 -8l-30 -30l-1 -4l0 -26z"/><path fill="#191524" d="M56 1l5 -1l88 0l6 1l0 6l-6 16l-6 7l-11 9l0 6l8 16l9 14l6 4l10 12l12 10l4 6l10 7l17 17l2 6l-2 4l-7 5l-14 -1l-18 -9l-8 -9l-10 -4l-6 -10l-10 -6l-3 -6l0 -32l-1 -4l-4 -4l-6 -1l-5 -5l-5 -8l-8 -4l-6 -10l-10 -6l-8 -12l-6 -3l-13 -3l-3 -3zM207 37l6 -3l6 0l4 2l17 17l6 8l11 7l15 15l9 20l6 9l3 9l2 30l-3 4l-6 3l-6 0l-6 -4l-4 -5l-9 -6l-7 -10l-8 -7l-7 -21l-29 -28l-4 -8l0 -26z"/><path fill="#111223" d="M57 1l4 -1l86 0l7 1l0 8l-9 19l-10 7l-3 4l0 6l2 6l13 22l10 8l6 8l10 8l10 12l9 6l14 14l3 5l-1 7l-7 5l-14 -1l-16 -8l-10 -10l-8 -3l-5 -5l-3 -6l-12 -9l-1 -3l0 -32l-2 -6l-10 -4l-4 -4l-3 -6l-8 -5l-5 -5l-3 -6l-8 -5l-5 -5l-5 -8l-6 -3l-10 -2l-4 -2l-2 -3zM210 35l3 -1l8 1l19 18l2 4l5 5l8 5l18 18l6 15l10 17l3 32l-1 3l-4 4l-4 2l-7 -1l-11 -10l-4 -2l-6 -6l-2 -4l-9 -8l-4 -8l-2 -10l-5 -8l-27 -26l-2 -4l0 -30z"/><path fill="#0c1021" d="M57 1l4 -1l86 0l7 1l0 6l-7 18l-12 10l-4 6l2 8l14 24l10 8l6 8l10 8l10 12l6 4l15 14l5 8l-2 6l-4 4l-4 1l-14 -2l-14 -7l-8 -9l-10 -4l-5 -5l-3 -6l-8 -5l-5 -7l0 -34l-2 -4l-5 -3l-5 -1l-4 -4l-3 -6l-8 -5l-5 -5l-3 -6l-8 -5l-5 -5l-5 -8l-6 -3l-10 -2l-4 -2l-2 -3zM209 36l4 -2l4 0l6 3l16 15l8 10l8 5l12 11l6 8l4 11l8 12l4 10l2 32l-4 5l-8 2l-6 -3l-8 -8l-6 -4l-6 -8l-10 -10l-8 -22l-29 -28l-2 -4l0 -28l1 -3z"/><path fill="#070d20" d="M57 1l4 -1l86 0l6 1l0 8l-3 6l-2 8l-7 8l-8 6l-2 4l1 6l3 7l12 19l38 38l4 2l18 18l2 4l-2 6l-6 4l-16 -1l-14 -7l-8 -9l-11 -5l-4 -4l-3 -6l-8 -5l-5 -7l0 -34l-1 -3l-3 -3l-9 -3l-3 -3l-3 -6l-8 -5l-5 -5l-3 -6l-8 -5l-5 -5l-5 -8l-3 -2l-9 -2l-9 -4zM209 36l4 -2l4 0l6 3l6 7l9 7l7 10l12 8l14 14l5 12l13 24l2 32l-3 4l-9 3l-6 -3l-6 -7l-8 -5l-6 -8l-10 -10l-2 -4l-2 -10l-4 -8l-30 -30l-1 -4l0 -26z"/><path fill="#020b1e" d="M57 1l6 -1l84 0l6 1l0 6l-6 17l-4 5l-9 6l-3 4l0 6l3 8l13 21l8 6l8 10l13 11l6 8l9 6l17 18l1 4l-2 4l-6 4l-16 -1l-12 -6l-11 -11l-10 -4l-3 -3l-2 -5l-6 -6l-5 -2l-3 -4l-2 -40l-2 -2l-10 -3l-4 -7l-6 -6l-5 -2l-3 -3l-2 -5l-6 -6l-5 -2l-3 -3l-2 -5l-6 -6l-15 -4l-3 -2zM211 35l6 -1l6 3l16 16l6 8l8 5l18 17l6 15l6 9l6 14l2 30l-4 4l-4 2l-6 0l-11 -10l-5 -3l-19 -21l-4 -16l-4 -6l-27 -26l-3 -8l0 -22l2 -6z"/><path fill="#000a1e" d="M57 1l6 -1l82 0l7 1l0 8l-6 16l-7 7l-4 2l-4 5l1 10l14 24l11 9l5 7l11 9l10 12l4 2l18 17l3 6l0 4l-7 6l-8 0l-10 -2l-11 -6l-11 -11l-10 -4l-6 -10l-9 -5l-3 -4l-1 -6l1 -24l-2 -10l-4 -3l-4 0l-4 -2l-6 -10l-9 -5l-3 -3l-4 -8l-9 -5l-3 -3l-5 -9l-5 -3l-13 -3l-3 -2zM212 35l3 -1l6 2l18 17l2 4l6 6l7 4l18 18l4 12l8 12l5 12l0 12l2 16l-4 6l-4 2l-6 0l-12 -11l-4 -2l-5 -5l-2 -4l-11 -11l-4 -15l-3 -6l-29 -28l-2 -4l0 -30z"/></g></svg><svg width="1224" height="612" style="position:absolute;left:0;top:0;filter:blur(2.2px)"><path d="M672.0 172.0 700.0 182.0 733.0 199.0" fill="none" stroke="#ffe850" stroke-opacity="0.85" stroke-width="11" stroke-linecap="round" stroke-linejoin="round"/><path d="M698.0 206.0 699.0 244.0 697.0 290.0" fill="none" stroke="#ffe850" stroke-opacity="0.85" stroke-width="9" stroke-linecap="round" stroke-linejoin="round"/><path d="M756.0 217.0 765.0 234.0 763.0 266.0" fill="none" stroke="#ffe850" stroke-opacity="0.85" stroke-width="15" stroke-linecap="round" stroke-linejoin="round"/><path d="M758.0 288.0 783.0 280.0 808.0 271.0" fill="none" stroke="#ffe850" stroke-opacity="0.85" stroke-width="9" stroke-linecap="round" stroke-linejoin="round"/><path d="M776.0 218.0 788.0 230.0" fill="none" stroke="#ffe850" stroke-opacity="0.85" stroke-width="10" stroke-linecap="round" stroke-linejoin="round"/><path d="M672.0 172.0 700.0 182.0 733.0 199.0" fill="none" stroke="#ffffff" stroke-width="4" stroke-linecap="round" stroke-linejoin="round"/><path d="M698.0 206.0 699.0 244.0 697.0 290.0" fill="none" stroke="#ffffff" stroke-width="3.5" stroke-linecap="round" stroke-linejoin="round"/><path d="M756.0 217.0 765.0 234.0 763.0 266.0" fill="none" stroke="#ffffff" stroke-width="8" stroke-linecap="round" stroke-linejoin="round"/><path d="M758.0 288.0 783.0 280.0 808.0 271.0" fill="none" stroke="#ffffff" stroke-width="3.5" stroke-linecap="round" stroke-linejoin="round"/><path d="M776.0 218.0 788.0 230.0" fill="none" stroke="#ffffff" stroke-width="4" stroke-linecap="round" stroke-linejoin="round"/></svg><svg width="1224" height="612" viewBox="0 0 1224 612" style="position:absolute;left:0;top:0"><path d="M189.0 157.0 588.0 157.0M370.0 0.0 370.0 157.0M270.6 157.0 270.6 213.2M173.6 209.4 186.5 209.4 192.9 220.4 212.0 218.0 242.9 213.2 270.6 213.2M270.6 213.2 278.8 221.0 268.0 242.7 268.5 246.6 272.4 249.0 272.4 286.3M283.9 157.0 286.5 177.3 308.3 200.4 305.7 220.9 314.7 218.4 330.0 241.4 353.1 239.4 355.2 242.7M355.2 231.7 455.2 231.7M355.2 231.7 355.2 305.5 383.4 305.5M455.2 157.0 455.2 305.5M383.4 305.5 455.2 305.5M169.8 287.1 355.2 287.1M228.8 287.1 228.8 344.0M312.9 287.1 312.9 344.0M162.0 168.4 172.4 192.7 173.6 209.4 171.0 246.6 166.0 264.5 169.8 287.1 166.0 310.7 166.0 314.0 174.9 342.2 186.5 358.9 194.2 360.2 195.4 375.5 201.8 380.7 200.6 390.9 216.0 408.9 218.5 425.5 240.3 433.2 250.6 439.6 260.8 444.8 269.8 462.2 278.8 480.7 289.0 514.0M186.5 358.9 193.0 361.0 199.0 359.5 208.0 361.0 194.0 364.0 199.0 370.0 195.4 375.5M228.8 287.1 228.8 343.5 304.4 416.6 312.1 430.7 303.9 447.3 307.0 457.6 303.1 460.2M269.4 462.5 302.6 459.7 307.3 455.9M301.6 464.4 354.8 484.4 384.2 484.4 394.6 484.4 396.5 476.8 418.0 476.8 419.5 473.2 469.2 473.2M312.9 287.1 312.9 388.0 303.0 396.0 304.4 416.6M301.8 396.0 306.0 388.0 308.0 394.0 314.0 392.0 318.5 401.0M312.9 380.2 468.0 380.2M383.4 305.5 383.9 484.5M483.8 0.0 483.8 19.7 487.7 65.0 492.6 157.6M455.2 214.0 560.8 214.0M553.1 157.3 560.8 214.0 557.0 219.6 562.1 226.0 562.9 259.4M455.2 268.9 532.6 268.9 535.2 270.9 550.6 272.2 560.8 276.0M521.1 250.4 532.6 268.9M560.8 276.0 568.0 290.4 571.5 313.3 578.6 323.9 584.7 329.2 589.2 339.8 589.0 380.2M455.2 305.5 483.9 305.5 483.9 344.0M562.9 259.6 636.7 259.6M578.0 157.3 587.6 158.8 600.4 166.0 614.9 165.2 621.3 170.8 630.9 174.8 643.7 172.4 645.3 174.8 662.9 174.8M483.9 324.3 577.5 324.3 581.3 326.8 589.0 338.4 589.0 380.2M483.9 305.5 483.9 380.2M383.9 380.2 589.0 380.2M469.8 380.2 469.2 473.2M469.8 389.6 512.1 389.6 512.1 425.5 524.9 432.0 539.0 433.2 553.1 439.6 565.9 439.6 576.2 437.1 590.3 440.9 596.7 443.5M589.0 380.2 589.0 389.1 653.1 389.1 650.6 398.6 658.3 398.6M589.0 389.1 591.0 443.5M596.7 453.7 637.7 453.7M596.7 443.5 596.7 473.0 597.6 474.0 605.3 491.3 601.5 512.5 599.5 514.4M653.1 360.2 663.4 370.4 667.2 379.4 660.8 388.4 658.3 398.6 655.7 401.2 650.6 419.1 645.4 426.8 639.0 437.1 637.7 453.7 639.0 470.4 632.6 490.9 658.3 490.9 660.8 503.7M689.6 294.0 689.6 339.6 687.7 352.5 683.9 362.7 676.2 375.5M667.2 379.4 676.2 375.5 685.2 364.0 694.2 361.4 704.4 358.9 709.5 361.4 719.8 347.3 728.8 346.0 730.0 340.9 755.7 352.5 763.4 352.5M728.4 291.8 728.4 341.5M666.0 387.1 768.0 387.1M745.4 387.1 768.0 373.0M678.8 380.7 683.9 398.6M651.8 417.1 750.6 417.1M681.3 417.1 676.2 502.5M717.2 417.1 726.2 467.8 723.6 478.1 727.5 496.1M687.7 490.9 724.9 490.9 727.5 496.1 766.6 499.8 769.5 495.5 775.2 494.1M789.5 287.1 789.5 329.4M789.5 287.1 866.5 287.1 871.6 296.0 883.1 301.2M789.5 329.4 862.6 329.4M803.6 329.4 803.6 338.4 819.0 332.0 828.0 339.6 838.3 344.8M763.9 353.7 770.3 367.8 776.7 375.5 792.1 370.4 804.9 347.3 817.7 334.5M728.0 340.9 743.4 348.6 761.3 353.7 769.0 343.5 789.5 329.4M768.0 387.1 856.2 387.1M881.8 314.0 880.6 326.8 871.6 339.6 867.7 344.8M883.1 301.2 866.5 303.7 865.2 315.3 870.3 321.7 860.1 329.4 858.8 339.6 869.0 342.2M881.8 312.7 912.6 303.7 902.4 307.6 881.8 312.7M888.3 287.1 912.6 287.1 912.6 299.9M888.3 287.1 888.3 301.2M890.8 273.5 926.7 273.5M892.1 231.4 893.4 273.0M917.7 231.4 916.5 242.2 904.9 252.5 903.6 273.0M922.9 226.8 925.4 264.0 928.0 267.8M917.7 231.4 921.6 224.3 935.7 214.0M912.6 299.9 907.5 305.0 881.8 314.0M926.7 273.5 922.9 290.9 933.1 293.5 938.3 292.2 931.8 283.2 928.0 273.0 928.0 265.3 934.0 258.0 938.0 256.0 940.0 252.0 944.0 252.0 946.0 248.0 950.0 249.0 953.0 245.0 958.0 245.0 961.0 241.0 966.0 240.0 970.0 236.0 975.0 236.0 981.1 236.2 979.6 229.2 969.4 217.4 970.2 192.4M855.3 387.7 861.0 405.5 853.8 416.9 842.4 425.5 816.6 438.3 810.9 445.5 785.2 465.5 778.0 479.8 775.2 494.1 775.2 499.8 785.2 531.3 796.6 568.5 795.2 585.6 780.9 598.5 770.9 579.9 762.3 562.7 758.0 545.6 758.0 528.4 755.2 519.8 742.3 508.4 733.7 509.8 728.0 514.1 719.8 506.3M848.0 394.0 854.0 400.0 846.0 404.0 852.0 410.0 844.0 414.0M749.4 418.3 762.3 414.0 782.3 415.5 785.2 419.8 800.9 419.8 816.6 438.3M735.1 416.9 773.8 388.3M749.4 418.3 756.6 428.3 776.6 454.1 782.3 471.2M781.0 563.0 788.0 561.0 787.0 571.0 781.0 563.0M811.0 570.0 820.0 566.0 825.0 569.0 814.0 573.0M825.0 566.0 834.0 569.0 838.0 580.0 835.0 586.0M842.0 592.0 850.0 598.0 854.0 610.0M823.0 612.0 826.0 602.0 831.0 612.0M573.3 313.3 631.5 313.3M718.0 36.7 726.8 41.1 744.4 41.1 763.5 44.0 764.9 58.7 763.5 67.4 769.3 82.1 770.8 96.8 779.6 102.6 791.3 112.9 806.0 124.6M718.0 36.7 723.9 45.5M782.5 118.8 791.3 112.9M767.9 80.6 781.0 79.2 786.9 88.0 767.9 82.1M806.0 124.6 801.6 111.4 806.0 108.5 814.8 115.8 819.2 99.7 814.8 85.0 811.8 67.4 808.9 61.6 801.6 52.8 820.6 44.0 835.3 32.3 845.6 17.6 844.1 0.0M808.0 64.0 812.0 69.0 809.0 74.0 814.0 79.0 811.0 84.0M797.2 30.0 806.0 17.0 811.8 22.0 808.0 30.0 797.2 30.0M803.0 112.9 803.0 187.7 811.8 202.3 841.2 217.0 847.0 222.9 873.4 222.9 876.4 231.7M879.3 137.8 882.0 125.0 899.8 113.0 893.0 119.0 882.0 132.0 879.3 137.8M923.3 168.6 938.0 173.0M920.3 199.4 938.0 181.8M1026.3 0.0 1022.4 18.0 1034.0 31.0 1036.6 37.3 1029.0 51.0 1010.9 50.1 985.1 41.1 974.9 45.0 972.3 61.7 981.3 74.6 985.1 86.1 990.3 97.7 1016.0 105.4 1022.0 94.0 1028.0 86.0 1030.0 94.0 1024.0 97.0 1029.0 102.9 1122.7 102.9 1122.7 113.1M988.0 51.0 991.0 59.0 998.0 56.0 1006.0 55.0 1004.0 64.0 1010.0 69.0 1008.0 74.0 1012.0 64.0 1018.0 62.0 1028.0 64.0 1036.0 63.0M991.0 59.0 994.0 66.0 1001.0 69.0 1004.0 64.0M1044.0 0.0 1062.0 7.0 1052.0 15.0 1072.0 31.0 1078.0 44.0 1086.0 46.0 1088.0 48.0 1098.0 49.0 1118.0 54.0 1121.0 64.0 1114.0 69.0 1121.0 69.0 1134.0 72.0 1138.0 90.0 1142.0 97.0 1140.0 104.0 1124.0 114.0M1068.0 70.0 1098.0 62.0 1118.0 59.0M1073.0 77.0 1083.0 74.0 1098.0 69.0M1124.0 113.1 1093.1 123.4 1077.7 133.7 1057.1 136.3 995.4 133.7 985.1 138.9 974.9 149.1 959.4 156.9 949.1 167.1 933.7 185.1 920.9 199.3M1016.0 141.4 1028.9 141.4 1057.1 154.3 1052.0 156.9 1021.1 144.0 1016.0 141.4M1090.6 183.9 1103.4 164.6 1093.1 164.6 1106.0 159.5 1113.7 144.0 1121.4 126.0 1144.6 110.6 1142.0 113.1 1126.6 146.6 1142.0 144.0 1154.8 151.7 1172.8 154.3 1178.0 164.6 1170.3 174.9 1185.7 182.6 1180.5 200.6 1165.1 198.0 1172.8 180.0 1154.8 180.0 1139.4 180.0 1126.6 182.6 1090.6 183.9M928.0 194.0 940.5 179.9 951.4 170.6 962.4 154.9 974.9 151.0 979.6 144.0M928.0 195.6 937.4 184.6 949.9 176.8 974.9 161.2 1003.0 153.4 1020.2 159.6 1021.8 162.8 1015.5 170.6 1003.0 173.7 995.2 172.1M928.0 167.4 940.5 172.1M928.0 222.1 937.4 200.3 949.9 186.2 954.6 189.3 963.9 187.8 970.2 192.4M954.6 189.3 963.9 177.6 979.6 176.8 996.8 172.9 1001.4 179.9 1013.9 180.7 1009.2 192.4 1015.5 200.3 1021.8 209.6 1026.4 211.2M981.1 229.9 993.6 225.3 1012.4 217.4 1017.1 215.9 1021.8 212.8 1012.4 225.3 1031.1 225.3 1020.2 226.8M993.6 240.9 1003.0 236.2 1017.1 228.4 1031.1 224.5M993.6 240.9 993.6 251.8 1001.4 259.6 1009.2 253.4 1015.5 245.6 1028.0 237.8 1037.4 234.6 1065.5 225.3M1024.9 212.8 1034.3 217.4 1046.8 217.4 1053.0 215.9 1059.3 219.0 1065.5 225.3M1060.8 214.3 1074.9 194.0 1076.4 200.3 1074.9 206.5 1084.3 209.6 1082.7 215.9 1065.5 220.6 1060.8 214.3M1066.0 216.0 1078.0 208.0M1018.6 198.7 1023.3 194.0 1024.9 201.8 1037.4 206.5 1051.4 204.9 1043.6 208.1 1045.2 212.8 1037.4 212.8 1035.8 208.1 1018.6 198.7M1053.0 189.3 1060.8 183.1M581.5 157.6 581.5 85.7 670.2 11.8M618.9 0.0 619.9 3.9 614.0 10.8 640.6 3.9 670.2 11.8 687.9 26.6 711.5 32.5 723.4 39.4 719.4 46.3 725.3 40.4 748.0 41.4M581.5 157.6 582.0 150.0 586.0 146.0 588.0 140.0 591.0 144.0 594.0 150.0 597.0 154.0 592.0 158.0 588.0 161.0M669.0 138.0 674.0 134.0 680.0 136.0 683.0 142.0 680.0 148.0 673.0 149.0 668.0 144.0 669.0 138.0M468.0 0.0 478.0 2.0 485.7 4.0 479.8 13.8 474.0 17.0 468.0 19.7M517.3 13.8 524.0 10.0 528.0 11.0 534.0 6.0 540.9 2.0M0.0 0.0 11.5 5.8 19.2 23.1 15.4 11.5 5.8 7.7 10.0 2.0M25.0 7.7 30.8 11.5 26.0 15.0 30.0 19.0 28.8 26.9 24.0 18.0M38.5 32.7 46.0 36.0 44.0 40.0 57.7 44.2 52.0 47.0 57.7 51.9 48.1 51.9 42.3 46.2 46.0 44.0 38.5 32.7M42.3 61.5 63.5 62.5 59.6 80.8 69.2 98.1 65.4 98.1 55.8 86.5 51.0 82.0 54.0 79.0 46.2 73.1 48.0 68.0 42.3 61.5M159.6 13.5 184.6 42.3M163.5 25.0 198.1 26.9M150.0 123.1 159.6 134.6 169.2 153.8M184.0 167.0 189.0 172.0 184.0 176.0 193.0 180.0 187.0 185.0 195.0 189.0 189.0 193.0M228.8 0.0 228.8 69.0 233.3 74.9 245.1 79.8 251.1 86.7 253.0 90.6 266.8 100.5 272.7 106.4 282.6 114.3 290.5 122.2 302.3 134.0 306.2 149.8 312.1 157.6M384.2 484.4 385.1 493.8 390.8 501.4 388.9 520.4 390.8 541.3 384.2 543.2 385.1 550.8 390.8 564.1 381.3 577.3 379.4 586.8 388.9 594.4 394.0 602.0 402.0 612.0M390.8 564.1 414.7 591.8M301.6 465.4 299.7 473.0 305.4 478.7 313.0 478.7 320.6 485.3 326.3 488.2 330.1 505.2 337.7 522.3 341.5 531.8 352.9 545.1 362.4 552.7 364.3 560.3 373.7 569.8 381.3 577.3M301.6 465.4 298.8 473.0 302.6 488.2 305.4 509.0 318.7 522.3 330.1 545.1 333.9 554.6 341.5 566.0 349.1 577.3 354.8 594.4 360.5 612.0M269.4 462.5 277.0 478.7 288.4 505.2 290.3 514.7 311.1 533.7 313.0 541.3 310.2 547.0 298.8 548.9 318.7 567.9 324.4 567.9 335.8 577.3 339.6 590.6 339.6 605.8 345.3 612.0M310.2 547.0 331.1 547.0M294.0 541.3 296.9 547.0M318.7 517.6 325.4 528.0 321.0 520.0M333.9 524.0 339.6 525.0 338.0 531.0 334.0 530.0 333.9 524.0M343.4 567.9 346.2 572.6M251.5 523.0 252.5 527.0M418.8 476.9 439.9 495.2 447.6 514.4 453.4 520.2 466.8 527.8 474.5 513.4 491.8 513.4 503.4 525.9 511.1 543.2 518.8 554.8 522.6 566.3 528.4 577.8 539.9 582.7 551.5 585.5M551.5 585.5 549.5 560.5 557.2 545.2 560.8 538.1 580.0 527.8 590.3 518.9 600.6 515.0M557.0 542.0 551.0 540.0 560.0 536.0 554.0 531.0 564.0 532.0 566.0 526.0 571.0 531.0 578.0 525.0 576.0 520.0 584.0 521.0M551.5 585.5 547.6 612.0M466.8 527.8 456.3 549.0 461.1 572.1 465.9 577.8 464.9 599.0 476.5 612.0M388.0 564.4 395.7 566.3 403.4 581.7 413.0 590.3 422.6 585.5 426.5 570.2 438.0 574.0 449.5 575.9 455.3 570.2 461.1 572.1M413.0 590.3 412.0 600.9 418.8 612.0M514.9 552.8 509.2 552.8 503.4 560.5 501.5 566.3 503.4 574.0 496.7 577.8 499.5 587.5 503.4 595.2 497.6 606.7 500.0 612.0M514.9 552.8 516.8 560.5 526.5 579.8 534.2 585.5 532.2 597.1 522.6 606.7 518.8 612.0M464.9 599.0 474.5 600.9 478.4 608.6M388.0 595.2 395.7 600.9 399.5 608.6M600.6 515.0 608.3 513.7 622.4 518.9 624.9 513.7 631.3 515.0 637.7 518.9 637.7 524.0 645.4 526.6 649.3 521.4 651.8 526.6 654.4 520.2 660.8 522.7 668.5 525.3 665.9 529.1 663.4 525.3 660.8 517.6 663.4 509.9 659.5 507.3 649.3 506.1 653.1 503.5 660.8 504.8M624.0 513.0 628.0 512.0 629.0 517.0M660.8 504.8 669.8 501.6 677.5 502.8 682.6 504.1 689.0 504.8 708.0 501.6 719.8 506.3M689.0 490.7 691.6 503.5M683.0 504.0 683.0 496.0 686.0 503.0M394.2 182.5 400.0 180.0 406.0 182.0 413.0 179.0 418.0 180.0 423.6 177.3 422.0 184.0 418.0 181.0M458.3 173.5 464.0 172.0 469.0 175.0 478.8 177.3 484.0 180.0 496.7 183.7 492.0 184.0M503.0 199.0 505.0 206.0 507.0 218.0 502.0 226.0 496.7 236.3 507.0 241.4M530.1 66.8 540.9 68.0 544.5 71.6 550.5 82.5 555.3 94.5 558.9 108.9 564.9 116.1 562.5 126.9 556.5 130.5 555.3 122.1 550.5 111.3 545.7 99.3 538.5 100.5 536.1 94.5 528.9 84.9 533.7 82.5 525.3 80.1 526.5 71.6 530.1 66.8M500.0 75.3 509.6 72.8 515.6 77.7 519.3 78.9 518.0 83.7 512.0 82.5 498.8 80.1 497.6 83.7 502.4 87.3 509.6 88.5 512.0 96.9 513.2 105.3 519.3 108.9 527.7 111.3 531.3 120.9 533.7 123.3 540.9 128.1 539.7 134.1 533.7 134.1 532.5 126.9 528.9 118.5 524.1 111.3 514.4 107.7M507.2 60.8 516.8 63.2 508.4 69.2 518.0 65.6M537.3 65.6 542.1 58.4 544.5 63.2M48.1 0.0 38.5 -1.0 48.5 0.8 49.6 2.7 44.2 -1.4 51.9 3.9 51.1 5.4 52.8 7.9 47.8 8.5 53.8 8.7 55.2 9.8 38.3 8.0 55.8 8.9 57.6 11.8 60.1 13.8 45.5 11.3 62.1 14.5 62.4 15.8 50.7 13.3 64.1 17.7 64.8 17.6 67.5 18.9 62.3 21.5 67.6 18.9 70.3 20.2 73.0 21.5 67.5 21.6 75.7 22.9 75.7 22.8 70.3 22.4 77.7 24.0 78.4 24.1 68.0 29.4 78.8 25.4 80.0 26.7 81.8 29.3 75.3 31.6 83.1 30.0 83.5 31.8 75.5 35.3 85.7 34.7 85.4 34.1 87.7 36.2 78.0 36.2 90.1 36.0 90.0 38.3 77.7 39.2 89.7 39.7 92.1 40.5 74.2 41.0 93.8 43.3 94.0 43.0 96.0 45.4 97.9 47.9 85.7 48.3 99.5 49.0 100.4 49.6 103.0 51.1 91.7 56.6 104.1 50.5 105.6 52.7 102.8 55.3 106.5 52.0 108.3 54.2 91.1 59.3 109.9 54.5 110.3 56.4 112.0 59.0 98.0 65.8 113.9 59.7 113.9 61.3 115.8 63.7 110.4 64.4 117.3 65.4 117.6 66.1 105.0 68.4 117.7 66.7 119.1 68.7 120.5 71.5 122.0 74.2 123.4 77.0 124.3 80.0 108.3 81.4 125.0 82.5 125.2 82.9 113.9 88.3 126.4 86.3 126.1 85.9 127.1 88.9 117.8 91.3 128.1 90.5 128.1 91.8 116.9 91.7 128.7 92.8 129.1 94.7 130.2 97.7 131.2 100.6 132.4 103.4 133.5 106.3 135.4 108.6 130.7 108.6 136.5 110.3 137.6 110.7 139.9 112.8 142.3 114.8 144.7 116.8 139.0 118.3 145.2 116.8 146.8 119.0 148.9 121.4 141.8 121.7 148.3 124.3 150.9 123.7 152.9 126.1 147.8 126.2 155.1 127.5 155.3 128.0 153.4 127.8 156.9 128.7 157.9 129.7 157.6 128.3 158.1 131.0 160.5 131.5 157.8 132.5 161.3 132.2 163.1 133.1 161.5 129.9 163.7 132.4 165.8 134.7 168.7 135.9 171.4 135.0 171.2 136.2 171.5 137.1 171.5 135.4 173.2 138.4 174.2 138.5 173.6 135.3 175.4 139.0 177.0 139.9 178.0 139.9 178.8 141.8 179.3 141.8 181.0 144.4 182.8 146.9 184.6 149.5 185.3 149.0 186.0 152.1 186.3 152.1M41.7 6.5 39.0 5.6 40.4 4.4 40.5 -1.4 46.6 3.6 41.7 6.5M57.1 11.7 55.5 14.9 46.5 14.4 46.8 13.8 47.4 10.1 47.7 8.5 48.4 8.6 57.1 11.7M62.0 17.9 58.9 22.1 56.6 18.2 57.2 17.6 57.9 12.9 62.0 17.9M57.7 26.0 58.9 26.3 58.5 27.0 56.2 30.0 50.5 28.7 52.9 23.8 56.1 23.4 57.7 26.0M77.5 31.9 70.2 32.9 67.9 33.0 68.1 28.7 69.7 28.1 71.6 24.0 77.5 31.9M73.2 38.9 70.8 41.1 69.5 42.3 63.7 41.2 69.1 36.8 72.5 36.0 73.2 38.9M86.6 42.0 83.6 43.1 82.3 46.8 82.1 42.7 81.3 35.7 85.1 39.2 86.6 42.0M89.5 50.1 88.9 51.4 87.4 54.5 84.5 55.2 84.5 51.7 84.1 51.8 90.9 46.9 89.5 50.1M105.9 67.6 97.5 65.6 100.7 59.0 102.1 58.3 102.5 59.8 104.5 61.3 105.9 67.6M102.4 72.4 104.0 70.3 105.2 62.7 107.8 66.4 110.1 66.5 102.4 72.4M112.9 80.9 110.7 77.7 105.4 74.4 106.9 73.6 106.0 72.3 111.5 71.8 112.9 80.9M117.6 90.2 117.6 87.0 113.7 88.1 113.4 85.0 111.4 84.9 115.4 83.9 122.5 80.0 117.6 90.2M128.2 101.9 125.2 107.4 121.7 102.3 120.7 97.2 121.5 95.7 128.2 101.9M151.1 122.0 149.3 124.0 149.5 125.7 147.2 127.0 144.3 124.1 143.8 124.7 148.3 120.7 151.1 122.0M155.5 127.6 159.5 128.0 151.6 131.8 151.3 132.1 150.6 133.0 151.4 126.4 156.7 122.3 155.5 127.6M164.5 133.1 161.7 138.7 155.7 133.1 159.8 128.2 163.2 127.1 164.5 133.1M177.2 144.8 171.7 142.5 171.2 140.0 174.0 139.1 174.1 137.4 177.2 144.8M862.6 329.4 858.0 334.0 861.0 340.0 854.0 344.0 859.0 350.0 852.0 354.0 857.0 360.0 850.0 364.0 855.0 370.0 849.0 376.0 854.0 382.0 856.2 387.1M868.0 331.0 864.0 338.0 868.0 344.0 863.0 350.0 867.0 356.0 862.0 362.0 866.0 369.0 861.0 375.0M869.0 342.2 872.0 350.0 868.0 360.0 873.0 366.0 868.0 374.0 864.0 380.0M867.7 344.8 874.0 354.0 872.0 366.0 866.0 378.0 862.0 384.0M840.5 246.1 853.0 241.9 869.7 231.5 917.7 231.4M328.8 293.7 332.6 295.0 336.5 307.8 341.6 311.7 337.7 305.3 335.2 297.6 328.8 293.7M624.5 199.7 621.3 200.5 622.1 211.7 613.3 218.9 616.5 226.1 614.9 237.3 635.0 250.7 639.4 271.9 645.6 276.3 651.7 285.1 650.0 294.8 640.3 299.2 640.3 308.0 635.0 316.0 635.0 329.2 645.6 341.5 650.8 354.0 653.1 360.2M625.2 197.3 663.1 174.7 672.1 164.8 681.1 157.6 704.6 161.2 713.6 173.8 726.2 177.4 731.6 193.7 733.4 197.3 737.0 204.5 744.2 211.7M643.7 172.4 663.1 174.7M625.2 197.3 641.4 195.5 643.2 200.9 650.5 202.7 677.5 190.1 686.5 186.5 675.7 193.7 677.5 197.3 686.5 195.5 702.8 204.5 713.6 200.9 726.2 199.1 737.0 204.5M677.5 170.2 729.8 197.3M650.5 202.7 686.5 217.1 688.3 226.1 682.9 238.8M682.9 238.8 697.4 226.1 702.8 218.9 711.8 215.3 719.0 211.7 729.8 215.3 744.2 211.7M695.5 226.1 690.1 233.4 684.7 262.2 690.1 276.6 691.9 292.9 701.0 291.1M701.0 291.1 708.2 271.2 704.6 255.0 708.2 240.6 711.8 233.4 719.0 226.1 715.4 233.4 719.0 235.2 724.4 222.5 726.2 217.1 729.8 215.3M729.8 215.3 747.8 229.7 749.6 235.2 746.0 242.4 742.4 253.2 755.1 251.4 760.5 265.8 756.9 280.2 755.1 283.8M744.2 211.7 758.7 226.1 765.9 258.6 758.7 280.2M744.2 211.7 774.9 211.7 787.5 213.5 796.5 226.1 794.7 233.4 800.1 235.2 796.5 238.8 791.1 235.2 780.3 237.0 776.7 226.1 773.1 226.1 778.5 231.5 780.3 238.8M751.5 215.3 762.3 211.7 773.1 211.7 771.3 218.9 762.3 217.1 751.5 215.3M780.3 238.8 776.7 253.2 771.3 262.2 765.9 271.2 758.7 278.4M751.5 287.5 758.7 278.4 773.1 276.6 789.3 274.8 807.4 269.4 812.8 265.8 809.2 273.0 780.3 285.6 760.5 294.7 751.5 291.1M755.0 289.0 811.0 268.0M800.1 262.2 812.8 256.8 832.2 249.2 840.5 246.1 848.8 248.6 844.7 254.4 832.2 256.5 813.4 260.7 811.3 264.8 800.1 262.2M690.1 292.9 728.0 292.9 751.5 291.1M648.7 278.4 684.7 278.4M109.2 125.6 115.2 123.2 128.0 127.0 138.0 128.0 150.1 131.6 156.0 139.0 160.9 149.7 168.0 151.0 175.3 154.5 178.0 160.0 181.3 168.9 173.0 167.0 158.5 161.7 155.0 157.0 147.7 156.9 143.0 152.0 138.0 151.0 132.0 143.7 124.0 143.0 126.0 140.0 117.6 135.3 115.0 133.0 118.0 130.0 109.2 125.6" fill="none" stroke="#000" stroke-width="1.3" stroke-linejoin="round"/></svg></div>
<div class="t" id="t5" style="left:518px;top:712px;font-size:22.2px;">Snow Depth Anomaly</div>
<div id="cb"></div><div id="cbo"></div>
<div class="tk" style="left:276.2px;top:757.5px;height:4.5px;"></div>
<div class="tk" style="left:392.0px;top:756px;height:11px;"></div>
<div class="tk" style="left:507.8px;top:757.5px;height:4.5px;"></div>
<div class="tk" style="left:623.5px;top:756px;height:11px;"></div>
<div class="tk" style="left:739.2px;top:757.5px;height:4.5px;"></div>
<div class="tk" style="left:855.0px;top:756px;height:11px;"></div>
<div class="tk" style="left:970.8px;top:757.5px;height:4.5px;"></div>
<svg style="position:absolute;left:0;top:0;" width="1248" height="832">
<polygon points="131,750 155.5,738 155.5,762" fill="#560000" stroke="#fff" stroke-width="1.6" stroke-linejoin="miter"/>
<polygon points="1116,750 1092.5,738 1092.5,762" fill="#000a1e" stroke="#fff" stroke-width="1.6" stroke-linejoin="miter"/>
</svg>
<div class="lb" id="l0" style="left:161.0px;top:768px;transform:translateX(-50%);">-1.0</div>
<div class="lb" id="l1" style="left:392.5px;top:768px;transform:translateX(-50%);">-0.5</div>
<div class="lb" id="l2" style="left:624.0px;top:768px;transform:translateX(-50%);">0.0</div>
<div class="lb" id="l3" style="left:855.5px;top:768px;transform:translateX(-50%);">0.5</div>
<div class="lb" id="l4" style="left:1087.0px;top:768px;transform:translateX(-50%);">1.0</div>
</body></html>
